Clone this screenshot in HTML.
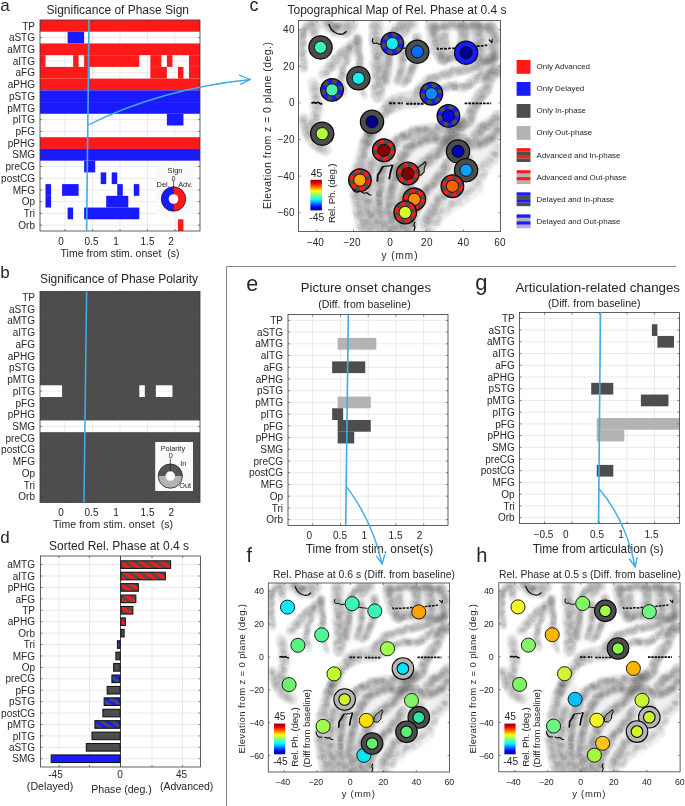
<!DOCTYPE html>
<html><head><meta charset="utf-8"><title>Figure</title>
<style>
html,body{margin:0;padding:0;background:#fff;}
svg{display:block;font-family:"Liberation Sans",sans-serif;}
</style></head><body>
<svg width="685" height="806" viewBox="0 0 685 806">
<rect width="685" height="806" fill="#fff"/>
<g opacity="0.999">
<defs>
<linearGradient id="jet" x1="0" y1="1" x2="0" y2="0">
<stop offset="0" stop-color="#00008F"/><stop offset="0.11" stop-color="#0000FF"/><stop offset="0.36" stop-color="#00FFFF"/>
<stop offset="0.5" stop-color="#80FF80"/><stop offset="0.63" stop-color="#FFFF00"/><stop offset="0.88" stop-color="#FF0000"/><stop offset="1" stop-color="#800000"/>
</linearGradient>
<pattern id="hr" width="6" height="6" patternUnits="userSpaceOnUse" patternTransform="rotate(35)">
<rect width="6" height="6" fill="#4D4D4D"/><rect width="6" height="3.1" fill="#FF1A1A"/></pattern>
<pattern id="hb" width="6" height="6" patternUnits="userSpaceOnUse" patternTransform="rotate(35)">
<rect width="6" height="6" fill="#4D4D4D"/><rect width="6" height="3.1" fill="#1A1AFF"/></pattern>
<filter id="bl" x="-5%" y="-5%" width="110%" height="110%"><feGaussianBlur stdDeviation="0.5"/></filter>
<filter id="bl3" x="-10%" y="-10%" width="120%" height="120%"><feGaussianBlur stdDeviation="2.5"/></filter>
<filter id="bl2" x="-5%" y="-5%" width="110%" height="110%"><feGaussianBlur stdDeviation="0.9"/></filter>

<g id="brain">
<g filter="url(#bl3)" fill="#555">
<path d="M337 671 L327 696 L320 724 L319 736 L321 752 L325 773 L384 773 L399 754 L420 739 L432 721 L444 707 L450 698 L450 666 L430 673 L400 679 L370 685 L350 691 Z" fill-opacity="0.09"/>
<path fill-rule="evenodd" d="M386 586 L447 586 L449 600 L447 618 L436 623 L400 621 L393 614 L387 600 Z M404.6 597 a3.2 6.5 0 1 0 6.4 0 a3.2 6.5 0 1 0 -6.4 0 Z" fill-opacity="0.13"/>
<path d="M333 586 L372 586 L378 598 L376 615 L368 634 L352 642 L335 650 L333 620 Z" fill-opacity="0.05"/>
</g>
<g filter="url(#bl2)" fill="none" stroke="#555" stroke-linecap="round" stroke-linejoin="round">
<path d="M272.5 626.0 L271.3 612.0 L271.5 600.0 L272.0 594.0" stroke-width="7.8" stroke-opacity="0.14"/>
<path d="M272.0 594.0 L275.0 588.0 L279.0 585.0 L281.5 590.0 L282.0 597.0" stroke-width="9.0" stroke-opacity="0.17"/>
<path d="M290.0 584.5 L294.0 587.0 L300.0 592.0 L307.0 593.0 L313.0 591.0 L316.5 586.0" stroke-width="11.2" stroke-opacity="0.17"/>
<path d="M297.0 586.0 L310.0 587.0" stroke-width="9.0" stroke-opacity="0.14"/>
<path d="M321.0 600.0 L312.7 608.0 L303.4 616.2 L295.2 625.5 L290.5 631.0" stroke-width="10.1" stroke-opacity="0.17"/>
<path d="M313.0 614.0 L307.0 626.7 L305.7 636.0 L308.6 646.5" stroke-width="7.8" stroke-opacity="0.14"/>
<path d="M321.0 600.0 L322.1 610.4 L323.2 621.0 L322.5 630.0" stroke-width="7.8" stroke-opacity="0.17"/>
<path d="M324.0 640.0 L326.5 650.0" stroke-width="5.6" stroke-opacity="0.10"/>
<path d="M338.0 586.0 L337.0 598.0 L339.5 610.0 L339.5 625.0 L340.0 640.0 L339.0 651.0" stroke-width="12.3" stroke-opacity="0.19"/>
<path d="M364.0 584.7 L356.0 590.0 L351.0 596.0 L349.5 612.0 L348.5 626.7 L346.5 638.0" stroke-width="7.8" stroke-opacity="0.17"/>
<path d="M361.5 603.0 L361.5 618.0 L360.5 628.0 L357.0 637.0" stroke-width="6.7" stroke-opacity="0.15"/>
<path d="M374.5 597.5 L374.5 611.0 L372.0 623.2 L368.0 632.6 L362.0 639.0" stroke-width="7.8" stroke-opacity="0.17"/>
<path d="M371.0 585.0 L366.0 590.0 L360.0 596.0" stroke-width="9.0" stroke-opacity="0.15"/>
<path d="M387.7 589.3 L390.0 599.9 L393.5 610.4 L398.2 617.4" stroke-width="12.3" stroke-opacity="0.17"/>
<path d="M387.7 589.3 L399.4 587.0 L414.5 587.0 L428.6 587.0 L441.4 589.3" stroke-width="9.0" stroke-opacity="0.17"/>
<path d="M415.7 589.3 L416.9 601.0 L414.5 610.4" stroke-width="10.1" stroke-opacity="0.17"/>
<path d="M428.6 589.3 L430.9 599.9 L432.0 610.4" stroke-width="11.2" stroke-opacity="0.17"/>
<path d="M441.4 589.3 L444.9 599.9 L444.9 610.4 L441.4 619.7" stroke-width="11.2" stroke-opacity="0.17"/>
<path d="M398.2 617.4 L406.4 615.0 L415.7 615.0 L425.0 616.2 L434.4 618.5" stroke-width="10.1" stroke-opacity="0.17"/>
<path d="M399.0 596.0 L400.0 606.0" stroke-width="7.8" stroke-opacity="0.14"/>
<path d="M446.0 615.0 L428.6 624.4 L413.4 627.9 L399.4 631.4 L385.3 636.1 L376.0 645.4" stroke-width="9.0" stroke-opacity="0.17"/>
<path d="M443.7 626.7 L428.6 634.9 L416.9 643.1 L405.2 641.9 L393.5 645.4 L383.0 652.4" stroke-width="9.0" stroke-opacity="0.17"/>
<path d="M383.0 648.0 L372.0 654.0 L361.0 655.0 L351.0 659.0" stroke-width="15.7" stroke-opacity="0.17"/>
<path d="M351.0 659.0 L342.2 667.9 L335.2 680.7 L329.0 692.0" stroke-width="11.2" stroke-opacity="0.17"/>
<path d="M450.7 626.7 L446.0 629.0 L439.0 636.0 L436.7 645.4 L429.7 652.4 L425.0 661.8 L421.5 672.3 L414.5 675.2 L405.2 686.9 L397.0 698.5 L387.7 706.7 L380.7 711.4 L376.0 716.0 L368.0 727.0 L362.5 740.0 L360.0 752.0 L360.0 764.0 L362.0 772.0" stroke-width="11.2" stroke-opacity="0.21"/>
<path d="M448.4 668.2 L441.4 675.2 L434.4 678.7 L427.4 686.9" stroke-width="10.1" stroke-opacity="0.20"/>
<path d="M448.4 681.0 L441.4 689.2 L432.0 693.9 L422.7 695.0 L414.5 689.2 L405.2 688.0 L397.0 690.4 L387.7 688.5 L376.0 691.5 L366.0 698.0 L359.0 710.0 L354.0 725.0 L351.0 740.0 L350.0 755.0 L352.0 772.0" stroke-width="10.1" stroke-opacity="0.21"/>
<path d="M448.4 698.5 L443.7 706.7 L436.7 712.6 L432.0 720.7 L426.2 734.7 L420.4 739.4 L414.5 744.1 L405.2 748.8 L399.4 754.0 L391.0 762.0 L384.0 772.0" stroke-width="12.3" stroke-opacity="0.10"/>
<path d="M416.0 677.0 L398.0 679.3 L381.4 680.7 L367.6 684.9 L356.6 690.4 L348.3 701.4 L344.1 715.2 L341.4 729.0 L340.0 748.0 L341.0 762.0 L344.0 772.0" stroke-width="10.1" stroke-opacity="0.20"/>
<path d="M402.9 711.0 L392.6 725.6 L382.4 735.9 L376.5 746.1 L370.6 759.3 L367.7 772.5" stroke-width="10.1" stroke-opacity="0.19"/>
<path d="M420.0 705.0 L412.0 722.0 L400.0 738.0 L390.0 750.0 L381.0 765.0" stroke-width="9.0" stroke-opacity="0.17"/>
<path d="M333.0 682.0 L326.5 698.0 L322.0 718.0 L320.0 738.0 L322.0 756.0 L326.5 771.0" stroke-width="11.2" stroke-opacity="0.17"/>
<path d="M335.0 709.0 L331.5 722.0 L330.0 740.0 L331.5 757.0 L335.0 772.0" stroke-width="10.1" stroke-opacity="0.17"/>
<path d="M281.2 639.6 L283.5 650.1 L284.7 661.8 L282.4 673.4" stroke-width="11.2" stroke-opacity="0.15"/>
<path d="M272.0 672.0 L276.0 684.0 L283.0 694.0 L292.0 699.0" stroke-width="11.2" stroke-opacity="0.17"/>
<path d="M282.0 675.0 L285.0 686.0" stroke-width="9.0" stroke-opacity="0.15"/>
</g>
<g filter="url(#bl)" fill="#555" fill-opacity="0.05">
<circle cx="272.1" cy="626.8" r="3.0"/>
<circle cx="274.1" cy="625.9" r="2.7"/>
<circle cx="274.0" cy="624.9" r="2.4"/>
<circle cx="271.8" cy="623.6" r="2.5"/>
<circle cx="269.8" cy="623.8" r="2.5"/>
<circle cx="272.5" cy="623.7" r="3.3"/>
<circle cx="270.7" cy="620.1" r="3.3"/>
<circle cx="274.8" cy="620.7" r="2.7"/>
<circle cx="272.4" cy="619.6" r="2.7"/>
<circle cx="272.2" cy="617.3" r="2.9"/>
<circle cx="270.8" cy="616.2" r="2.9"/>
<circle cx="272.2" cy="616.6" r="2.6"/>
<circle cx="270.9" cy="614.1" r="2.7"/>
<circle cx="270.1" cy="613.8" r="2.7"/>
<circle cx="272.1" cy="611.6" r="2.6"/>
<circle cx="269.8" cy="612.1" r="3.2"/>
<circle cx="271.1" cy="610.8" r="3.3"/>
<circle cx="272.4" cy="612.1" r="3.1"/>
<circle cx="272.3" cy="611.5" r="2.4"/>
<circle cx="270.1" cy="607.1" r="2.9"/>
<circle cx="272.3" cy="607.4" r="3.0"/>
<circle cx="269.8" cy="606.3" r="2.8"/>
<circle cx="273.3" cy="603.5" r="2.8"/>
<circle cx="271.1" cy="605.1" r="3.0"/>
<circle cx="268.6" cy="600.9" r="3.1"/>
<circle cx="271.1" cy="605.1" r="3.0"/>
<circle cx="273.1" cy="603.0" r="2.6"/>
<circle cx="271.8" cy="602.2" r="3.1"/>
<circle cx="272.2" cy="601.7" r="2.8"/>
<circle cx="271.9" cy="599.6" r="2.8"/>
<circle cx="268.7" cy="598.1" r="3.1"/>
<circle cx="272.4" cy="597.1" r="2.8"/>
<circle cx="269.8" cy="599.4" r="3.3"/>
<circle cx="272.4" cy="596.7" r="2.6"/>
<circle cx="272.1" cy="596.7" r="2.9"/>
<circle cx="272.0" cy="594.1" r="2.8"/>
<circle cx="270.5" cy="595.6" r="3.3"/>
<circle cx="271.6" cy="591.5" r="3.0"/>
<circle cx="272.4" cy="592.2" r="3.2"/>
<circle cx="273.6" cy="588.6" r="3.1"/>
<circle cx="272.0" cy="592.4" r="2.5"/>
<circle cx="273.3" cy="590.2" r="2.5"/>
<circle cx="274.3" cy="591.0" r="2.7"/>
<circle cx="274.4" cy="589.3" r="2.5"/>
<circle cx="276.0" cy="589.6" r="2.4"/>
<circle cx="276.6" cy="586.4" r="2.5"/>
<circle cx="275.5" cy="589.1" r="2.7"/>
<circle cx="278.5" cy="589.4" r="3.3"/>
<circle cx="274.8" cy="587.1" r="2.5"/>
<circle cx="278.5" cy="587.2" r="2.6"/>
<circle cx="278.3" cy="585.0" r="2.4"/>
<circle cx="280.4" cy="584.8" r="2.5"/>
<circle cx="278.6" cy="584.9" r="2.9"/>
<circle cx="282.7" cy="585.3" r="3.0"/>
<circle cx="279.6" cy="588.0" r="2.6"/>
<circle cx="280.4" cy="585.1" r="3.1"/>
<circle cx="279.9" cy="588.9" r="3.1"/>
<circle cx="284.1" cy="588.3" r="3.1"/>
<circle cx="282.3" cy="586.8" r="2.6"/>
<circle cx="279.9" cy="589.8" r="2.4"/>
<circle cx="282.9" cy="590.9" r="2.6"/>
<circle cx="280.1" cy="587.5" r="2.8"/>
<circle cx="286.3" cy="590.2" r="3.3"/>
<circle cx="280.9" cy="593.7" r="2.6"/>
<circle cx="282.1" cy="594.6" r="3.0"/>
<circle cx="284.4" cy="592.3" r="2.8"/>
<circle cx="280.1" cy="592.4" r="2.5"/>
<circle cx="279.9" cy="592.5" r="3.1"/>
<circle cx="282.0" cy="594.4" r="2.6"/>
<circle cx="282.4" cy="595.5" r="3.1"/>
<circle cx="292.1" cy="584.1" r="2.8"/>
<circle cx="293.9" cy="583.8" r="2.6"/>
<circle cx="292.2" cy="586.2" r="3.2"/>
<circle cx="292.4" cy="584.6" r="3.1"/>
<circle cx="295.7" cy="585.8" r="2.7"/>
<circle cx="292.3" cy="586.2" r="2.4"/>
<circle cx="297.0" cy="586.4" r="2.9"/>
<circle cx="296.6" cy="586.5" r="3.2"/>
<circle cx="295.8" cy="586.6" r="2.6"/>
<circle cx="295.2" cy="589.9" r="2.9"/>
<circle cx="296.1" cy="591.0" r="2.5"/>
<circle cx="298.4" cy="588.2" r="2.8"/>
<circle cx="293.3" cy="587.5" r="2.8"/>
<circle cx="300.0" cy="589.0" r="2.9"/>
<circle cx="298.0" cy="590.6" r="2.8"/>
<circle cx="299.0" cy="591.3" r="3.1"/>
<circle cx="300.6" cy="593.6" r="3.1"/>
<circle cx="298.3" cy="591.4" r="2.9"/>
<circle cx="297.2" cy="590.8" r="2.5"/>
<circle cx="299.9" cy="591.6" r="2.6"/>
<circle cx="302.4" cy="589.8" r="2.9"/>
<circle cx="303.1" cy="587.8" r="2.8"/>
<circle cx="301.6" cy="590.9" r="2.9"/>
<circle cx="303.4" cy="590.4" r="2.9"/>
<circle cx="299.9" cy="593.4" r="3.0"/>
<circle cx="309.2" cy="589.3" r="2.6"/>
<circle cx="301.6" cy="591.1" r="3.2"/>
<circle cx="307.7" cy="593.8" r="2.8"/>
<circle cx="309.1" cy="593.5" r="2.5"/>
<circle cx="306.6" cy="589.3" r="3.2"/>
<circle cx="310.9" cy="595.1" r="3.0"/>
<circle cx="312.4" cy="595.5" r="3.3"/>
<circle cx="311.3" cy="597.0" r="2.8"/>
<circle cx="304.7" cy="592.2" r="3.1"/>
<circle cx="312.8" cy="593.3" r="2.9"/>
<circle cx="311.6" cy="592.4" r="2.7"/>
<circle cx="312.9" cy="590.6" r="2.9"/>
<circle cx="313.1" cy="590.5" r="2.7"/>
<circle cx="312.1" cy="588.0" r="2.5"/>
<circle cx="318.0" cy="588.8" r="3.3"/>
<circle cx="316.1" cy="589.5" r="2.4"/>
<circle cx="315.5" cy="586.2" r="2.5"/>
<circle cx="311.5" cy="589.4" r="3.1"/>
<circle cx="316.0" cy="587.8" r="3.2"/>
<circle cx="313.6" cy="584.6" r="2.5"/>
<circle cx="299.4" cy="586.9" r="2.8"/>
<circle cx="301.5" cy="587.8" r="3.0"/>
<circle cx="299.1" cy="585.5" r="3.2"/>
<circle cx="302.8" cy="587.6" r="2.8"/>
<circle cx="299.6" cy="588.1" r="3.2"/>
<circle cx="301.5" cy="587.2" r="2.9"/>
<circle cx="302.6" cy="587.2" r="2.5"/>
<circle cx="304.6" cy="586.9" r="2.7"/>
<circle cx="303.5" cy="589.2" r="2.7"/>
<circle cx="304.3" cy="586.6" r="2.7"/>
<circle cx="307.6" cy="586.9" r="2.4"/>
<circle cx="307.0" cy="584.7" r="2.6"/>
<circle cx="304.3" cy="587.5" r="2.5"/>
<circle cx="309.8" cy="585.3" r="2.8"/>
<circle cx="310.9" cy="585.6" r="2.9"/>
<circle cx="319.0" cy="595.0" r="2.7"/>
<circle cx="321.9" cy="597.9" r="3.0"/>
<circle cx="318.5" cy="602.0" r="2.4"/>
<circle cx="319.9" cy="602.0" r="3.1"/>
<circle cx="318.9" cy="603.1" r="2.5"/>
<circle cx="320.5" cy="599.3" r="3.0"/>
<circle cx="317.6" cy="604.4" r="2.7"/>
<circle cx="316.3" cy="603.8" r="2.8"/>
<circle cx="316.4" cy="608.8" r="3.3"/>
<circle cx="315.0" cy="604.1" r="3.3"/>
<circle cx="315.2" cy="606.7" r="2.4"/>
<circle cx="313.7" cy="607.0" r="2.9"/>
<circle cx="315.5" cy="608.1" r="2.4"/>
<circle cx="314.2" cy="607.3" r="2.8"/>
<circle cx="314.1" cy="607.1" r="2.7"/>
<circle cx="313.5" cy="610.0" r="2.9"/>
<circle cx="312.7" cy="605.2" r="3.0"/>
<circle cx="313.5" cy="607.2" r="2.7"/>
<circle cx="312.7" cy="608.9" r="3.1"/>
<circle cx="310.7" cy="609.0" r="3.2"/>
<circle cx="312.6" cy="608.3" r="3.1"/>
<circle cx="310.4" cy="609.5" r="2.9"/>
<circle cx="305.8" cy="610.8" r="3.1"/>
<circle cx="310.0" cy="609.2" r="3.2"/>
<circle cx="307.1" cy="609.2" r="2.6"/>
<circle cx="308.8" cy="612.5" r="2.7"/>
<circle cx="310.1" cy="615.0" r="2.9"/>
<circle cx="304.8" cy="611.4" r="3.0"/>
<circle cx="306.0" cy="613.8" r="3.1"/>
<circle cx="305.6" cy="612.0" r="2.9"/>
<circle cx="304.7" cy="614.2" r="3.1"/>
<circle cx="304.5" cy="616.0" r="2.6"/>
<circle cx="303.8" cy="614.4" r="3.1"/>
<circle cx="305.6" cy="615.9" r="2.7"/>
<circle cx="300.1" cy="617.1" r="3.1"/>
<circle cx="300.4" cy="615.5" r="2.5"/>
<circle cx="302.8" cy="619.0" r="3.1"/>
<circle cx="300.6" cy="620.7" r="2.4"/>
<circle cx="302.4" cy="619.5" r="3.0"/>
<circle cx="299.5" cy="616.8" r="2.7"/>
<circle cx="297.9" cy="619.8" r="2.8"/>
<circle cx="302.5" cy="623.3" r="2.6"/>
<circle cx="303.5" cy="620.5" r="2.4"/>
<circle cx="295.2" cy="622.6" r="3.3"/>
<circle cx="296.7" cy="622.7" r="2.6"/>
<circle cx="298.8" cy="622.3" r="2.9"/>
<circle cx="298.6" cy="625.1" r="3.3"/>
<circle cx="299.0" cy="626.5" r="2.9"/>
<circle cx="298.4" cy="622.5" r="2.6"/>
<circle cx="297.4" cy="623.6" r="2.4"/>
<circle cx="297.4" cy="625.5" r="2.8"/>
<circle cx="294.4" cy="627.0" r="2.7"/>
<circle cx="292.8" cy="629.9" r="2.4"/>
<circle cx="293.8" cy="623.5" r="2.5"/>
<circle cx="296.0" cy="626.4" r="3.2"/>
<circle cx="292.4" cy="630.0" r="2.8"/>
<circle cx="294.9" cy="628.8" r="2.7"/>
<circle cx="290.5" cy="630.0" r="2.4"/>
<circle cx="294.3" cy="632.0" r="2.7"/>
<circle cx="292.3" cy="629.9" r="2.6"/>
<circle cx="289.3" cy="630.9" r="2.7"/>
<circle cx="315.9" cy="613.2" r="3.1"/>
<circle cx="310.4" cy="612.4" r="3.2"/>
<circle cx="310.0" cy="614.9" r="2.4"/>
<circle cx="311.7" cy="614.8" r="3.1"/>
<circle cx="310.8" cy="616.2" r="2.4"/>
<circle cx="311.8" cy="617.6" r="2.8"/>
<circle cx="310.1" cy="619.8" r="3.1"/>
<circle cx="311.5" cy="619.4" r="3.0"/>
<circle cx="309.4" cy="622.1" r="2.8"/>
<circle cx="310.1" cy="621.9" r="2.6"/>
<circle cx="310.7" cy="621.0" r="2.6"/>
<circle cx="313.0" cy="620.0" r="2.8"/>
<circle cx="309.1" cy="624.3" r="2.5"/>
<circle cx="307.8" cy="624.9" r="2.6"/>
<circle cx="307.6" cy="627.0" r="3.2"/>
<circle cx="307.4" cy="624.4" r="2.8"/>
<circle cx="305.6" cy="626.5" r="2.7"/>
<circle cx="308.0" cy="628.1" r="3.3"/>
<circle cx="308.0" cy="629.8" r="3.0"/>
<circle cx="307.3" cy="628.7" r="2.6"/>
<circle cx="306.5" cy="631.9" r="2.8"/>
<circle cx="309.1" cy="630.5" r="3.2"/>
<circle cx="306.6" cy="632.3" r="3.0"/>
<circle cx="307.4" cy="632.2" r="2.9"/>
<circle cx="307.4" cy="634.1" r="3.2"/>
<circle cx="307.2" cy="632.5" r="3.3"/>
<circle cx="305.7" cy="636.7" r="2.5"/>
<circle cx="303.7" cy="636.6" r="3.2"/>
<circle cx="305.8" cy="635.7" r="3.1"/>
<circle cx="304.6" cy="639.1" r="2.4"/>
<circle cx="306.9" cy="638.5" r="3.2"/>
<circle cx="306.1" cy="639.4" r="2.5"/>
<circle cx="307.1" cy="643.3" r="3.0"/>
<circle cx="307.8" cy="642.5" r="2.9"/>
<circle cx="306.4" cy="642.3" r="2.6"/>
<circle cx="307.7" cy="643.7" r="2.7"/>
<circle cx="304.5" cy="645.7" r="3.0"/>
<circle cx="309.6" cy="644.5" r="2.6"/>
<circle cx="308.7" cy="650.2" r="3.0"/>
<circle cx="320.9" cy="600.3" r="2.8"/>
<circle cx="320.4" cy="599.4" r="2.6"/>
<circle cx="319.5" cy="598.6" r="2.6"/>
<circle cx="322.5" cy="602.5" r="2.8"/>
<circle cx="320.9" cy="602.1" r="3.1"/>
<circle cx="321.3" cy="602.0" r="2.6"/>
<circle cx="322.7" cy="604.2" r="3.1"/>
<circle cx="321.7" cy="606.2" r="3.1"/>
<circle cx="320.6" cy="609.4" r="2.8"/>
<circle cx="322.1" cy="607.7" r="2.8"/>
<circle cx="320.0" cy="604.3" r="2.5"/>
<circle cx="321.1" cy="608.8" r="3.3"/>
<circle cx="322.2" cy="609.3" r="2.5"/>
<circle cx="319.6" cy="611.6" r="3.2"/>
<circle cx="321.5" cy="605.3" r="3.2"/>
<circle cx="321.7" cy="611.9" r="3.2"/>
<circle cx="322.2" cy="611.4" r="3.0"/>
<circle cx="321.3" cy="613.5" r="2.7"/>
<circle cx="322.4" cy="613.3" r="2.7"/>
<circle cx="320.3" cy="616.9" r="2.5"/>
<circle cx="323.5" cy="614.4" r="2.7"/>
<circle cx="323.8" cy="612.9" r="2.8"/>
<circle cx="324.3" cy="616.6" r="2.7"/>
<circle cx="323.6" cy="616.3" r="2.7"/>
<circle cx="323.1" cy="617.2" r="2.8"/>
<circle cx="323.9" cy="615.9" r="2.4"/>
<circle cx="323.5" cy="619.0" r="3.2"/>
<circle cx="322.9" cy="622.0" r="3.2"/>
<circle cx="322.5" cy="621.3" r="3.3"/>
<circle cx="322.3" cy="620.2" r="3.0"/>
<circle cx="322.7" cy="622.8" r="2.4"/>
<circle cx="323.2" cy="619.2" r="3.0"/>
<circle cx="323.3" cy="623.1" r="2.6"/>
<circle cx="319.3" cy="624.6" r="3.3"/>
<circle cx="322.1" cy="625.5" r="2.8"/>
<circle cx="319.5" cy="625.6" r="2.6"/>
<circle cx="323.6" cy="624.0" r="3.1"/>
<circle cx="323.0" cy="625.0" r="2.7"/>
<circle cx="322.1" cy="629.0" r="3.1"/>
<circle cx="323.5" cy="629.0" r="3.1"/>
<circle cx="322.6" cy="629.8" r="2.4"/>
<circle cx="321.3" cy="629.6" r="3.3"/>
<circle cx="326.3" cy="637.9" r="2.6"/>
<circle cx="324.7" cy="641.5" r="2.8"/>
<circle cx="324.3" cy="641.4" r="2.6"/>
<circle cx="323.7" cy="644.5" r="3.0"/>
<circle cx="325.2" cy="643.0" r="3.0"/>
<circle cx="327.0" cy="647.6" r="2.7"/>
<circle cx="324.9" cy="647.1" r="3.1"/>
<circle cx="326.4" cy="649.5" r="2.6"/>
<circle cx="327.7" cy="651.8" r="2.9"/>
<circle cx="336.9" cy="588.1" r="3.3"/>
<circle cx="336.3" cy="586.6" r="3.1"/>
<circle cx="333.8" cy="581.5" r="2.5"/>
<circle cx="333.6" cy="588.7" r="3.2"/>
<circle cx="338.3" cy="588.3" r="2.7"/>
<circle cx="338.8" cy="590.4" r="3.3"/>
<circle cx="333.0" cy="587.3" r="2.7"/>
<circle cx="339.3" cy="588.8" r="2.6"/>
<circle cx="338.5" cy="585.8" r="2.5"/>
<circle cx="334.9" cy="590.2" r="2.6"/>
<circle cx="336.6" cy="593.6" r="2.6"/>
<circle cx="337.3" cy="596.5" r="3.0"/>
<circle cx="337.4" cy="594.3" r="2.7"/>
<circle cx="336.6" cy="593.3" r="2.7"/>
<circle cx="338.4" cy="599.3" r="2.9"/>
<circle cx="338.2" cy="596.4" r="2.8"/>
<circle cx="334.0" cy="595.6" r="2.5"/>
<circle cx="338.9" cy="600.4" r="2.8"/>
<circle cx="336.6" cy="599.9" r="3.3"/>
<circle cx="336.0" cy="601.4" r="2.7"/>
<circle cx="333.3" cy="601.6" r="3.3"/>
<circle cx="336.4" cy="601.1" r="3.1"/>
<circle cx="337.6" cy="600.8" r="3.2"/>
<circle cx="333.9" cy="603.1" r="2.8"/>
<circle cx="339.7" cy="600.1" r="2.5"/>
<circle cx="340.8" cy="602.7" r="3.0"/>
<circle cx="338.9" cy="602.5" r="3.0"/>
<circle cx="336.3" cy="605.7" r="2.5"/>
<circle cx="337.7" cy="607.1" r="3.2"/>
<circle cx="340.5" cy="606.6" r="3.1"/>
<circle cx="340.1" cy="605.3" r="2.5"/>
<circle cx="344.6" cy="604.0" r="2.8"/>
<circle cx="343.8" cy="608.6" r="2.7"/>
<circle cx="341.6" cy="605.7" r="3.1"/>
<circle cx="341.3" cy="611.5" r="2.6"/>
<circle cx="335.5" cy="611.3" r="3.1"/>
<circle cx="340.0" cy="610.8" r="2.8"/>
<circle cx="337.2" cy="609.7" r="2.5"/>
<circle cx="339.6" cy="614.4" r="3.2"/>
<circle cx="342.4" cy="612.1" r="3.1"/>
<circle cx="343.8" cy="613.0" r="2.5"/>
<circle cx="337.1" cy="610.9" r="3.0"/>
<circle cx="338.7" cy="615.5" r="2.9"/>
<circle cx="336.5" cy="615.4" r="2.8"/>
<circle cx="339.0" cy="614.8" r="3.0"/>
<circle cx="337.8" cy="615.3" r="3.1"/>
<circle cx="340.0" cy="613.4" r="2.6"/>
<circle cx="338.4" cy="616.7" r="2.5"/>
<circle cx="338.6" cy="617.6" r="2.8"/>
<circle cx="338.8" cy="617.8" r="3.0"/>
<circle cx="342.8" cy="620.3" r="3.1"/>
<circle cx="338.7" cy="619.1" r="2.9"/>
<circle cx="335.4" cy="623.7" r="2.5"/>
<circle cx="344.3" cy="614.4" r="3.1"/>
<circle cx="340.1" cy="619.7" r="3.3"/>
<circle cx="333.7" cy="622.0" r="3.2"/>
<circle cx="341.6" cy="625.9" r="3.2"/>
<circle cx="341.5" cy="623.9" r="3.1"/>
<circle cx="342.2" cy="627.8" r="2.6"/>
<circle cx="340.0" cy="623.2" r="2.9"/>
<circle cx="340.9" cy="624.2" r="2.6"/>
<circle cx="337.5" cy="625.6" r="2.4"/>
<circle cx="340.1" cy="627.6" r="3.2"/>
<circle cx="337.5" cy="622.5" r="2.6"/>
<circle cx="339.8" cy="626.5" r="2.9"/>
<circle cx="338.2" cy="626.6" r="3.2"/>
<circle cx="336.8" cy="627.9" r="3.2"/>
<circle cx="345.4" cy="634.0" r="3.0"/>
<circle cx="336.4" cy="632.8" r="2.6"/>
<circle cx="342.7" cy="630.7" r="2.7"/>
<circle cx="339.9" cy="629.0" r="2.6"/>
<circle cx="339.7" cy="631.4" r="3.1"/>
<circle cx="339.7" cy="636.1" r="3.3"/>
<circle cx="336.9" cy="631.7" r="2.7"/>
<circle cx="340.4" cy="634.1" r="2.5"/>
<circle cx="338.0" cy="633.1" r="2.9"/>
<circle cx="340.8" cy="634.7" r="2.6"/>
<circle cx="339.6" cy="635.7" r="2.4"/>
<circle cx="339.2" cy="637.6" r="2.7"/>
<circle cx="340.4" cy="640.4" r="2.9"/>
<circle cx="340.9" cy="641.1" r="2.8"/>
<circle cx="343.6" cy="642.8" r="2.6"/>
<circle cx="340.6" cy="640.2" r="3.0"/>
<circle cx="342.8" cy="637.1" r="2.8"/>
<circle cx="339.9" cy="641.0" r="3.0"/>
<circle cx="337.9" cy="640.5" r="3.0"/>
<circle cx="334.7" cy="643.8" r="3.1"/>
<circle cx="339.8" cy="647.6" r="2.4"/>
<circle cx="337.4" cy="642.8" r="2.6"/>
<circle cx="343.4" cy="645.3" r="2.4"/>
<circle cx="334.4" cy="642.8" r="2.5"/>
<circle cx="340.5" cy="648.2" r="2.9"/>
<circle cx="336.8" cy="642.5" r="2.6"/>
<circle cx="338.7" cy="648.3" r="2.4"/>
<circle cx="342.5" cy="644.5" r="3.0"/>
<circle cx="343.7" cy="647.9" r="3.1"/>
<circle cx="335.5" cy="649.2" r="2.8"/>
<circle cx="339.3" cy="650.1" r="2.6"/>
<circle cx="341.1" cy="650.2" r="3.1"/>
<circle cx="337.5" cy="646.2" r="3.0"/>
<circle cx="338.7" cy="653.9" r="2.8"/>
<circle cx="364.4" cy="583.0" r="2.6"/>
<circle cx="361.0" cy="582.1" r="2.6"/>
<circle cx="363.0" cy="585.3" r="2.6"/>
<circle cx="362.4" cy="588.3" r="3.3"/>
<circle cx="361.5" cy="585.0" r="3.2"/>
<circle cx="360.4" cy="587.7" r="3.2"/>
<circle cx="358.8" cy="585.5" r="3.0"/>
<circle cx="361.3" cy="587.3" r="3.2"/>
<circle cx="358.1" cy="585.2" r="2.8"/>
<circle cx="358.2" cy="586.5" r="2.7"/>
<circle cx="358.3" cy="590.8" r="2.5"/>
<circle cx="357.9" cy="588.7" r="2.4"/>
<circle cx="359.3" cy="591.7" r="2.7"/>
<circle cx="356.2" cy="590.3" r="2.4"/>
<circle cx="354.8" cy="588.6" r="3.0"/>
<circle cx="355.0" cy="590.6" r="2.9"/>
<circle cx="352.9" cy="593.7" r="3.1"/>
<circle cx="354.6" cy="591.8" r="3.2"/>
<circle cx="356.8" cy="590.9" r="2.5"/>
<circle cx="353.5" cy="594.0" r="2.4"/>
<circle cx="354.4" cy="591.6" r="3.0"/>
<circle cx="353.3" cy="592.5" r="2.7"/>
<circle cx="352.4" cy="595.3" r="3.1"/>
<circle cx="351.8" cy="596.7" r="2.8"/>
<circle cx="352.1" cy="596.1" r="2.7"/>
<circle cx="350.6" cy="595.4" r="2.7"/>
<circle cx="352.6" cy="597.1" r="3.2"/>
<circle cx="350.5" cy="597.9" r="2.8"/>
<circle cx="348.4" cy="599.9" r="2.7"/>
<circle cx="350.1" cy="597.9" r="2.6"/>
<circle cx="351.0" cy="599.9" r="3.1"/>
<circle cx="350.6" cy="601.2" r="2.6"/>
<circle cx="350.8" cy="597.8" r="2.4"/>
<circle cx="348.7" cy="602.6" r="3.1"/>
<circle cx="351.0" cy="604.8" r="2.7"/>
<circle cx="350.8" cy="603.0" r="3.2"/>
<circle cx="350.0" cy="605.7" r="3.0"/>
<circle cx="349.4" cy="605.5" r="3.0"/>
<circle cx="352.3" cy="607.4" r="3.0"/>
<circle cx="350.5" cy="604.9" r="2.7"/>
<circle cx="348.7" cy="608.5" r="3.2"/>
<circle cx="352.5" cy="610.0" r="2.4"/>
<circle cx="350.1" cy="610.2" r="3.2"/>
<circle cx="348.3" cy="609.8" r="3.2"/>
<circle cx="349.8" cy="612.2" r="2.9"/>
<circle cx="349.6" cy="608.8" r="3.0"/>
<circle cx="348.7" cy="613.1" r="2.5"/>
<circle cx="350.6" cy="610.9" r="3.1"/>
<circle cx="350.2" cy="614.8" r="3.1"/>
<circle cx="348.7" cy="613.7" r="2.8"/>
<circle cx="350.1" cy="614.1" r="2.6"/>
<circle cx="348.5" cy="617.7" r="3.2"/>
<circle cx="349.7" cy="616.9" r="2.6"/>
<circle cx="348.3" cy="618.5" r="2.5"/>
<circle cx="348.7" cy="618.4" r="3.3"/>
<circle cx="349.0" cy="617.6" r="3.3"/>
<circle cx="350.2" cy="619.9" r="3.3"/>
<circle cx="349.6" cy="617.4" r="2.8"/>
<circle cx="349.6" cy="622.4" r="2.5"/>
<circle cx="349.3" cy="622.5" r="2.4"/>
<circle cx="346.7" cy="623.3" r="3.0"/>
<circle cx="346.7" cy="622.5" r="2.8"/>
<circle cx="350.0" cy="624.8" r="2.8"/>
<circle cx="348.5" cy="620.7" r="2.8"/>
<circle cx="346.5" cy="623.5" r="2.8"/>
<circle cx="348.9" cy="627.6" r="3.2"/>
<circle cx="348.9" cy="623.7" r="3.2"/>
<circle cx="347.6" cy="624.8" r="2.8"/>
<circle cx="347.6" cy="629.3" r="2.5"/>
<circle cx="346.0" cy="629.4" r="3.0"/>
<circle cx="347.4" cy="628.0" r="2.8"/>
<circle cx="346.0" cy="630.1" r="2.8"/>
<circle cx="346.3" cy="627.2" r="2.6"/>
<circle cx="346.3" cy="628.8" r="2.7"/>
<circle cx="343.6" cy="631.9" r="2.4"/>
<circle cx="346.7" cy="632.1" r="3.1"/>
<circle cx="349.0" cy="632.4" r="2.5"/>
<circle cx="345.6" cy="632.9" r="3.0"/>
<circle cx="345.0" cy="634.3" r="3.1"/>
<circle cx="345.5" cy="635.0" r="3.3"/>
<circle cx="347.4" cy="638.0" r="2.8"/>
<circle cx="346.8" cy="635.8" r="3.3"/>
<circle cx="346.3" cy="637.7" r="2.6"/>
<circle cx="346.3" cy="638.1" r="2.8"/>
<circle cx="359.8" cy="603.9" r="2.7"/>
<circle cx="361.4" cy="604.7" r="3.1"/>
<circle cx="362.9" cy="604.0" r="2.6"/>
<circle cx="361.9" cy="604.2" r="2.6"/>
<circle cx="363.0" cy="607.7" r="3.1"/>
<circle cx="360.6" cy="605.9" r="2.9"/>
<circle cx="362.0" cy="610.9" r="2.7"/>
<circle cx="360.0" cy="606.7" r="3.1"/>
<circle cx="360.5" cy="609.5" r="2.9"/>
<circle cx="363.2" cy="611.8" r="2.7"/>
<circle cx="362.1" cy="610.1" r="2.7"/>
<circle cx="361.5" cy="613.0" r="2.6"/>
<circle cx="363.5" cy="612.5" r="2.7"/>
<circle cx="361.5" cy="614.3" r="2.8"/>
<circle cx="359.9" cy="614.8" r="3.0"/>
<circle cx="359.6" cy="617.0" r="3.2"/>
<circle cx="363.7" cy="616.5" r="3.2"/>
<circle cx="361.6" cy="615.7" r="3.1"/>
<circle cx="361.4" cy="617.0" r="2.4"/>
<circle cx="363.3" cy="617.5" r="2.6"/>
<circle cx="362.0" cy="619.2" r="2.6"/>
<circle cx="361.5" cy="618.5" r="2.5"/>
<circle cx="363.1" cy="619.2" r="2.6"/>
<circle cx="362.5" cy="620.2" r="3.1"/>
<circle cx="359.8" cy="619.8" r="3.1"/>
<circle cx="361.4" cy="622.3" r="3.0"/>
<circle cx="358.9" cy="623.4" r="2.8"/>
<circle cx="362.0" cy="623.6" r="2.6"/>
<circle cx="360.8" cy="626.2" r="2.8"/>
<circle cx="362.0" cy="626.8" r="2.5"/>
<circle cx="359.1" cy="627.2" r="2.9"/>
<circle cx="360.6" cy="627.9" r="3.2"/>
<circle cx="358.6" cy="629.1" r="3.0"/>
<circle cx="360.6" cy="628.5" r="2.8"/>
<circle cx="360.1" cy="630.1" r="3.0"/>
<circle cx="359.1" cy="630.8" r="2.9"/>
<circle cx="357.8" cy="629.1" r="2.7"/>
<circle cx="360.2" cy="632.3" r="2.8"/>
<circle cx="358.7" cy="633.1" r="3.0"/>
<circle cx="357.4" cy="633.2" r="3.2"/>
<circle cx="356.9" cy="635.8" r="2.9"/>
<circle cx="357.7" cy="634.6" r="2.8"/>
<circle cx="355.9" cy="637.0" r="3.1"/>
<circle cx="356.4" cy="639.3" r="2.8"/>
<circle cx="373.3" cy="597.5" r="2.9"/>
<circle cx="376.6" cy="597.9" r="3.1"/>
<circle cx="373.9" cy="600.0" r="2.7"/>
<circle cx="372.7" cy="598.6" r="3.1"/>
<circle cx="376.8" cy="600.9" r="3.2"/>
<circle cx="374.0" cy="600.9" r="2.7"/>
<circle cx="375.5" cy="601.8" r="3.2"/>
<circle cx="372.8" cy="601.1" r="3.1"/>
<circle cx="376.2" cy="602.1" r="3.0"/>
<circle cx="372.9" cy="602.3" r="2.9"/>
<circle cx="374.1" cy="603.7" r="3.0"/>
<circle cx="372.1" cy="606.0" r="2.5"/>
<circle cx="374.7" cy="606.4" r="3.1"/>
<circle cx="376.3" cy="605.6" r="2.7"/>
<circle cx="375.6" cy="605.1" r="2.9"/>
<circle cx="374.4" cy="609.4" r="2.8"/>
<circle cx="373.8" cy="610.3" r="3.0"/>
<circle cx="375.0" cy="609.4" r="2.9"/>
<circle cx="375.2" cy="610.5" r="3.1"/>
<circle cx="371.6" cy="609.5" r="2.8"/>
<circle cx="375.8" cy="611.8" r="2.9"/>
<circle cx="378.0" cy="610.9" r="2.8"/>
<circle cx="373.5" cy="613.5" r="3.0"/>
<circle cx="374.1" cy="614.7" r="2.4"/>
<circle cx="376.0" cy="614.7" r="2.5"/>
<circle cx="374.2" cy="615.2" r="3.2"/>
<circle cx="373.7" cy="616.2" r="3.0"/>
<circle cx="373.4" cy="619.1" r="2.6"/>
<circle cx="375.6" cy="618.2" r="3.0"/>
<circle cx="374.5" cy="616.3" r="2.5"/>
<circle cx="371.3" cy="617.2" r="2.8"/>
<circle cx="373.8" cy="619.1" r="3.3"/>
<circle cx="372.5" cy="620.1" r="2.4"/>
<circle cx="370.9" cy="618.8" r="2.5"/>
<circle cx="371.4" cy="624.0" r="2.5"/>
<circle cx="373.2" cy="621.2" r="2.5"/>
<circle cx="370.7" cy="624.6" r="2.8"/>
<circle cx="371.3" cy="623.1" r="3.1"/>
<circle cx="370.0" cy="626.1" r="3.0"/>
<circle cx="369.9" cy="625.9" r="3.1"/>
<circle cx="373.3" cy="625.0" r="2.9"/>
<circle cx="370.4" cy="627.1" r="3.3"/>
<circle cx="369.5" cy="624.6" r="2.7"/>
<circle cx="366.8" cy="625.4" r="3.1"/>
<circle cx="368.7" cy="627.8" r="2.8"/>
<circle cx="370.5" cy="628.3" r="3.0"/>
<circle cx="366.6" cy="628.0" r="3.1"/>
<circle cx="368.8" cy="630.7" r="2.6"/>
<circle cx="366.8" cy="632.2" r="3.1"/>
<circle cx="368.6" cy="631.6" r="3.1"/>
<circle cx="369.1" cy="629.9" r="2.9"/>
<circle cx="367.1" cy="636.0" r="3.1"/>
<circle cx="365.7" cy="630.7" r="2.7"/>
<circle cx="368.1" cy="635.2" r="3.1"/>
<circle cx="366.8" cy="637.1" r="3.2"/>
<circle cx="365.7" cy="637.3" r="3.0"/>
<circle cx="364.0" cy="636.0" r="2.6"/>
<circle cx="364.5" cy="633.7" r="2.8"/>
<circle cx="366.3" cy="638.3" r="3.1"/>
<circle cx="363.7" cy="639.3" r="3.2"/>
<circle cx="364.3" cy="636.8" r="2.8"/>
<circle cx="361.7" cy="638.0" r="2.6"/>
<circle cx="363.0" cy="641.1" r="2.7"/>
<circle cx="369.4" cy="584.3" r="2.9"/>
<circle cx="370.7" cy="586.0" r="3.3"/>
<circle cx="369.3" cy="586.7" r="3.0"/>
<circle cx="369.6" cy="585.7" r="2.9"/>
<circle cx="367.6" cy="588.9" r="2.4"/>
<circle cx="373.2" cy="588.9" r="3.2"/>
<circle cx="365.5" cy="588.5" r="2.6"/>
<circle cx="367.4" cy="587.1" r="3.3"/>
<circle cx="366.9" cy="586.4" r="3.3"/>
<circle cx="366.0" cy="590.5" r="2.6"/>
<circle cx="365.7" cy="591.2" r="2.4"/>
<circle cx="361.6" cy="590.0" r="2.8"/>
<circle cx="367.7" cy="590.6" r="2.5"/>
<circle cx="362.2" cy="591.4" r="2.5"/>
<circle cx="364.3" cy="592.7" r="2.9"/>
<circle cx="359.7" cy="590.3" r="3.0"/>
<circle cx="360.4" cy="595.3" r="2.5"/>
<circle cx="366.3" cy="593.7" r="2.6"/>
<circle cx="361.9" cy="595.7" r="2.7"/>
<circle cx="363.0" cy="593.9" r="3.2"/>
<circle cx="391.6" cy="590.5" r="3.0"/>
<circle cx="383.8" cy="584.7" r="2.5"/>
<circle cx="390.4" cy="593.8" r="3.2"/>
<circle cx="387.3" cy="589.7" r="2.9"/>
<circle cx="388.4" cy="591.0" r="2.7"/>
<circle cx="388.4" cy="594.0" r="2.8"/>
<circle cx="389.5" cy="595.0" r="2.5"/>
<circle cx="388.6" cy="593.9" r="3.0"/>
<circle cx="389.1" cy="595.5" r="3.2"/>
<circle cx="390.1" cy="601.0" r="3.2"/>
<circle cx="390.2" cy="595.6" r="2.8"/>
<circle cx="393.7" cy="600.1" r="3.2"/>
<circle cx="387.8" cy="596.0" r="2.7"/>
<circle cx="390.9" cy="596.1" r="3.0"/>
<circle cx="390.9" cy="600.5" r="2.5"/>
<circle cx="389.3" cy="597.0" r="2.5"/>
<circle cx="391.5" cy="599.3" r="2.8"/>
<circle cx="391.5" cy="602.8" r="3.2"/>
<circle cx="390.0" cy="603.2" r="2.8"/>
<circle cx="388.9" cy="607.2" r="2.5"/>
<circle cx="391.9" cy="603.3" r="3.2"/>
<circle cx="390.6" cy="602.7" r="2.8"/>
<circle cx="391.2" cy="606.5" r="2.6"/>
<circle cx="387.2" cy="610.8" r="3.3"/>
<circle cx="393.0" cy="605.7" r="2.7"/>
<circle cx="393.0" cy="606.4" r="3.1"/>
<circle cx="390.8" cy="613.8" r="2.4"/>
<circle cx="393.5" cy="606.3" r="2.5"/>
<circle cx="397.4" cy="609.1" r="2.9"/>
<circle cx="394.2" cy="612.0" r="3.2"/>
<circle cx="394.1" cy="613.3" r="2.5"/>
<circle cx="395.6" cy="614.6" r="3.0"/>
<circle cx="394.6" cy="612.5" r="2.5"/>
<circle cx="392.6" cy="610.4" r="2.6"/>
<circle cx="395.9" cy="615.8" r="3.0"/>
<circle cx="396.6" cy="610.5" r="2.6"/>
<circle cx="399.3" cy="615.4" r="2.8"/>
<circle cx="396.1" cy="613.7" r="3.1"/>
<circle cx="394.4" cy="618.9" r="3.2"/>
<circle cx="396.6" cy="615.7" r="3.2"/>
<circle cx="392.8" cy="616.9" r="2.6"/>
<circle cx="399.5" cy="620.8" r="2.7"/>
<circle cx="399.4" cy="619.3" r="2.9"/>
<circle cx="389.7" cy="589.4" r="2.8"/>
<circle cx="387.5" cy="589.1" r="3.0"/>
<circle cx="390.4" cy="586.0" r="2.7"/>
<circle cx="389.4" cy="587.3" r="3.1"/>
<circle cx="393.6" cy="590.0" r="3.3"/>
<circle cx="389.1" cy="588.7" r="2.9"/>
<circle cx="391.5" cy="588.4" r="3.3"/>
<circle cx="392.7" cy="589.4" r="2.5"/>
<circle cx="393.2" cy="591.3" r="2.4"/>
<circle cx="396.0" cy="589.6" r="2.6"/>
<circle cx="396.8" cy="588.2" r="2.9"/>
<circle cx="392.7" cy="587.4" r="2.5"/>
<circle cx="397.8" cy="585.7" r="2.4"/>
<circle cx="398.0" cy="588.9" r="2.9"/>
<circle cx="397.2" cy="588.2" r="2.8"/>
<circle cx="399.5" cy="589.0" r="3.2"/>
<circle cx="400.0" cy="588.9" r="3.1"/>
<circle cx="401.0" cy="589.7" r="3.2"/>
<circle cx="398.8" cy="588.1" r="3.2"/>
<circle cx="399.2" cy="586.7" r="3.2"/>
<circle cx="401.8" cy="585.5" r="2.6"/>
<circle cx="401.4" cy="588.5" r="3.3"/>
<circle cx="404.2" cy="583.5" r="3.1"/>
<circle cx="404.0" cy="586.5" r="2.9"/>
<circle cx="408.2" cy="586.0" r="2.6"/>
<circle cx="403.1" cy="588.1" r="2.7"/>
<circle cx="405.2" cy="586.9" r="2.8"/>
<circle cx="406.2" cy="587.0" r="2.5"/>
<circle cx="410.2" cy="586.4" r="3.2"/>
<circle cx="406.0" cy="584.7" r="3.2"/>
<circle cx="409.1" cy="586.7" r="3.0"/>
<circle cx="409.2" cy="589.5" r="2.6"/>
<circle cx="406.5" cy="586.0" r="3.0"/>
<circle cx="410.9" cy="589.0" r="2.8"/>
<circle cx="412.9" cy="586.6" r="2.7"/>
<circle cx="411.8" cy="586.3" r="2.9"/>
<circle cx="415.0" cy="586.5" r="2.6"/>
<circle cx="411.8" cy="587.4" r="2.5"/>
<circle cx="415.1" cy="587.6" r="2.7"/>
<circle cx="414.1" cy="587.8" r="2.6"/>
<circle cx="417.7" cy="588.1" r="3.2"/>
<circle cx="414.9" cy="585.6" r="3.0"/>
<circle cx="418.1" cy="589.5" r="2.8"/>
<circle cx="415.8" cy="586.3" r="2.8"/>
<circle cx="418.3" cy="588.2" r="2.6"/>
<circle cx="417.8" cy="586.9" r="2.9"/>
<circle cx="421.7" cy="587.1" r="3.2"/>
<circle cx="421.0" cy="589.1" r="2.8"/>
<circle cx="420.5" cy="591.9" r="2.7"/>
<circle cx="422.4" cy="586.0" r="2.5"/>
<circle cx="424.2" cy="585.7" r="2.5"/>
<circle cx="422.3" cy="588.2" r="3.1"/>
<circle cx="425.3" cy="587.8" r="3.3"/>
<circle cx="425.0" cy="586.0" r="2.7"/>
<circle cx="424.3" cy="589.0" r="3.0"/>
<circle cx="428.3" cy="584.5" r="2.9"/>
<circle cx="427.0" cy="584.2" r="3.1"/>
<circle cx="425.0" cy="587.5" r="3.0"/>
<circle cx="429.4" cy="586.6" r="3.2"/>
<circle cx="432.2" cy="587.2" r="2.9"/>
<circle cx="425.7" cy="587.3" r="2.9"/>
<circle cx="428.2" cy="588.8" r="3.2"/>
<circle cx="430.2" cy="586.5" r="2.8"/>
<circle cx="429.6" cy="588.3" r="2.7"/>
<circle cx="431.2" cy="589.1" r="2.7"/>
<circle cx="432.3" cy="590.6" r="3.2"/>
<circle cx="432.5" cy="588.0" r="2.6"/>
<circle cx="434.7" cy="589.0" r="2.9"/>
<circle cx="435.1" cy="587.9" r="3.2"/>
<circle cx="435.0" cy="591.3" r="3.2"/>
<circle cx="438.2" cy="588.2" r="2.8"/>
<circle cx="438.1" cy="588.5" r="2.4"/>
<circle cx="436.7" cy="588.0" r="3.2"/>
<circle cx="439.6" cy="586.9" r="3.3"/>
<circle cx="438.0" cy="588.8" r="3.0"/>
<circle cx="439.5" cy="590.2" r="2.9"/>
<circle cx="439.0" cy="592.6" r="3.0"/>
<circle cx="414.8" cy="589.2" r="2.7"/>
<circle cx="413.8" cy="591.4" r="2.9"/>
<circle cx="419.4" cy="587.4" r="2.8"/>
<circle cx="413.5" cy="592.5" r="3.3"/>
<circle cx="414.7" cy="594.2" r="3.1"/>
<circle cx="416.9" cy="594.4" r="3.3"/>
<circle cx="417.2" cy="591.7" r="2.5"/>
<circle cx="418.5" cy="592.6" r="3.1"/>
<circle cx="420.2" cy="594.9" r="2.8"/>
<circle cx="417.2" cy="597.2" r="2.9"/>
<circle cx="415.2" cy="596.6" r="2.6"/>
<circle cx="414.8" cy="595.5" r="2.7"/>
<circle cx="419.3" cy="598.0" r="2.4"/>
<circle cx="413.9" cy="600.6" r="2.7"/>
<circle cx="416.7" cy="599.4" r="2.7"/>
<circle cx="418.2" cy="598.2" r="3.0"/>
<circle cx="417.6" cy="603.1" r="2.9"/>
<circle cx="416.4" cy="604.4" r="2.9"/>
<circle cx="419.0" cy="602.4" r="2.8"/>
<circle cx="417.1" cy="603.9" r="3.1"/>
<circle cx="416.8" cy="604.4" r="2.6"/>
<circle cx="412.5" cy="604.1" r="3.0"/>
<circle cx="416.0" cy="604.7" r="2.4"/>
<circle cx="415.8" cy="604.4" r="3.0"/>
<circle cx="414.7" cy="607.7" r="2.6"/>
<circle cx="418.6" cy="609.9" r="2.9"/>
<circle cx="413.9" cy="609.9" r="2.7"/>
<circle cx="418.6" cy="610.3" r="2.9"/>
<circle cx="416.7" cy="609.2" r="3.0"/>
<circle cx="414.5" cy="611.0" r="3.2"/>
<circle cx="429.7" cy="587.9" r="3.2"/>
<circle cx="429.5" cy="588.4" r="2.9"/>
<circle cx="431.3" cy="590.1" r="3.3"/>
<circle cx="429.2" cy="593.5" r="3.0"/>
<circle cx="429.5" cy="593.9" r="3.2"/>
<circle cx="425.7" cy="593.2" r="2.6"/>
<circle cx="430.4" cy="595.3" r="2.6"/>
<circle cx="431.4" cy="593.9" r="2.9"/>
<circle cx="431.8" cy="596.7" r="2.7"/>
<circle cx="429.3" cy="596.1" r="2.5"/>
<circle cx="431.0" cy="594.6" r="2.6"/>
<circle cx="430.9" cy="598.7" r="2.6"/>
<circle cx="433.5" cy="598.5" r="2.7"/>
<circle cx="432.4" cy="601.2" r="2.5"/>
<circle cx="430.3" cy="603.1" r="2.5"/>
<circle cx="427.2" cy="601.3" r="3.1"/>
<circle cx="432.0" cy="602.2" r="3.1"/>
<circle cx="427.3" cy="605.0" r="2.6"/>
<circle cx="433.5" cy="601.2" r="2.6"/>
<circle cx="430.1" cy="603.0" r="3.0"/>
<circle cx="431.0" cy="607.9" r="2.9"/>
<circle cx="430.3" cy="605.3" r="2.9"/>
<circle cx="432.4" cy="608.9" r="2.5"/>
<circle cx="428.9" cy="605.3" r="2.6"/>
<circle cx="431.8" cy="604.1" r="3.0"/>
<circle cx="430.0" cy="606.2" r="2.8"/>
<circle cx="432.8" cy="608.3" r="3.2"/>
<circle cx="430.4" cy="611.1" r="2.5"/>
<circle cx="430.0" cy="608.2" r="2.9"/>
<circle cx="431.7" cy="610.4" r="2.7"/>
<circle cx="432.2" cy="611.5" r="3.0"/>
<circle cx="441.0" cy="591.4" r="3.2"/>
<circle cx="442.3" cy="585.7" r="3.2"/>
<circle cx="443.0" cy="592.0" r="2.4"/>
<circle cx="440.8" cy="588.6" r="2.7"/>
<circle cx="439.7" cy="593.7" r="3.0"/>
<circle cx="442.6" cy="596.9" r="2.7"/>
<circle cx="441.9" cy="592.6" r="2.5"/>
<circle cx="445.9" cy="592.5" r="3.0"/>
<circle cx="443.8" cy="595.1" r="2.5"/>
<circle cx="444.1" cy="597.4" r="2.7"/>
<circle cx="445.5" cy="596.8" r="3.0"/>
<circle cx="445.7" cy="600.7" r="2.9"/>
<circle cx="443.9" cy="596.2" r="2.8"/>
<circle cx="443.7" cy="596.7" r="2.4"/>
<circle cx="446.5" cy="596.1" r="2.7"/>
<circle cx="448.9" cy="601.0" r="2.9"/>
<circle cx="446.4" cy="601.1" r="2.5"/>
<circle cx="445.3" cy="599.9" r="3.2"/>
<circle cx="444.9" cy="601.1" r="3.0"/>
<circle cx="442.2" cy="604.9" r="3.1"/>
<circle cx="444.7" cy="604.3" r="3.3"/>
<circle cx="440.6" cy="606.3" r="3.0"/>
<circle cx="444.6" cy="600.9" r="3.0"/>
<circle cx="444.2" cy="605.7" r="3.0"/>
<circle cx="442.6" cy="607.3" r="3.2"/>
<circle cx="447.4" cy="609.5" r="2.4"/>
<circle cx="443.8" cy="604.0" r="2.6"/>
<circle cx="439.6" cy="606.7" r="3.0"/>
<circle cx="443.4" cy="608.6" r="2.5"/>
<circle cx="443.5" cy="611.4" r="2.6"/>
<circle cx="444.5" cy="611.5" r="3.0"/>
<circle cx="443.9" cy="609.7" r="2.6"/>
<circle cx="442.1" cy="611.5" r="3.2"/>
<circle cx="443.1" cy="613.8" r="3.2"/>
<circle cx="445.6" cy="615.2" r="2.7"/>
<circle cx="444.7" cy="611.3" r="3.1"/>
<circle cx="444.9" cy="617.1" r="2.9"/>
<circle cx="439.7" cy="615.9" r="3.1"/>
<circle cx="444.2" cy="616.9" r="2.7"/>
<circle cx="442.9" cy="617.1" r="2.7"/>
<circle cx="443.5" cy="620.1" r="2.8"/>
<circle cx="443.6" cy="618.9" r="2.8"/>
<circle cx="441.1" cy="619.3" r="2.5"/>
<circle cx="448.2" cy="619.5" r="3.1"/>
<circle cx="444.3" cy="621.4" r="3.3"/>
<circle cx="397.4" cy="617.0" r="2.8"/>
<circle cx="397.8" cy="617.7" r="2.9"/>
<circle cx="403.8" cy="617.2" r="3.0"/>
<circle cx="397.2" cy="613.6" r="3.0"/>
<circle cx="400.9" cy="618.0" r="2.5"/>
<circle cx="404.8" cy="617.0" r="3.2"/>
<circle cx="402.0" cy="617.4" r="3.0"/>
<circle cx="405.4" cy="612.4" r="2.6"/>
<circle cx="404.4" cy="612.3" r="3.1"/>
<circle cx="403.8" cy="616.7" r="3.1"/>
<circle cx="404.3" cy="617.0" r="2.9"/>
<circle cx="403.3" cy="617.8" r="2.6"/>
<circle cx="408.8" cy="615.6" r="3.0"/>
<circle cx="408.4" cy="612.3" r="3.2"/>
<circle cx="409.9" cy="614.3" r="2.8"/>
<circle cx="409.4" cy="616.3" r="2.9"/>
<circle cx="411.8" cy="616.4" r="2.5"/>
<circle cx="405.3" cy="616.7" r="2.5"/>
<circle cx="412.7" cy="615.5" r="2.6"/>
<circle cx="411.4" cy="614.9" r="3.2"/>
<circle cx="414.2" cy="612.4" r="2.8"/>
<circle cx="412.3" cy="617.7" r="2.9"/>
<circle cx="412.0" cy="615.8" r="2.8"/>
<circle cx="412.5" cy="611.9" r="3.2"/>
<circle cx="415.8" cy="616.4" r="2.8"/>
<circle cx="414.1" cy="614.3" r="2.6"/>
<circle cx="417.9" cy="615.9" r="2.8"/>
<circle cx="421.2" cy="614.4" r="3.2"/>
<circle cx="422.6" cy="614.5" r="3.0"/>
<circle cx="418.8" cy="614.8" r="3.0"/>
<circle cx="418.0" cy="614.5" r="2.9"/>
<circle cx="422.1" cy="614.9" r="3.0"/>
<circle cx="420.2" cy="617.3" r="3.2"/>
<circle cx="422.6" cy="616.0" r="3.0"/>
<circle cx="421.4" cy="616.1" r="3.0"/>
<circle cx="421.1" cy="617.7" r="2.8"/>
<circle cx="421.2" cy="615.6" r="2.8"/>
<circle cx="425.2" cy="616.9" r="3.2"/>
<circle cx="424.1" cy="615.9" r="3.2"/>
<circle cx="425.7" cy="617.2" r="2.9"/>
<circle cx="426.4" cy="618.7" r="2.9"/>
<circle cx="427.5" cy="619.2" r="2.5"/>
<circle cx="425.4" cy="616.7" r="2.5"/>
<circle cx="428.0" cy="617.5" r="2.8"/>
<circle cx="430.9" cy="615.5" r="3.0"/>
<circle cx="430.1" cy="616.5" r="3.3"/>
<circle cx="430.6" cy="616.8" r="3.1"/>
<circle cx="430.6" cy="618.5" r="3.3"/>
<circle cx="429.2" cy="616.7" r="2.5"/>
<circle cx="433.1" cy="617.5" r="2.6"/>
<circle cx="433.4" cy="618.6" r="2.9"/>
<circle cx="434.8" cy="620.1" r="3.0"/>
<circle cx="396.2" cy="597.4" r="3.0"/>
<circle cx="400.4" cy="595.5" r="3.2"/>
<circle cx="399.8" cy="597.2" r="3.1"/>
<circle cx="397.9" cy="600.8" r="3.0"/>
<circle cx="399.7" cy="599.0" r="2.7"/>
<circle cx="399.2" cy="597.0" r="3.0"/>
<circle cx="401.5" cy="602.0" r="2.5"/>
<circle cx="397.1" cy="601.6" r="2.5"/>
<circle cx="401.7" cy="602.3" r="2.6"/>
<circle cx="400.4" cy="605.7" r="3.2"/>
<circle cx="399.3" cy="604.7" r="2.4"/>
<circle cx="402.0" cy="607.7" r="2.6"/>
<circle cx="444.7" cy="614.5" r="3.0"/>
<circle cx="444.7" cy="616.0" r="3.2"/>
<circle cx="442.3" cy="615.1" r="3.1"/>
<circle cx="444.4" cy="615.9" r="2.7"/>
<circle cx="444.7" cy="618.0" r="3.2"/>
<circle cx="443.0" cy="616.2" r="2.6"/>
<circle cx="443.3" cy="614.7" r="2.8"/>
<circle cx="440.7" cy="617.5" r="3.2"/>
<circle cx="438.4" cy="619.8" r="2.9"/>
<circle cx="441.7" cy="618.7" r="2.6"/>
<circle cx="441.5" cy="617.0" r="2.4"/>
<circle cx="439.9" cy="620.1" r="2.8"/>
<circle cx="437.1" cy="618.3" r="2.7"/>
<circle cx="440.1" cy="619.4" r="2.7"/>
<circle cx="439.1" cy="619.9" r="3.3"/>
<circle cx="437.6" cy="620.3" r="3.0"/>
<circle cx="435.9" cy="621.7" r="2.9"/>
<circle cx="435.3" cy="622.9" r="2.9"/>
<circle cx="439.9" cy="619.6" r="2.4"/>
<circle cx="431.5" cy="620.3" r="3.2"/>
<circle cx="433.9" cy="619.4" r="3.0"/>
<circle cx="432.1" cy="623.1" r="3.1"/>
<circle cx="435.1" cy="619.5" r="3.0"/>
<circle cx="430.8" cy="625.4" r="3.1"/>
<circle cx="428.7" cy="622.9" r="2.7"/>
<circle cx="428.8" cy="622.9" r="2.5"/>
<circle cx="429.1" cy="625.0" r="3.3"/>
<circle cx="427.6" cy="624.3" r="2.6"/>
<circle cx="428.7" cy="626.0" r="2.5"/>
<circle cx="431.3" cy="624.7" r="2.8"/>
<circle cx="425.2" cy="625.4" r="2.7"/>
<circle cx="426.8" cy="625.4" r="2.7"/>
<circle cx="424.9" cy="627.6" r="2.9"/>
<circle cx="426.6" cy="624.6" r="3.2"/>
<circle cx="423.9" cy="625.0" r="2.6"/>
<circle cx="419.4" cy="623.1" r="2.7"/>
<circle cx="423.3" cy="623.9" r="3.2"/>
<circle cx="424.1" cy="626.6" r="3.2"/>
<circle cx="421.5" cy="627.3" r="2.4"/>
<circle cx="421.7" cy="627.3" r="3.0"/>
<circle cx="420.6" cy="628.0" r="2.6"/>
<circle cx="416.9" cy="624.4" r="3.0"/>
<circle cx="419.8" cy="629.2" r="3.3"/>
<circle cx="417.7" cy="626.4" r="3.1"/>
<circle cx="418.6" cy="625.9" r="2.5"/>
<circle cx="417.6" cy="629.0" r="3.2"/>
<circle cx="413.7" cy="624.3" r="2.6"/>
<circle cx="414.2" cy="629.9" r="3.0"/>
<circle cx="412.7" cy="629.0" r="2.7"/>
<circle cx="415.7" cy="628.4" r="2.4"/>
<circle cx="412.3" cy="626.8" r="2.8"/>
<circle cx="411.6" cy="627.3" r="2.8"/>
<circle cx="415.8" cy="628.6" r="2.9"/>
<circle cx="411.9" cy="628.4" r="3.0"/>
<circle cx="410.4" cy="627.1" r="2.5"/>
<circle cx="410.4" cy="629.5" r="3.1"/>
<circle cx="411.8" cy="630.6" r="2.8"/>
<circle cx="406.3" cy="628.6" r="2.9"/>
<circle cx="406.5" cy="627.4" r="2.7"/>
<circle cx="407.0" cy="628.2" r="3.0"/>
<circle cx="406.6" cy="626.8" r="2.7"/>
<circle cx="406.4" cy="625.2" r="2.8"/>
<circle cx="404.6" cy="632.0" r="3.2"/>
<circle cx="404.5" cy="630.3" r="2.8"/>
<circle cx="402.0" cy="627.9" r="2.7"/>
<circle cx="404.1" cy="630.4" r="3.1"/>
<circle cx="402.5" cy="630.9" r="2.5"/>
<circle cx="403.3" cy="631.6" r="2.9"/>
<circle cx="402.5" cy="634.7" r="2.7"/>
<circle cx="400.7" cy="632.1" r="3.1"/>
<circle cx="400.3" cy="630.9" r="2.4"/>
<circle cx="398.9" cy="630.4" r="3.3"/>
<circle cx="395.7" cy="631.9" r="2.7"/>
<circle cx="398.0" cy="630.3" r="2.7"/>
<circle cx="397.4" cy="631.8" r="3.1"/>
<circle cx="398.3" cy="633.5" r="2.8"/>
<circle cx="395.8" cy="632.3" r="2.9"/>
<circle cx="391.5" cy="635.0" r="3.3"/>
<circle cx="393.2" cy="632.3" r="2.6"/>
<circle cx="393.2" cy="635.2" r="2.6"/>
<circle cx="393.5" cy="636.4" r="3.0"/>
<circle cx="390.4" cy="639.0" r="2.6"/>
<circle cx="390.5" cy="633.7" r="3.2"/>
<circle cx="391.6" cy="633.3" r="3.1"/>
<circle cx="390.6" cy="633.3" r="2.7"/>
<circle cx="385.8" cy="635.1" r="2.5"/>
<circle cx="387.7" cy="632.9" r="2.8"/>
<circle cx="384.9" cy="633.5" r="2.6"/>
<circle cx="388.5" cy="634.4" r="3.1"/>
<circle cx="387.3" cy="634.8" r="3.2"/>
<circle cx="387.4" cy="635.8" r="2.4"/>
<circle cx="388.8" cy="639.0" r="2.4"/>
<circle cx="385.6" cy="636.1" r="3.1"/>
<circle cx="385.1" cy="637.7" r="3.0"/>
<circle cx="385.0" cy="638.5" r="3.2"/>
<circle cx="382.5" cy="634.8" r="3.3"/>
<circle cx="383.9" cy="638.9" r="3.1"/>
<circle cx="382.0" cy="638.8" r="2.9"/>
<circle cx="381.9" cy="641.5" r="2.5"/>
<circle cx="386.3" cy="640.9" r="2.7"/>
<circle cx="381.3" cy="640.2" r="2.8"/>
<circle cx="381.3" cy="642.6" r="2.6"/>
<circle cx="379.2" cy="640.9" r="3.1"/>
<circle cx="378.3" cy="642.3" r="2.7"/>
<circle cx="374.8" cy="642.9" r="2.7"/>
<circle cx="379.0" cy="647.6" r="3.2"/>
<circle cx="377.4" cy="642.5" r="2.6"/>
<circle cx="377.0" cy="645.0" r="2.4"/>
<circle cx="374.8" cy="644.8" r="2.9"/>
<circle cx="375.8" cy="645.6" r="3.0"/>
<circle cx="442.5" cy="625.0" r="2.9"/>
<circle cx="441.3" cy="622.6" r="3.2"/>
<circle cx="442.1" cy="625.7" r="2.7"/>
<circle cx="437.9" cy="629.9" r="2.7"/>
<circle cx="439.9" cy="629.2" r="2.5"/>
<circle cx="440.7" cy="628.4" r="2.9"/>
<circle cx="441.1" cy="628.2" r="2.9"/>
<circle cx="438.4" cy="630.0" r="2.6"/>
<circle cx="441.1" cy="631.6" r="3.1"/>
<circle cx="438.5" cy="629.5" r="3.0"/>
<circle cx="436.3" cy="632.3" r="2.9"/>
<circle cx="435.0" cy="634.6" r="2.4"/>
<circle cx="436.1" cy="627.5" r="2.9"/>
<circle cx="431.0" cy="628.2" r="2.6"/>
<circle cx="433.0" cy="629.5" r="2.7"/>
<circle cx="433.9" cy="630.2" r="2.9"/>
<circle cx="431.7" cy="630.5" r="2.7"/>
<circle cx="431.6" cy="631.0" r="2.6"/>
<circle cx="431.4" cy="632.0" r="3.2"/>
<circle cx="429.1" cy="633.6" r="2.9"/>
<circle cx="429.9" cy="633.7" r="2.5"/>
<circle cx="432.3" cy="633.0" r="2.9"/>
<circle cx="426.8" cy="633.7" r="2.6"/>
<circle cx="430.7" cy="637.3" r="2.8"/>
<circle cx="426.6" cy="632.5" r="3.2"/>
<circle cx="428.4" cy="634.9" r="2.7"/>
<circle cx="429.0" cy="633.0" r="2.5"/>
<circle cx="427.6" cy="637.2" r="2.5"/>
<circle cx="424.4" cy="638.9" r="2.9"/>
<circle cx="425.0" cy="637.2" r="2.8"/>
<circle cx="427.7" cy="637.3" r="2.8"/>
<circle cx="421.5" cy="638.2" r="3.1"/>
<circle cx="425.4" cy="640.2" r="2.7"/>
<circle cx="422.1" cy="638.4" r="2.7"/>
<circle cx="421.9" cy="640.4" r="2.4"/>
<circle cx="422.8" cy="641.5" r="2.5"/>
<circle cx="422.7" cy="642.2" r="2.6"/>
<circle cx="420.4" cy="641.3" r="3.2"/>
<circle cx="422.4" cy="641.9" r="3.2"/>
<circle cx="420.4" cy="642.7" r="3.1"/>
<circle cx="418.0" cy="640.4" r="2.4"/>
<circle cx="417.2" cy="642.4" r="3.0"/>
<circle cx="417.6" cy="643.9" r="3.0"/>
<circle cx="418.1" cy="641.2" r="2.7"/>
<circle cx="413.5" cy="641.3" r="2.6"/>
<circle cx="418.8" cy="642.6" r="2.7"/>
<circle cx="414.7" cy="641.7" r="2.5"/>
<circle cx="414.8" cy="641.2" r="2.9"/>
<circle cx="410.4" cy="642.9" r="3.1"/>
<circle cx="415.5" cy="643.1" r="2.8"/>
<circle cx="409.4" cy="643.4" r="2.8"/>
<circle cx="408.3" cy="643.2" r="2.8"/>
<circle cx="409.0" cy="642.6" r="3.1"/>
<circle cx="409.0" cy="640.0" r="2.8"/>
<circle cx="412.0" cy="643.0" r="2.9"/>
<circle cx="409.2" cy="639.4" r="2.5"/>
<circle cx="408.2" cy="642.9" r="3.1"/>
<circle cx="408.0" cy="642.6" r="3.1"/>
<circle cx="406.1" cy="641.8" r="3.0"/>
<circle cx="405.5" cy="640.1" r="2.4"/>
<circle cx="404.6" cy="640.3" r="2.9"/>
<circle cx="407.6" cy="642.1" r="3.2"/>
<circle cx="404.7" cy="643.5" r="2.9"/>
<circle cx="408.2" cy="642.7" r="2.6"/>
<circle cx="402.3" cy="644.2" r="2.6"/>
<circle cx="403.1" cy="641.3" r="2.9"/>
<circle cx="400.6" cy="643.4" r="2.7"/>
<circle cx="402.4" cy="641.1" r="3.2"/>
<circle cx="399.6" cy="644.7" r="2.4"/>
<circle cx="397.4" cy="643.4" r="2.8"/>
<circle cx="396.1" cy="644.1" r="2.7"/>
<circle cx="398.0" cy="643.1" r="3.2"/>
<circle cx="396.4" cy="644.2" r="2.7"/>
<circle cx="394.6" cy="644.2" r="2.9"/>
<circle cx="395.0" cy="646.0" r="3.1"/>
<circle cx="394.2" cy="647.5" r="3.1"/>
<circle cx="392.6" cy="644.2" r="3.2"/>
<circle cx="390.3" cy="646.6" r="2.5"/>
<circle cx="390.7" cy="646.8" r="2.4"/>
<circle cx="392.8" cy="645.7" r="2.9"/>
<circle cx="393.4" cy="650.0" r="2.9"/>
<circle cx="391.8" cy="645.1" r="3.0"/>
<circle cx="389.9" cy="646.1" r="2.6"/>
<circle cx="390.5" cy="646.9" r="3.2"/>
<circle cx="389.6" cy="648.9" r="2.5"/>
<circle cx="389.7" cy="644.5" r="2.8"/>
<circle cx="387.5" cy="647.8" r="3.2"/>
<circle cx="387.3" cy="648.4" r="2.5"/>
<circle cx="386.9" cy="649.2" r="3.2"/>
<circle cx="386.2" cy="651.2" r="2.9"/>
<circle cx="385.0" cy="652.4" r="2.5"/>
<circle cx="386.6" cy="650.1" r="3.2"/>
<circle cx="386.5" cy="653.7" r="3.3"/>
<circle cx="383.8" cy="651.9" r="2.7"/>
<circle cx="382.8" cy="651.1" r="2.9"/>
<circle cx="384.6" cy="653.4" r="3.1"/>
<circle cx="379.0" cy="649.9" r="2.5"/>
<circle cx="383.1" cy="647.0" r="3.2"/>
<circle cx="388.7" cy="648.5" r="2.9"/>
<circle cx="380.4" cy="651.7" r="3.1"/>
<circle cx="373.6" cy="649.6" r="2.5"/>
<circle cx="373.9" cy="650.3" r="2.9"/>
<circle cx="377.9" cy="649.8" r="2.5"/>
<circle cx="377.6" cy="656.6" r="3.2"/>
<circle cx="378.8" cy="657.4" r="2.4"/>
<circle cx="370.9" cy="646.7" r="2.7"/>
<circle cx="380.6" cy="650.1" r="2.4"/>
<circle cx="374.3" cy="654.7" r="2.6"/>
<circle cx="375.1" cy="650.4" r="3.1"/>
<circle cx="374.3" cy="653.7" r="2.9"/>
<circle cx="377.0" cy="655.0" r="3.1"/>
<circle cx="370.6" cy="651.4" r="2.4"/>
<circle cx="371.3" cy="653.5" r="3.0"/>
<circle cx="374.6" cy="656.8" r="2.7"/>
<circle cx="368.2" cy="657.1" r="2.5"/>
<circle cx="373.9" cy="660.3" r="2.7"/>
<circle cx="373.1" cy="649.2" r="2.8"/>
<circle cx="369.8" cy="655.3" r="3.2"/>
<circle cx="370.9" cy="656.6" r="2.9"/>
<circle cx="370.0" cy="656.6" r="2.5"/>
<circle cx="363.5" cy="653.7" r="2.7"/>
<circle cx="367.1" cy="657.4" r="2.6"/>
<circle cx="366.9" cy="656.2" r="3.2"/>
<circle cx="358.5" cy="654.6" r="2.4"/>
<circle cx="367.1" cy="653.5" r="3.1"/>
<circle cx="359.1" cy="652.9" r="2.6"/>
<circle cx="362.5" cy="653.2" r="2.6"/>
<circle cx="364.6" cy="655.5" r="2.9"/>
<circle cx="359.4" cy="661.0" r="2.5"/>
<circle cx="358.4" cy="654.3" r="2.9"/>
<circle cx="360.6" cy="651.0" r="2.5"/>
<circle cx="359.1" cy="659.8" r="3.3"/>
<circle cx="362.3" cy="657.1" r="3.0"/>
<circle cx="358.7" cy="653.9" r="3.1"/>
<circle cx="350.6" cy="658.2" r="2.4"/>
<circle cx="359.2" cy="655.8" r="2.8"/>
<circle cx="357.5" cy="658.3" r="3.1"/>
<circle cx="354.3" cy="655.9" r="2.7"/>
<circle cx="355.6" cy="659.2" r="2.6"/>
<circle cx="349.8" cy="664.9" r="3.3"/>
<circle cx="353.9" cy="655.0" r="2.8"/>
<circle cx="353.5" cy="652.2" r="3.1"/>
<circle cx="350.4" cy="657.3" r="3.0"/>
<circle cx="353.9" cy="654.7" r="2.5"/>
<circle cx="350.6" cy="657.1" r="2.5"/>
<circle cx="353.5" cy="658.9" r="3.1"/>
<circle cx="352.6" cy="663.0" r="3.2"/>
<circle cx="352.3" cy="658.6" r="3.1"/>
<circle cx="349.8" cy="658.4" r="2.8"/>
<circle cx="350.1" cy="658.3" r="3.2"/>
<circle cx="346.3" cy="667.2" r="2.9"/>
<circle cx="348.4" cy="662.3" r="3.3"/>
<circle cx="347.2" cy="661.6" r="3.2"/>
<circle cx="346.5" cy="665.1" r="2.8"/>
<circle cx="346.0" cy="666.7" r="3.2"/>
<circle cx="344.0" cy="661.7" r="2.8"/>
<circle cx="345.6" cy="661.6" r="3.0"/>
<circle cx="347.9" cy="664.4" r="2.8"/>
<circle cx="346.4" cy="667.9" r="3.2"/>
<circle cx="341.7" cy="669.2" r="3.2"/>
<circle cx="342.8" cy="667.2" r="2.8"/>
<circle cx="343.2" cy="668.0" r="3.1"/>
<circle cx="339.4" cy="669.9" r="2.8"/>
<circle cx="340.8" cy="670.4" r="2.7"/>
<circle cx="342.8" cy="667.4" r="2.7"/>
<circle cx="342.2" cy="671.3" r="3.0"/>
<circle cx="337.6" cy="672.2" r="3.1"/>
<circle cx="342.4" cy="673.9" r="2.4"/>
<circle cx="340.3" cy="671.2" r="2.6"/>
<circle cx="341.3" cy="672.5" r="2.6"/>
<circle cx="341.3" cy="671.8" r="3.2"/>
<circle cx="336.8" cy="675.8" r="3.3"/>
<circle cx="332.1" cy="674.7" r="2.6"/>
<circle cx="338.6" cy="674.5" r="2.9"/>
<circle cx="339.0" cy="676.2" r="3.3"/>
<circle cx="333.6" cy="677.9" r="2.6"/>
<circle cx="336.4" cy="678.3" r="2.9"/>
<circle cx="338.2" cy="676.2" r="2.7"/>
<circle cx="340.3" cy="676.9" r="3.0"/>
<circle cx="338.5" cy="680.8" r="2.8"/>
<circle cx="337.5" cy="679.5" r="3.0"/>
<circle cx="333.8" cy="679.2" r="2.9"/>
<circle cx="332.8" cy="677.2" r="2.8"/>
<circle cx="330.7" cy="686.3" r="2.5"/>
<circle cx="335.8" cy="679.8" r="2.9"/>
<circle cx="330.5" cy="684.3" r="3.2"/>
<circle cx="333.0" cy="680.4" r="2.4"/>
<circle cx="332.6" cy="685.5" r="3.3"/>
<circle cx="333.7" cy="684.4" r="2.9"/>
<circle cx="331.9" cy="685.4" r="2.8"/>
<circle cx="332.1" cy="683.3" r="2.7"/>
<circle cx="331.9" cy="685.2" r="2.9"/>
<circle cx="326.3" cy="690.4" r="3.0"/>
<circle cx="332.1" cy="685.3" r="2.7"/>
<circle cx="333.9" cy="688.1" r="3.0"/>
<circle cx="330.2" cy="690.7" r="2.9"/>
<circle cx="331.7" cy="686.8" r="2.7"/>
<circle cx="331.3" cy="692.7" r="3.2"/>
<circle cx="331.1" cy="694.3" r="2.6"/>
<circle cx="328.7" cy="692.6" r="2.7"/>
<circle cx="446.6" cy="630.4" r="3.3"/>
<circle cx="450.9" cy="628.6" r="3.2"/>
<circle cx="450.3" cy="629.0" r="2.8"/>
<circle cx="450.4" cy="628.5" r="2.8"/>
<circle cx="444.5" cy="631.3" r="2.6"/>
<circle cx="449.4" cy="632.4" r="2.8"/>
<circle cx="449.1" cy="625.7" r="3.1"/>
<circle cx="446.6" cy="629.6" r="3.1"/>
<circle cx="443.9" cy="629.2" r="3.0"/>
<circle cx="446.0" cy="627.3" r="2.7"/>
<circle cx="447.8" cy="628.1" r="2.7"/>
<circle cx="444.1" cy="628.6" r="3.1"/>
<circle cx="448.6" cy="631.2" r="2.9"/>
<circle cx="441.3" cy="634.6" r="2.6"/>
<circle cx="444.0" cy="631.9" r="2.9"/>
<circle cx="443.6" cy="628.3" r="2.8"/>
<circle cx="443.5" cy="630.9" r="2.7"/>
<circle cx="439.3" cy="628.0" r="3.0"/>
<circle cx="441.0" cy="629.3" r="2.8"/>
<circle cx="445.1" cy="631.9" r="2.7"/>
<circle cx="438.5" cy="635.9" r="2.7"/>
<circle cx="442.7" cy="637.9" r="2.9"/>
<circle cx="437.6" cy="633.9" r="3.2"/>
<circle cx="441.5" cy="636.2" r="2.5"/>
<circle cx="437.7" cy="636.5" r="3.2"/>
<circle cx="438.1" cy="633.2" r="2.8"/>
<circle cx="437.5" cy="635.2" r="3.2"/>
<circle cx="439.8" cy="632.7" r="2.5"/>
<circle cx="437.1" cy="634.0" r="2.9"/>
<circle cx="442.2" cy="635.0" r="3.1"/>
<circle cx="439.8" cy="635.5" r="3.2"/>
<circle cx="440.5" cy="641.2" r="3.0"/>
<circle cx="436.9" cy="638.2" r="2.5"/>
<circle cx="434.9" cy="637.5" r="2.6"/>
<circle cx="438.3" cy="641.9" r="2.5"/>
<circle cx="435.2" cy="635.9" r="3.1"/>
<circle cx="435.6" cy="644.0" r="2.5"/>
<circle cx="438.5" cy="640.5" r="2.4"/>
<circle cx="436.6" cy="641.8" r="2.6"/>
<circle cx="439.4" cy="644.0" r="2.9"/>
<circle cx="437.3" cy="643.2" r="3.1"/>
<circle cx="438.1" cy="645.3" r="3.0"/>
<circle cx="435.8" cy="646.4" r="2.9"/>
<circle cx="437.4" cy="649.1" r="2.6"/>
<circle cx="438.3" cy="642.6" r="2.9"/>
<circle cx="439.5" cy="646.9" r="2.4"/>
<circle cx="433.3" cy="646.6" r="2.5"/>
<circle cx="432.7" cy="644.6" r="2.9"/>
<circle cx="432.6" cy="648.9" r="2.9"/>
<circle cx="434.9" cy="652.0" r="3.3"/>
<circle cx="435.6" cy="643.2" r="2.7"/>
<circle cx="434.2" cy="648.6" r="2.8"/>
<circle cx="434.5" cy="650.8" r="3.0"/>
<circle cx="432.0" cy="647.3" r="2.7"/>
<circle cx="433.0" cy="651.9" r="2.7"/>
<circle cx="432.9" cy="653.6" r="2.9"/>
<circle cx="430.1" cy="651.3" r="3.0"/>
<circle cx="431.5" cy="652.7" r="2.9"/>
<circle cx="428.8" cy="646.2" r="3.1"/>
<circle cx="434.6" cy="650.5" r="3.1"/>
<circle cx="429.6" cy="651.7" r="2.6"/>
<circle cx="433.6" cy="653.3" r="3.0"/>
<circle cx="428.1" cy="652.2" r="2.7"/>
<circle cx="430.5" cy="656.5" r="3.3"/>
<circle cx="428.4" cy="655.1" r="2.6"/>
<circle cx="425.6" cy="658.6" r="3.1"/>
<circle cx="427.2" cy="655.8" r="2.5"/>
<circle cx="429.9" cy="659.1" r="2.8"/>
<circle cx="432.2" cy="656.3" r="3.1"/>
<circle cx="423.5" cy="657.7" r="2.5"/>
<circle cx="429.2" cy="659.3" r="2.9"/>
<circle cx="427.2" cy="659.7" r="2.4"/>
<circle cx="429.3" cy="656.9" r="3.3"/>
<circle cx="428.5" cy="658.9" r="3.1"/>
<circle cx="423.2" cy="662.3" r="3.2"/>
<circle cx="426.0" cy="660.5" r="2.6"/>
<circle cx="423.8" cy="659.7" r="2.4"/>
<circle cx="427.0" cy="658.0" r="2.8"/>
<circle cx="429.2" cy="663.0" r="2.9"/>
<circle cx="426.5" cy="663.2" r="3.0"/>
<circle cx="426.4" cy="661.3" r="3.0"/>
<circle cx="424.9" cy="665.0" r="3.2"/>
<circle cx="423.5" cy="664.7" r="2.9"/>
<circle cx="425.1" cy="665.6" r="2.8"/>
<circle cx="421.3" cy="663.6" r="3.0"/>
<circle cx="423.0" cy="666.0" r="3.1"/>
<circle cx="425.8" cy="667.0" r="2.8"/>
<circle cx="421.8" cy="663.8" r="2.6"/>
<circle cx="421.3" cy="664.7" r="2.8"/>
<circle cx="425.9" cy="671.5" r="2.9"/>
<circle cx="424.2" cy="669.0" r="3.3"/>
<circle cx="422.9" cy="671.1" r="3.1"/>
<circle cx="423.8" cy="666.9" r="3.1"/>
<circle cx="423.1" cy="670.3" r="3.3"/>
<circle cx="422.2" cy="670.1" r="2.4"/>
<circle cx="422.2" cy="676.0" r="2.6"/>
<circle cx="419.4" cy="667.5" r="3.0"/>
<circle cx="422.9" cy="671.5" r="2.5"/>
<circle cx="424.5" cy="672.9" r="2.5"/>
<circle cx="423.7" cy="672.2" r="2.6"/>
<circle cx="420.3" cy="671.8" r="2.9"/>
<circle cx="422.3" cy="675.5" r="3.2"/>
<circle cx="418.9" cy="673.3" r="3.2"/>
<circle cx="414.6" cy="672.3" r="2.9"/>
<circle cx="415.7" cy="671.9" r="3.1"/>
<circle cx="417.8" cy="674.4" r="2.9"/>
<circle cx="416.1" cy="676.4" r="2.4"/>
<circle cx="416.1" cy="674.1" r="3.1"/>
<circle cx="416.5" cy="672.6" r="2.5"/>
<circle cx="414.2" cy="673.8" r="2.8"/>
<circle cx="418.9" cy="678.9" r="2.9"/>
<circle cx="413.6" cy="676.4" r="3.1"/>
<circle cx="416.2" cy="672.8" r="2.5"/>
<circle cx="412.2" cy="677.9" r="3.1"/>
<circle cx="414.8" cy="679.3" r="3.3"/>
<circle cx="412.7" cy="677.2" r="2.5"/>
<circle cx="414.8" cy="680.0" r="2.9"/>
<circle cx="409.7" cy="678.1" r="2.8"/>
<circle cx="409.3" cy="676.8" r="3.2"/>
<circle cx="410.9" cy="675.5" r="3.2"/>
<circle cx="412.7" cy="676.9" r="2.4"/>
<circle cx="408.8" cy="676.4" r="2.8"/>
<circle cx="411.2" cy="679.7" r="3.2"/>
<circle cx="406.8" cy="682.2" r="2.6"/>
<circle cx="408.9" cy="683.3" r="2.7"/>
<circle cx="411.0" cy="683.2" r="3.3"/>
<circle cx="406.0" cy="678.4" r="3.1"/>
<circle cx="411.9" cy="677.1" r="3.1"/>
<circle cx="407.8" cy="684.9" r="2.8"/>
<circle cx="409.2" cy="683.9" r="3.2"/>
<circle cx="409.0" cy="683.3" r="3.1"/>
<circle cx="407.7" cy="680.3" r="3.1"/>
<circle cx="405.7" cy="684.9" r="3.1"/>
<circle cx="405.1" cy="688.3" r="2.7"/>
<circle cx="400.6" cy="684.7" r="2.5"/>
<circle cx="402.6" cy="685.9" r="2.9"/>
<circle cx="407.2" cy="686.1" r="3.2"/>
<circle cx="402.8" cy="682.3" r="2.5"/>
<circle cx="404.9" cy="689.5" r="3.2"/>
<circle cx="405.8" cy="688.4" r="3.0"/>
<circle cx="405.2" cy="688.7" r="2.8"/>
<circle cx="402.3" cy="686.3" r="3.1"/>
<circle cx="403.3" cy="688.1" r="2.6"/>
<circle cx="406.1" cy="690.7" r="2.6"/>
<circle cx="402.3" cy="696.0" r="3.0"/>
<circle cx="399.7" cy="689.4" r="2.9"/>
<circle cx="401.3" cy="689.9" r="2.5"/>
<circle cx="401.9" cy="692.2" r="2.7"/>
<circle cx="401.9" cy="693.3" r="2.8"/>
<circle cx="404.1" cy="692.3" r="2.6"/>
<circle cx="400.8" cy="692.1" r="2.5"/>
<circle cx="399.6" cy="695.9" r="3.0"/>
<circle cx="396.8" cy="695.5" r="2.5"/>
<circle cx="401.4" cy="694.0" r="3.1"/>
<circle cx="403.2" cy="696.0" r="2.6"/>
<circle cx="401.3" cy="692.7" r="3.0"/>
<circle cx="398.6" cy="696.5" r="2.6"/>
<circle cx="399.3" cy="696.0" r="3.0"/>
<circle cx="395.3" cy="695.5" r="2.6"/>
<circle cx="398.2" cy="698.3" r="3.3"/>
<circle cx="395.1" cy="700.1" r="2.9"/>
<circle cx="397.1" cy="699.3" r="2.4"/>
<circle cx="397.2" cy="698.0" r="3.3"/>
<circle cx="393.9" cy="701.8" r="2.5"/>
<circle cx="396.0" cy="698.1" r="2.7"/>
<circle cx="394.2" cy="699.9" r="2.6"/>
<circle cx="395.3" cy="698.8" r="2.7"/>
<circle cx="394.5" cy="699.4" r="2.6"/>
<circle cx="394.3" cy="703.3" r="2.7"/>
<circle cx="392.0" cy="699.8" r="3.2"/>
<circle cx="396.0" cy="703.0" r="3.2"/>
<circle cx="392.6" cy="702.9" r="2.8"/>
<circle cx="393.9" cy="704.3" r="3.0"/>
<circle cx="392.6" cy="703.8" r="2.8"/>
<circle cx="391.9" cy="704.9" r="2.8"/>
<circle cx="391.4" cy="704.5" r="2.7"/>
<circle cx="385.5" cy="705.3" r="2.9"/>
<circle cx="391.3" cy="705.4" r="3.1"/>
<circle cx="385.6" cy="703.5" r="3.3"/>
<circle cx="389.7" cy="704.7" r="3.2"/>
<circle cx="387.0" cy="705.7" r="2.6"/>
<circle cx="389.1" cy="705.2" r="2.5"/>
<circle cx="387.2" cy="711.4" r="2.8"/>
<circle cx="387.1" cy="706.2" r="2.8"/>
<circle cx="386.1" cy="708.7" r="3.0"/>
<circle cx="385.5" cy="708.5" r="3.3"/>
<circle cx="384.4" cy="708.2" r="2.4"/>
<circle cx="383.8" cy="706.3" r="2.4"/>
<circle cx="381.3" cy="709.4" r="2.9"/>
<circle cx="384.4" cy="711.5" r="2.9"/>
<circle cx="383.0" cy="708.4" r="3.1"/>
<circle cx="386.4" cy="708.6" r="3.2"/>
<circle cx="379.6" cy="713.4" r="2.6"/>
<circle cx="382.6" cy="713.2" r="3.2"/>
<circle cx="383.0" cy="711.5" r="2.4"/>
<circle cx="380.1" cy="711.5" r="2.6"/>
<circle cx="380.7" cy="708.6" r="3.2"/>
<circle cx="377.7" cy="713.6" r="2.4"/>
<circle cx="381.3" cy="711.7" r="2.8"/>
<circle cx="374.3" cy="712.3" r="2.8"/>
<circle cx="381.9" cy="712.9" r="2.6"/>
<circle cx="379.3" cy="712.3" r="3.3"/>
<circle cx="376.7" cy="714.3" r="3.3"/>
<circle cx="376.8" cy="716.3" r="2.7"/>
<circle cx="377.1" cy="714.4" r="2.7"/>
<circle cx="378.9" cy="718.5" r="2.4"/>
<circle cx="375.2" cy="714.6" r="2.8"/>
<circle cx="372.9" cy="714.7" r="2.5"/>
<circle cx="375.7" cy="717.5" r="3.3"/>
<circle cx="376.0" cy="717.8" r="2.9"/>
<circle cx="371.2" cy="715.2" r="2.5"/>
<circle cx="374.8" cy="719.1" r="2.9"/>
<circle cx="372.3" cy="718.9" r="3.2"/>
<circle cx="371.8" cy="715.2" r="3.3"/>
<circle cx="373.1" cy="724.2" r="2.8"/>
<circle cx="377.8" cy="721.2" r="2.5"/>
<circle cx="374.7" cy="720.3" r="2.7"/>
<circle cx="376.8" cy="719.7" r="2.8"/>
<circle cx="368.3" cy="720.3" r="3.1"/>
<circle cx="370.6" cy="719.4" r="2.5"/>
<circle cx="371.8" cy="725.0" r="2.9"/>
<circle cx="372.8" cy="718.2" r="3.3"/>
<circle cx="371.3" cy="723.7" r="3.2"/>
<circle cx="369.5" cy="722.8" r="3.0"/>
<circle cx="370.3" cy="725.3" r="2.7"/>
<circle cx="366.9" cy="723.8" r="2.5"/>
<circle cx="369.5" cy="721.8" r="2.8"/>
<circle cx="367.6" cy="721.8" r="2.4"/>
<circle cx="365.9" cy="726.1" r="3.0"/>
<circle cx="367.9" cy="725.0" r="3.3"/>
<circle cx="368.7" cy="725.1" r="2.8"/>
<circle cx="369.4" cy="726.6" r="2.8"/>
<circle cx="372.2" cy="726.4" r="2.6"/>
<circle cx="367.4" cy="726.1" r="3.0"/>
<circle cx="367.5" cy="727.5" r="2.6"/>
<circle cx="367.5" cy="730.7" r="2.4"/>
<circle cx="368.3" cy="731.2" r="2.8"/>
<circle cx="369.1" cy="731.4" r="3.2"/>
<circle cx="364.7" cy="729.7" r="3.0"/>
<circle cx="365.0" cy="731.7" r="2.8"/>
<circle cx="369.2" cy="732.0" r="2.5"/>
<circle cx="362.1" cy="736.1" r="3.1"/>
<circle cx="367.1" cy="730.1" r="3.0"/>
<circle cx="363.8" cy="728.0" r="2.6"/>
<circle cx="365.3" cy="732.0" r="2.6"/>
<circle cx="366.2" cy="731.7" r="3.2"/>
<circle cx="366.7" cy="732.8" r="2.6"/>
<circle cx="367.1" cy="735.6" r="3.1"/>
<circle cx="364.1" cy="736.6" r="2.4"/>
<circle cx="365.5" cy="739.2" r="2.4"/>
<circle cx="364.0" cy="738.5" r="3.0"/>
<circle cx="364.0" cy="737.4" r="2.5"/>
<circle cx="368.5" cy="735.7" r="2.5"/>
<circle cx="361.9" cy="740.6" r="2.7"/>
<circle cx="360.9" cy="740.1" r="2.6"/>
<circle cx="363.5" cy="739.8" r="2.5"/>
<circle cx="365.0" cy="741.6" r="3.0"/>
<circle cx="362.1" cy="744.3" r="3.1"/>
<circle cx="360.9" cy="743.2" r="2.6"/>
<circle cx="364.6" cy="740.6" r="2.4"/>
<circle cx="363.9" cy="744.9" r="2.7"/>
<circle cx="361.6" cy="741.4" r="3.1"/>
<circle cx="362.1" cy="742.5" r="2.9"/>
<circle cx="362.9" cy="747.1" r="3.1"/>
<circle cx="361.9" cy="743.1" r="2.5"/>
<circle cx="360.0" cy="742.8" r="2.5"/>
<circle cx="362.3" cy="748.3" r="2.5"/>
<circle cx="360.2" cy="745.1" r="2.6"/>
<circle cx="358.8" cy="748.1" r="3.1"/>
<circle cx="364.3" cy="748.1" r="2.6"/>
<circle cx="360.1" cy="750.9" r="3.0"/>
<circle cx="357.3" cy="745.6" r="2.6"/>
<circle cx="359.4" cy="752.0" r="2.6"/>
<circle cx="361.3" cy="751.0" r="3.1"/>
<circle cx="361.9" cy="747.3" r="3.3"/>
<circle cx="360.7" cy="749.1" r="2.7"/>
<circle cx="360.0" cy="750.7" r="2.9"/>
<circle cx="360.6" cy="752.4" r="2.9"/>
<circle cx="362.8" cy="756.5" r="3.2"/>
<circle cx="358.6" cy="753.5" r="2.5"/>
<circle cx="357.5" cy="753.6" r="2.7"/>
<circle cx="359.5" cy="751.8" r="3.1"/>
<circle cx="360.6" cy="755.4" r="2.7"/>
<circle cx="358.4" cy="755.6" r="3.0"/>
<circle cx="360.3" cy="757.8" r="2.8"/>
<circle cx="359.2" cy="753.1" r="2.7"/>
<circle cx="355.5" cy="758.7" r="3.2"/>
<circle cx="359.3" cy="757.0" r="2.8"/>
<circle cx="358.9" cy="757.0" r="2.4"/>
<circle cx="364.6" cy="758.3" r="2.5"/>
<circle cx="357.1" cy="760.0" r="2.7"/>
<circle cx="363.2" cy="761.5" r="3.1"/>
<circle cx="359.2" cy="760.9" r="2.8"/>
<circle cx="364.5" cy="764.2" r="2.4"/>
<circle cx="359.2" cy="765.2" r="2.5"/>
<circle cx="360.6" cy="762.8" r="2.5"/>
<circle cx="356.1" cy="762.1" r="2.6"/>
<circle cx="361.6" cy="766.6" r="2.8"/>
<circle cx="359.4" cy="764.9" r="2.6"/>
<circle cx="361.2" cy="764.4" r="2.6"/>
<circle cx="360.0" cy="760.7" r="3.2"/>
<circle cx="355.2" cy="766.6" r="2.9"/>
<circle cx="360.0" cy="768.6" r="3.0"/>
<circle cx="360.6" cy="765.8" r="2.6"/>
<circle cx="361.8" cy="767.2" r="3.1"/>
<circle cx="360.2" cy="769.3" r="2.6"/>
<circle cx="354.8" cy="769.8" r="2.5"/>
<circle cx="362.4" cy="767.7" r="2.6"/>
<circle cx="361.4" cy="767.8" r="2.6"/>
<circle cx="358.2" cy="772.2" r="3.2"/>
<circle cx="361.4" cy="770.7" r="3.1"/>
<circle cx="358.3" cy="768.6" r="3.3"/>
<circle cx="360.1" cy="775.6" r="3.1"/>
<circle cx="448.2" cy="670.0" r="2.7"/>
<circle cx="446.9" cy="670.1" r="2.5"/>
<circle cx="448.1" cy="673.2" r="2.8"/>
<circle cx="444.5" cy="666.5" r="3.1"/>
<circle cx="446.8" cy="674.2" r="3.1"/>
<circle cx="449.3" cy="670.2" r="3.1"/>
<circle cx="446.3" cy="669.5" r="3.0"/>
<circle cx="442.7" cy="673.7" r="2.5"/>
<circle cx="443.2" cy="671.3" r="3.1"/>
<circle cx="442.4" cy="675.1" r="3.2"/>
<circle cx="444.8" cy="671.9" r="3.2"/>
<circle cx="443.5" cy="670.2" r="3.0"/>
<circle cx="446.8" cy="674.6" r="2.9"/>
<circle cx="441.1" cy="674.4" r="3.1"/>
<circle cx="443.0" cy="670.6" r="2.6"/>
<circle cx="441.1" cy="676.0" r="2.5"/>
<circle cx="441.2" cy="675.6" r="3.1"/>
<circle cx="441.0" cy="676.2" r="2.5"/>
<circle cx="440.3" cy="674.5" r="2.8"/>
<circle cx="437.0" cy="678.0" r="3.3"/>
<circle cx="438.3" cy="678.8" r="3.2"/>
<circle cx="434.7" cy="677.3" r="3.1"/>
<circle cx="436.7" cy="680.4" r="2.9"/>
<circle cx="439.6" cy="678.6" r="3.1"/>
<circle cx="434.9" cy="677.1" r="2.8"/>
<circle cx="438.6" cy="675.7" r="2.6"/>
<circle cx="434.9" cy="679.3" r="3.3"/>
<circle cx="435.2" cy="677.2" r="3.2"/>
<circle cx="437.4" cy="679.0" r="2.8"/>
<circle cx="434.0" cy="676.7" r="2.5"/>
<circle cx="430.5" cy="678.6" r="3.1"/>
<circle cx="432.8" cy="680.7" r="3.1"/>
<circle cx="433.7" cy="678.8" r="3.2"/>
<circle cx="434.9" cy="680.4" r="2.7"/>
<circle cx="431.4" cy="676.8" r="2.6"/>
<circle cx="431.5" cy="683.0" r="3.1"/>
<circle cx="432.6" cy="684.1" r="2.9"/>
<circle cx="430.8" cy="681.4" r="3.3"/>
<circle cx="433.3" cy="682.8" r="3.1"/>
<circle cx="432.2" cy="687.0" r="2.9"/>
<circle cx="430.3" cy="679.9" r="2.7"/>
<circle cx="430.9" cy="683.6" r="2.4"/>
<circle cx="425.3" cy="684.6" r="3.2"/>
<circle cx="431.1" cy="684.4" r="3.2"/>
<circle cx="427.6" cy="685.1" r="3.0"/>
<circle cx="428.8" cy="684.1" r="2.9"/>
<circle cx="427.7" cy="688.0" r="2.8"/>
<circle cx="425.3" cy="686.7" r="2.5"/>
<circle cx="450.1" cy="681.1" r="3.0"/>
<circle cx="448.0" cy="680.0" r="2.6"/>
<circle cx="446.5" cy="681.7" r="2.9"/>
<circle cx="448.3" cy="681.6" r="2.9"/>
<circle cx="446.4" cy="679.6" r="3.0"/>
<circle cx="446.2" cy="681.7" r="3.2"/>
<circle cx="446.7" cy="683.3" r="3.2"/>
<circle cx="445.1" cy="684.3" r="2.5"/>
<circle cx="446.3" cy="681.7" r="2.5"/>
<circle cx="442.5" cy="685.6" r="3.3"/>
<circle cx="443.1" cy="688.1" r="2.6"/>
<circle cx="444.7" cy="686.8" r="2.8"/>
<circle cx="442.8" cy="685.1" r="2.5"/>
<circle cx="443.8" cy="687.4" r="2.6"/>
<circle cx="442.3" cy="689.1" r="2.6"/>
<circle cx="440.9" cy="687.7" r="3.3"/>
<circle cx="438.0" cy="688.3" r="2.8"/>
<circle cx="442.9" cy="690.7" r="2.5"/>
<circle cx="442.1" cy="689.4" r="3.0"/>
<circle cx="443.3" cy="688.8" r="2.7"/>
<circle cx="439.3" cy="690.3" r="3.0"/>
<circle cx="439.5" cy="690.4" r="3.2"/>
<circle cx="439.6" cy="689.9" r="3.2"/>
<circle cx="439.1" cy="688.5" r="3.0"/>
<circle cx="440.5" cy="689.6" r="2.8"/>
<circle cx="437.5" cy="693.1" r="3.0"/>
<circle cx="437.3" cy="686.4" r="2.5"/>
<circle cx="434.8" cy="694.0" r="3.1"/>
<circle cx="434.3" cy="690.0" r="2.7"/>
<circle cx="438.4" cy="691.0" r="2.8"/>
<circle cx="436.0" cy="692.9" r="3.2"/>
<circle cx="435.3" cy="691.9" r="2.7"/>
<circle cx="432.4" cy="692.9" r="2.7"/>
<circle cx="435.5" cy="691.8" r="2.9"/>
<circle cx="436.0" cy="692.0" r="2.8"/>
<circle cx="432.1" cy="695.0" r="2.9"/>
<circle cx="432.9" cy="692.2" r="2.7"/>
<circle cx="430.6" cy="695.1" r="3.2"/>
<circle cx="429.9" cy="693.6" r="2.7"/>
<circle cx="431.3" cy="693.0" r="3.0"/>
<circle cx="431.5" cy="694.3" r="2.5"/>
<circle cx="430.0" cy="693.2" r="2.6"/>
<circle cx="430.5" cy="694.8" r="3.1"/>
<circle cx="427.7" cy="690.2" r="3.3"/>
<circle cx="423.9" cy="693.0" r="2.5"/>
<circle cx="429.1" cy="693.5" r="2.6"/>
<circle cx="426.7" cy="690.8" r="2.7"/>
<circle cx="429.4" cy="696.7" r="3.1"/>
<circle cx="421.4" cy="691.7" r="2.4"/>
<circle cx="425.9" cy="695.1" r="2.4"/>
<circle cx="423.8" cy="692.2" r="2.5"/>
<circle cx="424.5" cy="695.9" r="2.9"/>
<circle cx="420.9" cy="690.5" r="2.7"/>
<circle cx="424.7" cy="694.7" r="2.8"/>
<circle cx="422.2" cy="696.0" r="3.3"/>
<circle cx="424.7" cy="694.2" r="2.6"/>
<circle cx="421.7" cy="695.0" r="2.7"/>
<circle cx="420.7" cy="693.0" r="2.9"/>
<circle cx="420.1" cy="692.8" r="2.8"/>
<circle cx="420.4" cy="690.6" r="2.8"/>
<circle cx="421.2" cy="690.9" r="2.7"/>
<circle cx="415.2" cy="695.0" r="3.2"/>
<circle cx="420.4" cy="690.7" r="2.5"/>
<circle cx="418.7" cy="693.2" r="3.0"/>
<circle cx="420.8" cy="691.3" r="3.1"/>
<circle cx="416.7" cy="690.9" r="3.1"/>
<circle cx="414.0" cy="692.0" r="2.9"/>
<circle cx="415.7" cy="688.3" r="3.3"/>
<circle cx="419.6" cy="688.7" r="3.0"/>
<circle cx="414.2" cy="691.2" r="2.6"/>
<circle cx="417.3" cy="687.3" r="3.1"/>
<circle cx="416.4" cy="683.9" r="3.0"/>
<circle cx="412.0" cy="691.9" r="2.6"/>
<circle cx="411.9" cy="688.3" r="3.2"/>
<circle cx="410.7" cy="689.0" r="3.2"/>
<circle cx="415.4" cy="691.0" r="3.1"/>
<circle cx="412.9" cy="691.3" r="2.9"/>
<circle cx="412.5" cy="687.3" r="2.8"/>
<circle cx="410.6" cy="688.3" r="3.1"/>
<circle cx="410.5" cy="689.4" r="2.5"/>
<circle cx="410.1" cy="687.0" r="3.1"/>
<circle cx="408.0" cy="691.4" r="3.0"/>
<circle cx="409.3" cy="689.6" r="3.0"/>
<circle cx="407.6" cy="690.9" r="2.7"/>
<circle cx="403.4" cy="691.2" r="3.2"/>
<circle cx="407.8" cy="688.0" r="2.9"/>
<circle cx="406.3" cy="685.0" r="2.8"/>
<circle cx="405.9" cy="686.7" r="3.3"/>
<circle cx="403.2" cy="688.5" r="3.1"/>
<circle cx="405.3" cy="690.7" r="2.4"/>
<circle cx="405.4" cy="688.5" r="3.1"/>
<circle cx="404.3" cy="690.8" r="2.7"/>
<circle cx="401.9" cy="692.4" r="2.4"/>
<circle cx="400.6" cy="689.2" r="3.2"/>
<circle cx="401.2" cy="689.0" r="2.8"/>
<circle cx="397.3" cy="690.0" r="3.1"/>
<circle cx="397.3" cy="693.3" r="2.6"/>
<circle cx="401.5" cy="692.4" r="2.5"/>
<circle cx="399.5" cy="692.0" r="2.7"/>
<circle cx="400.3" cy="693.8" r="2.8"/>
<circle cx="397.9" cy="688.8" r="3.2"/>
<circle cx="397.7" cy="694.4" r="3.0"/>
<circle cx="399.6" cy="689.7" r="3.0"/>
<circle cx="392.2" cy="689.4" r="2.8"/>
<circle cx="398.7" cy="692.5" r="3.1"/>
<circle cx="393.4" cy="687.1" r="2.6"/>
<circle cx="390.7" cy="690.6" r="3.3"/>
<circle cx="394.5" cy="689.2" r="3.0"/>
<circle cx="391.1" cy="688.9" r="2.6"/>
<circle cx="393.7" cy="691.1" r="2.8"/>
<circle cx="391.6" cy="691.1" r="2.9"/>
<circle cx="391.4" cy="686.7" r="2.5"/>
<circle cx="392.0" cy="687.9" r="3.3"/>
<circle cx="391.1" cy="688.9" r="2.9"/>
<circle cx="391.3" cy="688.5" r="2.9"/>
<circle cx="388.7" cy="689.2" r="2.6"/>
<circle cx="389.4" cy="689.7" r="3.0"/>
<circle cx="383.5" cy="686.7" r="3.0"/>
<circle cx="384.1" cy="692.2" r="3.0"/>
<circle cx="383.0" cy="687.8" r="3.0"/>
<circle cx="384.4" cy="690.9" r="2.7"/>
<circle cx="386.9" cy="688.8" r="3.3"/>
<circle cx="385.2" cy="689.3" r="2.9"/>
<circle cx="385.0" cy="691.5" r="2.5"/>
<circle cx="385.3" cy="687.1" r="3.0"/>
<circle cx="388.5" cy="687.0" r="3.0"/>
<circle cx="382.7" cy="689.7" r="2.4"/>
<circle cx="377.7" cy="692.1" r="2.7"/>
<circle cx="381.3" cy="690.0" r="2.8"/>
<circle cx="383.1" cy="688.8" r="3.1"/>
<circle cx="381.7" cy="690.5" r="2.6"/>
<circle cx="380.3" cy="689.7" r="3.2"/>
<circle cx="378.9" cy="694.5" r="2.9"/>
<circle cx="376.6" cy="695.2" r="2.8"/>
<circle cx="378.0" cy="690.3" r="3.1"/>
<circle cx="378.6" cy="691.0" r="3.1"/>
<circle cx="377.0" cy="692.3" r="2.7"/>
<circle cx="374.1" cy="687.4" r="3.3"/>
<circle cx="378.6" cy="691.4" r="3.0"/>
<circle cx="377.1" cy="694.4" r="2.9"/>
<circle cx="372.5" cy="695.3" r="2.6"/>
<circle cx="375.3" cy="693.3" r="2.5"/>
<circle cx="371.2" cy="690.9" r="2.5"/>
<circle cx="371.1" cy="693.0" r="2.9"/>
<circle cx="371.1" cy="694.6" r="2.4"/>
<circle cx="374.5" cy="694.4" r="2.6"/>
<circle cx="372.3" cy="692.6" r="3.1"/>
<circle cx="371.8" cy="695.1" r="2.8"/>
<circle cx="369.9" cy="695.7" r="3.1"/>
<circle cx="371.2" cy="697.7" r="3.2"/>
<circle cx="368.1" cy="695.9" r="3.2"/>
<circle cx="368.9" cy="694.8" r="2.5"/>
<circle cx="370.8" cy="696.7" r="2.5"/>
<circle cx="367.7" cy="694.5" r="2.7"/>
<circle cx="364.0" cy="696.1" r="2.6"/>
<circle cx="368.8" cy="698.1" r="2.7"/>
<circle cx="369.9" cy="695.5" r="2.8"/>
<circle cx="367.2" cy="697.9" r="2.5"/>
<circle cx="368.0" cy="695.5" r="2.5"/>
<circle cx="365.5" cy="697.5" r="2.9"/>
<circle cx="365.3" cy="699.3" r="3.1"/>
<circle cx="364.9" cy="696.8" r="2.6"/>
<circle cx="364.2" cy="697.7" r="3.0"/>
<circle cx="368.3" cy="702.2" r="2.4"/>
<circle cx="364.9" cy="702.4" r="2.6"/>
<circle cx="366.7" cy="702.5" r="3.3"/>
<circle cx="363.2" cy="702.8" r="3.0"/>
<circle cx="364.0" cy="703.9" r="3.0"/>
<circle cx="362.4" cy="703.0" r="2.5"/>
<circle cx="357.5" cy="701.5" r="3.2"/>
<circle cx="364.6" cy="704.8" r="2.8"/>
<circle cx="363.5" cy="706.6" r="2.8"/>
<circle cx="362.8" cy="703.0" r="3.2"/>
<circle cx="362.8" cy="703.0" r="2.5"/>
<circle cx="360.6" cy="705.6" r="3.0"/>
<circle cx="360.5" cy="703.7" r="3.3"/>
<circle cx="363.9" cy="707.3" r="3.1"/>
<circle cx="362.0" cy="708.1" r="2.4"/>
<circle cx="357.8" cy="706.0" r="2.7"/>
<circle cx="359.6" cy="706.3" r="3.0"/>
<circle cx="359.0" cy="713.7" r="2.8"/>
<circle cx="360.4" cy="709.0" r="3.1"/>
<circle cx="361.1" cy="707.5" r="2.5"/>
<circle cx="361.1" cy="707.8" r="2.5"/>
<circle cx="356.8" cy="712.5" r="2.4"/>
<circle cx="360.3" cy="711.5" r="3.2"/>
<circle cx="360.1" cy="711.6" r="3.2"/>
<circle cx="359.1" cy="708.5" r="2.9"/>
<circle cx="360.8" cy="712.2" r="3.3"/>
<circle cx="356.8" cy="712.7" r="2.9"/>
<circle cx="356.0" cy="713.9" r="2.7"/>
<circle cx="355.1" cy="714.1" r="2.6"/>
<circle cx="357.0" cy="717.0" r="2.9"/>
<circle cx="354.8" cy="716.7" r="2.6"/>
<circle cx="355.5" cy="715.6" r="3.1"/>
<circle cx="355.9" cy="713.3" r="2.9"/>
<circle cx="356.7" cy="721.3" r="2.9"/>
<circle cx="355.4" cy="718.6" r="2.8"/>
<circle cx="355.4" cy="714.7" r="2.8"/>
<circle cx="356.0" cy="717.3" r="2.8"/>
<circle cx="354.9" cy="720.4" r="2.7"/>
<circle cx="355.9" cy="716.6" r="2.6"/>
<circle cx="355.9" cy="723.5" r="3.0"/>
<circle cx="354.2" cy="718.3" r="3.0"/>
<circle cx="355.2" cy="721.9" r="2.7"/>
<circle cx="359.8" cy="722.8" r="2.9"/>
<circle cx="352.5" cy="718.0" r="3.1"/>
<circle cx="354.9" cy="724.6" r="2.5"/>
<circle cx="355.4" cy="720.4" r="2.8"/>
<circle cx="353.3" cy="725.0" r="2.8"/>
<circle cx="353.2" cy="720.6" r="3.2"/>
<circle cx="355.4" cy="723.5" r="2.8"/>
<circle cx="351.9" cy="730.3" r="2.6"/>
<circle cx="354.6" cy="727.4" r="3.2"/>
<circle cx="354.7" cy="725.3" r="3.2"/>
<circle cx="355.1" cy="726.0" r="2.6"/>
<circle cx="353.7" cy="726.0" r="2.5"/>
<circle cx="355.0" cy="727.2" r="2.8"/>
<circle cx="352.0" cy="728.1" r="2.4"/>
<circle cx="351.7" cy="730.6" r="2.4"/>
<circle cx="350.8" cy="732.3" r="2.7"/>
<circle cx="351.8" cy="728.2" r="2.6"/>
<circle cx="355.6" cy="731.5" r="2.9"/>
<circle cx="352.3" cy="732.9" r="3.2"/>
<circle cx="353.7" cy="731.5" r="2.9"/>
<circle cx="351.0" cy="732.0" r="2.4"/>
<circle cx="351.1" cy="735.8" r="2.9"/>
<circle cx="351.3" cy="733.8" r="2.6"/>
<circle cx="351.4" cy="736.3" r="2.7"/>
<circle cx="352.8" cy="734.5" r="3.3"/>
<circle cx="352.1" cy="739.3" r="2.6"/>
<circle cx="350.2" cy="735.2" r="2.4"/>
<circle cx="352.7" cy="733.4" r="2.6"/>
<circle cx="351.9" cy="735.1" r="3.3"/>
<circle cx="353.2" cy="738.4" r="2.6"/>
<circle cx="349.0" cy="736.0" r="3.2"/>
<circle cx="349.4" cy="738.3" r="3.1"/>
<circle cx="352.3" cy="740.3" r="3.1"/>
<circle cx="345.5" cy="742.2" r="2.5"/>
<circle cx="349.7" cy="740.9" r="2.4"/>
<circle cx="351.6" cy="741.6" r="2.7"/>
<circle cx="348.8" cy="742.7" r="2.7"/>
<circle cx="350.2" cy="740.1" r="3.3"/>
<circle cx="351.9" cy="744.9" r="2.8"/>
<circle cx="348.2" cy="746.2" r="2.6"/>
<circle cx="352.0" cy="742.8" r="2.7"/>
<circle cx="348.9" cy="743.0" r="2.7"/>
<circle cx="354.7" cy="747.6" r="2.7"/>
<circle cx="352.7" cy="747.6" r="2.9"/>
<circle cx="349.8" cy="747.8" r="3.2"/>
<circle cx="349.5" cy="748.6" r="3.3"/>
<circle cx="349.3" cy="749.0" r="2.5"/>
<circle cx="349.0" cy="745.7" r="2.8"/>
<circle cx="349.3" cy="749.4" r="3.1"/>
<circle cx="346.9" cy="750.2" r="2.7"/>
<circle cx="350.3" cy="749.4" r="2.6"/>
<circle cx="353.1" cy="749.7" r="3.0"/>
<circle cx="348.1" cy="751.0" r="2.6"/>
<circle cx="351.5" cy="753.9" r="3.0"/>
<circle cx="350.0" cy="754.8" r="2.5"/>
<circle cx="349.3" cy="751.9" r="2.9"/>
<circle cx="349.2" cy="755.5" r="2.5"/>
<circle cx="347.5" cy="754.1" r="2.5"/>
<circle cx="349.0" cy="757.1" r="2.9"/>
<circle cx="347.6" cy="752.8" r="2.9"/>
<circle cx="350.4" cy="757.6" r="3.1"/>
<circle cx="347.2" cy="754.8" r="2.7"/>
<circle cx="345.5" cy="758.3" r="3.1"/>
<circle cx="349.8" cy="756.5" r="3.0"/>
<circle cx="354.6" cy="758.7" r="3.3"/>
<circle cx="350.2" cy="756.9" r="3.2"/>
<circle cx="352.0" cy="762.1" r="2.9"/>
<circle cx="354.5" cy="759.9" r="2.8"/>
<circle cx="352.0" cy="757.6" r="2.9"/>
<circle cx="351.5" cy="759.7" r="3.2"/>
<circle cx="350.5" cy="761.6" r="2.7"/>
<circle cx="351.5" cy="762.1" r="3.0"/>
<circle cx="351.7" cy="763.1" r="2.7"/>
<circle cx="350.2" cy="767.1" r="3.2"/>
<circle cx="354.9" cy="759.3" r="2.8"/>
<circle cx="351.5" cy="762.6" r="3.2"/>
<circle cx="352.3" cy="761.8" r="2.6"/>
<circle cx="354.8" cy="767.5" r="2.9"/>
<circle cx="348.4" cy="763.3" r="2.5"/>
<circle cx="350.7" cy="764.3" r="3.1"/>
<circle cx="350.2" cy="767.2" r="3.3"/>
<circle cx="350.9" cy="770.5" r="3.1"/>
<circle cx="351.6" cy="770.9" r="2.8"/>
<circle cx="351.8" cy="769.9" r="3.3"/>
<circle cx="350.1" cy="770.8" r="2.9"/>
<circle cx="354.9" cy="770.3" r="3.1"/>
<circle cx="353.1" cy="769.1" r="2.6"/>
<circle cx="350.1" cy="773.4" r="3.0"/>
<circle cx="350.0" cy="772.7" r="2.5"/>
<circle cx="353.9" cy="771.0" r="2.9"/>
<circle cx="448.8" cy="697.0" r="3.1"/>
<circle cx="445.3" cy="702.9" r="2.5"/>
<circle cx="446.7" cy="703.8" r="2.8"/>
<circle cx="444.5" cy="703.7" r="2.6"/>
<circle cx="445.9" cy="702.7" r="3.1"/>
<circle cx="445.4" cy="708.0" r="2.9"/>
<circle cx="442.3" cy="702.7" r="2.5"/>
<circle cx="444.6" cy="703.8" r="3.2"/>
<circle cx="444.5" cy="703.3" r="3.1"/>
<circle cx="439.5" cy="708.9" r="3.3"/>
<circle cx="442.1" cy="709.4" r="2.8"/>
<circle cx="439.4" cy="709.1" r="2.6"/>
<circle cx="441.2" cy="708.4" r="2.5"/>
<circle cx="439.9" cy="713.7" r="2.6"/>
<circle cx="434.9" cy="712.2" r="2.8"/>
<circle cx="432.3" cy="712.5" r="2.4"/>
<circle cx="437.5" cy="713.0" r="2.4"/>
<circle cx="435.9" cy="711.6" r="2.9"/>
<circle cx="435.8" cy="719.6" r="2.7"/>
<circle cx="434.1" cy="715.0" r="2.9"/>
<circle cx="432.4" cy="715.9" r="2.8"/>
<circle cx="436.2" cy="720.0" r="3.0"/>
<circle cx="434.3" cy="722.1" r="3.1"/>
<circle cx="435.6" cy="723.3" r="3.2"/>
<circle cx="433.2" cy="722.4" r="2.5"/>
<circle cx="431.0" cy="724.0" r="2.8"/>
<circle cx="430.5" cy="726.2" r="2.8"/>
<circle cx="427.3" cy="728.3" r="3.1"/>
<circle cx="430.8" cy="727.6" r="2.4"/>
<circle cx="428.6" cy="728.7" r="3.0"/>
<circle cx="430.1" cy="721.4" r="2.6"/>
<circle cx="431.9" cy="730.9" r="2.8"/>
<circle cx="429.7" cy="730.2" r="2.7"/>
<circle cx="432.2" cy="734.8" r="2.9"/>
<circle cx="424.4" cy="734.4" r="3.1"/>
<circle cx="427.5" cy="732.4" r="2.6"/>
<circle cx="421.2" cy="738.2" r="2.8"/>
<circle cx="422.7" cy="733.8" r="2.8"/>
<circle cx="421.8" cy="736.3" r="2.9"/>
<circle cx="423.0" cy="737.1" r="2.7"/>
<circle cx="426.0" cy="734.3" r="2.4"/>
<circle cx="418.1" cy="737.1" r="3.2"/>
<circle cx="418.2" cy="740.4" r="2.7"/>
<circle cx="417.6" cy="737.3" r="2.6"/>
<circle cx="415.3" cy="739.1" r="3.0"/>
<circle cx="418.9" cy="742.9" r="2.7"/>
<circle cx="413.8" cy="742.1" r="2.5"/>
<circle cx="413.6" cy="742.4" r="3.1"/>
<circle cx="412.3" cy="747.4" r="3.1"/>
<circle cx="415.0" cy="747.8" r="2.5"/>
<circle cx="411.5" cy="745.7" r="3.1"/>
<circle cx="408.9" cy="747.5" r="2.8"/>
<circle cx="406.3" cy="747.0" r="2.5"/>
<circle cx="405.6" cy="747.3" r="3.3"/>
<circle cx="404.5" cy="749.9" r="2.6"/>
<circle cx="407.2" cy="748.4" r="3.0"/>
<circle cx="405.4" cy="747.7" r="3.1"/>
<circle cx="403.1" cy="751.6" r="2.4"/>
<circle cx="397.8" cy="752.9" r="2.6"/>
<circle cx="397.7" cy="753.7" r="2.6"/>
<circle cx="402.0" cy="755.4" r="2.8"/>
<circle cx="404.0" cy="752.1" r="2.6"/>
<circle cx="396.2" cy="754.0" r="2.4"/>
<circle cx="392.7" cy="757.5" r="2.7"/>
<circle cx="393.5" cy="754.8" r="2.5"/>
<circle cx="396.7" cy="757.0" r="2.7"/>
<circle cx="394.6" cy="758.0" r="2.7"/>
<circle cx="395.6" cy="761.2" r="2.4"/>
<circle cx="393.8" cy="761.6" r="2.5"/>
<circle cx="393.2" cy="761.9" r="2.9"/>
<circle cx="393.8" cy="765.2" r="2.8"/>
<circle cx="390.3" cy="764.7" r="3.2"/>
<circle cx="393.2" cy="765.1" r="2.5"/>
<circle cx="391.1" cy="764.2" r="2.9"/>
<circle cx="388.9" cy="765.2" r="2.5"/>
<circle cx="386.4" cy="764.1" r="3.0"/>
<circle cx="386.3" cy="770.7" r="2.6"/>
<circle cx="384.4" cy="769.7" r="2.9"/>
<circle cx="384.8" cy="771.8" r="3.0"/>
<circle cx="388.3" cy="773.1" r="2.8"/>
<circle cx="384.2" cy="773.1" r="2.9"/>
<circle cx="413.0" cy="676.9" r="2.7"/>
<circle cx="412.0" cy="679.2" r="2.6"/>
<circle cx="418.8" cy="676.7" r="3.3"/>
<circle cx="415.6" cy="676.7" r="3.1"/>
<circle cx="412.7" cy="676.5" r="3.3"/>
<circle cx="411.0" cy="674.6" r="2.9"/>
<circle cx="415.8" cy="679.3" r="2.6"/>
<circle cx="411.8" cy="680.1" r="2.6"/>
<circle cx="408.4" cy="678.3" r="2.5"/>
<circle cx="410.3" cy="676.9" r="2.8"/>
<circle cx="408.5" cy="675.4" r="2.4"/>
<circle cx="411.3" cy="682.3" r="2.8"/>
<circle cx="407.4" cy="678.7" r="3.0"/>
<circle cx="408.3" cy="675.2" r="2.8"/>
<circle cx="405.8" cy="677.1" r="2.6"/>
<circle cx="411.9" cy="676.6" r="3.1"/>
<circle cx="408.8" cy="678.1" r="3.2"/>
<circle cx="406.3" cy="681.4" r="3.0"/>
<circle cx="408.9" cy="677.0" r="3.2"/>
<circle cx="404.6" cy="681.7" r="2.8"/>
<circle cx="403.7" cy="680.2" r="3.1"/>
<circle cx="405.8" cy="675.5" r="3.0"/>
<circle cx="403.8" cy="679.6" r="2.9"/>
<circle cx="403.0" cy="680.4" r="2.5"/>
<circle cx="403.8" cy="681.3" r="2.6"/>
<circle cx="402.5" cy="677.5" r="3.2"/>
<circle cx="400.4" cy="680.3" r="2.8"/>
<circle cx="402.3" cy="679.2" r="2.7"/>
<circle cx="403.5" cy="679.4" r="2.7"/>
<circle cx="404.0" cy="679.2" r="2.6"/>
<circle cx="398.6" cy="679.6" r="2.5"/>
<circle cx="397.4" cy="676.9" r="2.9"/>
<circle cx="397.4" cy="680.9" r="3.3"/>
<circle cx="392.9" cy="683.5" r="3.2"/>
<circle cx="398.8" cy="682.0" r="2.4"/>
<circle cx="394.8" cy="676.2" r="3.0"/>
<circle cx="391.7" cy="678.5" r="2.5"/>
<circle cx="393.0" cy="679.2" r="2.8"/>
<circle cx="394.9" cy="682.4" r="2.9"/>
<circle cx="393.7" cy="677.1" r="2.9"/>
<circle cx="395.7" cy="678.1" r="2.9"/>
<circle cx="390.1" cy="683.6" r="2.7"/>
<circle cx="392.8" cy="680.9" r="3.0"/>
<circle cx="393.4" cy="678.8" r="3.0"/>
<circle cx="393.3" cy="678.7" r="2.8"/>
<circle cx="386.6" cy="680.8" r="2.7"/>
<circle cx="391.1" cy="681.7" r="3.1"/>
<circle cx="388.5" cy="683.0" r="3.2"/>
<circle cx="388.6" cy="680.9" r="2.8"/>
<circle cx="385.0" cy="684.2" r="3.3"/>
<circle cx="383.6" cy="681.4" r="3.0"/>
<circle cx="388.5" cy="684.8" r="2.6"/>
<circle cx="387.4" cy="681.3" r="2.4"/>
<circle cx="383.0" cy="680.6" r="3.3"/>
<circle cx="381.2" cy="682.4" r="3.1"/>
<circle cx="382.6" cy="679.8" r="2.7"/>
<circle cx="381.3" cy="680.7" r="3.0"/>
<circle cx="380.9" cy="680.5" r="2.9"/>
<circle cx="383.3" cy="680.6" r="2.7"/>
<circle cx="382.2" cy="680.8" r="2.4"/>
<circle cx="377.6" cy="682.6" r="3.0"/>
<circle cx="383.8" cy="680.3" r="2.9"/>
<circle cx="379.4" cy="681.1" r="2.7"/>
<circle cx="378.9" cy="684.0" r="2.5"/>
<circle cx="376.8" cy="681.1" r="2.8"/>
<circle cx="377.2" cy="682.2" r="3.1"/>
<circle cx="378.2" cy="679.5" r="2.5"/>
<circle cx="373.7" cy="679.9" r="3.3"/>
<circle cx="376.3" cy="681.7" r="3.2"/>
<circle cx="374.9" cy="681.1" r="3.2"/>
<circle cx="376.9" cy="679.1" r="2.6"/>
<circle cx="372.9" cy="681.9" r="2.7"/>
<circle cx="374.1" cy="680.4" r="2.7"/>
<circle cx="369.2" cy="682.0" r="2.9"/>
<circle cx="374.9" cy="682.1" r="3.3"/>
<circle cx="374.3" cy="683.9" r="2.9"/>
<circle cx="370.9" cy="678.8" r="3.0"/>
<circle cx="368.4" cy="684.2" r="2.9"/>
<circle cx="369.2" cy="679.6" r="2.4"/>
<circle cx="368.2" cy="687.7" r="2.5"/>
<circle cx="369.4" cy="683.9" r="3.0"/>
<circle cx="369.2" cy="683.2" r="2.7"/>
<circle cx="368.6" cy="687.6" r="2.9"/>
<circle cx="366.3" cy="683.9" r="2.9"/>
<circle cx="370.2" cy="684.2" r="3.3"/>
<circle cx="366.6" cy="687.7" r="2.7"/>
<circle cx="364.1" cy="688.5" r="2.6"/>
<circle cx="362.5" cy="684.8" r="3.2"/>
<circle cx="366.5" cy="686.4" r="2.8"/>
<circle cx="365.5" cy="686.0" r="3.2"/>
<circle cx="362.0" cy="688.2" r="3.2"/>
<circle cx="365.0" cy="687.7" r="2.5"/>
<circle cx="364.0" cy="688.5" r="3.0"/>
<circle cx="361.5" cy="687.1" r="3.1"/>
<circle cx="360.8" cy="687.7" r="3.1"/>
<circle cx="361.9" cy="686.9" r="3.2"/>
<circle cx="361.3" cy="687.0" r="2.4"/>
<circle cx="362.6" cy="685.9" r="2.5"/>
<circle cx="360.1" cy="685.6" r="3.0"/>
<circle cx="361.9" cy="684.3" r="2.7"/>
<circle cx="360.8" cy="685.7" r="2.7"/>
<circle cx="357.0" cy="687.0" r="3.2"/>
<circle cx="356.3" cy="689.3" r="2.6"/>
<circle cx="356.1" cy="689.9" r="3.2"/>
<circle cx="357.7" cy="689.5" r="3.0"/>
<circle cx="355.8" cy="690.0" r="3.1"/>
<circle cx="356.0" cy="689.7" r="2.5"/>
<circle cx="354.9" cy="695.0" r="2.8"/>
<circle cx="355.6" cy="691.3" r="2.5"/>
<circle cx="352.5" cy="696.0" r="2.5"/>
<circle cx="357.3" cy="694.7" r="2.5"/>
<circle cx="353.7" cy="693.1" r="2.6"/>
<circle cx="351.7" cy="690.9" r="2.8"/>
<circle cx="352.9" cy="694.9" r="2.7"/>
<circle cx="353.2" cy="698.5" r="3.0"/>
<circle cx="353.1" cy="693.4" r="3.0"/>
<circle cx="353.6" cy="697.5" r="2.7"/>
<circle cx="351.3" cy="699.7" r="2.6"/>
<circle cx="350.8" cy="698.5" r="3.2"/>
<circle cx="349.8" cy="695.9" r="2.7"/>
<circle cx="354.8" cy="695.9" r="2.8"/>
<circle cx="347.0" cy="697.0" r="2.6"/>
<circle cx="350.1" cy="699.9" r="2.9"/>
<circle cx="349.9" cy="698.4" r="2.8"/>
<circle cx="351.5" cy="699.8" r="2.7"/>
<circle cx="351.1" cy="697.1" r="2.7"/>
<circle cx="350.6" cy="702.8" r="3.1"/>
<circle cx="350.8" cy="700.1" r="2.7"/>
<circle cx="346.6" cy="701.8" r="2.8"/>
<circle cx="343.9" cy="703.4" r="3.2"/>
<circle cx="349.7" cy="702.2" r="3.3"/>
<circle cx="350.3" cy="707.0" r="3.0"/>
<circle cx="348.8" cy="702.9" r="3.3"/>
<circle cx="350.9" cy="705.4" r="3.1"/>
<circle cx="344.6" cy="707.9" r="2.6"/>
<circle cx="346.9" cy="703.9" r="2.8"/>
<circle cx="347.8" cy="709.8" r="3.1"/>
<circle cx="351.0" cy="709.9" r="2.6"/>
<circle cx="345.0" cy="709.1" r="2.9"/>
<circle cx="349.7" cy="705.4" r="3.0"/>
<circle cx="345.4" cy="709.5" r="2.5"/>
<circle cx="343.4" cy="709.2" r="2.8"/>
<circle cx="347.6" cy="709.8" r="2.7"/>
<circle cx="344.5" cy="711.2" r="3.2"/>
<circle cx="343.3" cy="709.9" r="2.8"/>
<circle cx="345.1" cy="713.4" r="2.8"/>
<circle cx="340.0" cy="714.1" r="2.9"/>
<circle cx="345.0" cy="713.5" r="2.5"/>
<circle cx="342.8" cy="716.2" r="3.2"/>
<circle cx="344.7" cy="717.3" r="2.8"/>
<circle cx="342.0" cy="714.1" r="2.4"/>
<circle cx="346.7" cy="716.3" r="3.0"/>
<circle cx="340.9" cy="718.7" r="3.1"/>
<circle cx="343.6" cy="717.0" r="2.9"/>
<circle cx="343.0" cy="715.8" r="2.4"/>
<circle cx="343.2" cy="717.5" r="3.1"/>
<circle cx="342.5" cy="717.0" r="2.8"/>
<circle cx="343.6" cy="719.9" r="2.6"/>
<circle cx="344.1" cy="717.3" r="3.0"/>
<circle cx="341.2" cy="722.6" r="2.9"/>
<circle cx="342.0" cy="718.8" r="2.9"/>
<circle cx="344.8" cy="725.7" r="3.0"/>
<circle cx="340.2" cy="721.0" r="2.5"/>
<circle cx="342.1" cy="723.3" r="3.2"/>
<circle cx="344.7" cy="722.8" r="3.2"/>
<circle cx="343.1" cy="720.3" r="2.7"/>
<circle cx="342.7" cy="726.8" r="2.7"/>
<circle cx="342.0" cy="722.7" r="3.1"/>
<circle cx="339.1" cy="723.4" r="3.3"/>
<circle cx="338.1" cy="729.4" r="2.4"/>
<circle cx="342.3" cy="725.8" r="2.9"/>
<circle cx="339.4" cy="728.8" r="2.7"/>
<circle cx="342.6" cy="730.5" r="2.9"/>
<circle cx="341.7" cy="725.7" r="2.4"/>
<circle cx="341.7" cy="727.1" r="2.8"/>
<circle cx="342.9" cy="729.0" r="3.0"/>
<circle cx="341.6" cy="726.9" r="2.8"/>
<circle cx="341.0" cy="727.4" r="2.6"/>
<circle cx="338.8" cy="730.2" r="3.1"/>
<circle cx="341.8" cy="732.9" r="2.7"/>
<circle cx="342.6" cy="733.0" r="3.1"/>
<circle cx="340.1" cy="732.0" r="3.1"/>
<circle cx="343.4" cy="735.3" r="2.5"/>
<circle cx="342.2" cy="734.6" r="2.9"/>
<circle cx="340.5" cy="738.2" r="3.2"/>
<circle cx="340.3" cy="738.0" r="3.0"/>
<circle cx="339.6" cy="735.0" r="3.3"/>
<circle cx="341.2" cy="736.0" r="2.7"/>
<circle cx="340.3" cy="737.9" r="2.8"/>
<circle cx="341.1" cy="737.1" r="3.2"/>
<circle cx="340.6" cy="738.2" r="3.2"/>
<circle cx="340.5" cy="739.8" r="2.5"/>
<circle cx="340.0" cy="739.8" r="2.6"/>
<circle cx="340.6" cy="742.2" r="2.8"/>
<circle cx="339.8" cy="742.5" r="3.1"/>
<circle cx="340.2" cy="739.2" r="3.2"/>
<circle cx="341.1" cy="739.1" r="2.8"/>
<circle cx="340.0" cy="743.0" r="3.2"/>
<circle cx="339.7" cy="742.1" r="3.2"/>
<circle cx="340.7" cy="742.9" r="3.0"/>
<circle cx="340.5" cy="746.2" r="3.2"/>
<circle cx="339.0" cy="746.2" r="3.0"/>
<circle cx="341.2" cy="747.5" r="2.8"/>
<circle cx="341.4" cy="745.5" r="3.0"/>
<circle cx="341.6" cy="746.6" r="2.5"/>
<circle cx="341.5" cy="748.7" r="2.6"/>
<circle cx="340.3" cy="746.6" r="3.0"/>
<circle cx="340.6" cy="747.2" r="2.6"/>
<circle cx="340.2" cy="746.5" r="3.2"/>
<circle cx="339.1" cy="750.8" r="3.3"/>
<circle cx="337.4" cy="753.8" r="3.2"/>
<circle cx="340.9" cy="752.6" r="3.2"/>
<circle cx="342.9" cy="753.4" r="3.1"/>
<circle cx="340.2" cy="748.9" r="2.5"/>
<circle cx="341.1" cy="751.9" r="3.1"/>
<circle cx="340.1" cy="751.0" r="3.0"/>
<circle cx="337.7" cy="754.9" r="2.4"/>
<circle cx="342.1" cy="753.1" r="3.1"/>
<circle cx="337.1" cy="755.0" r="2.7"/>
<circle cx="340.1" cy="754.9" r="2.8"/>
<circle cx="343.8" cy="757.4" r="3.0"/>
<circle cx="336.0" cy="758.5" r="3.3"/>
<circle cx="341.4" cy="756.5" r="3.0"/>
<circle cx="340.3" cy="754.8" r="2.4"/>
<circle cx="342.5" cy="757.0" r="2.9"/>
<circle cx="341.3" cy="757.1" r="2.4"/>
<circle cx="342.1" cy="758.4" r="2.4"/>
<circle cx="344.8" cy="764.3" r="3.1"/>
<circle cx="341.1" cy="761.3" r="3.2"/>
<circle cx="339.6" cy="758.7" r="2.5"/>
<circle cx="337.0" cy="763.8" r="2.4"/>
<circle cx="340.4" cy="762.3" r="3.3"/>
<circle cx="344.9" cy="765.4" r="3.2"/>
<circle cx="341.3" cy="762.6" r="3.0"/>
<circle cx="339.3" cy="763.9" r="2.5"/>
<circle cx="338.3" cy="764.1" r="2.5"/>
<circle cx="343.3" cy="763.6" r="2.6"/>
<circle cx="342.2" cy="767.6" r="3.0"/>
<circle cx="338.6" cy="764.4" r="2.9"/>
<circle cx="336.8" cy="766.3" r="2.6"/>
<circle cx="344.3" cy="767.5" r="2.7"/>
<circle cx="344.2" cy="769.3" r="2.4"/>
<circle cx="344.9" cy="767.4" r="3.2"/>
<circle cx="342.1" cy="766.2" r="3.1"/>
<circle cx="342.3" cy="772.5" r="2.6"/>
<circle cx="341.1" cy="769.4" r="3.1"/>
<circle cx="344.5" cy="772.3" r="3.1"/>
<circle cx="345.6" cy="766.5" r="2.5"/>
<circle cx="344.2" cy="772.9" r="3.1"/>
<circle cx="402.8" cy="708.3" r="3.1"/>
<circle cx="400.1" cy="711.3" r="3.2"/>
<circle cx="400.5" cy="709.8" r="2.9"/>
<circle cx="398.6" cy="712.7" r="2.9"/>
<circle cx="402.8" cy="714.5" r="2.8"/>
<circle cx="398.9" cy="714.6" r="2.7"/>
<circle cx="399.1" cy="715.4" r="2.7"/>
<circle cx="401.1" cy="714.5" r="2.4"/>
<circle cx="399.6" cy="713.3" r="2.8"/>
<circle cx="398.1" cy="714.7" r="2.6"/>
<circle cx="403.0" cy="716.6" r="3.2"/>
<circle cx="398.4" cy="718.8" r="2.7"/>
<circle cx="402.2" cy="718.7" r="3.2"/>
<circle cx="398.2" cy="719.2" r="3.0"/>
<circle cx="398.4" cy="716.3" r="2.7"/>
<circle cx="397.7" cy="722.2" r="3.2"/>
<circle cx="397.6" cy="718.6" r="2.9"/>
<circle cx="399.6" cy="719.6" r="2.8"/>
<circle cx="396.7" cy="720.9" r="3.1"/>
<circle cx="399.0" cy="722.3" r="3.0"/>
<circle cx="391.6" cy="722.1" r="3.2"/>
<circle cx="394.5" cy="721.4" r="2.9"/>
<circle cx="393.5" cy="723.2" r="3.2"/>
<circle cx="394.3" cy="722.0" r="2.6"/>
<circle cx="392.7" cy="725.6" r="2.7"/>
<circle cx="390.5" cy="725.3" r="2.6"/>
<circle cx="393.0" cy="722.9" r="3.3"/>
<circle cx="394.6" cy="724.6" r="2.9"/>
<circle cx="394.1" cy="726.8" r="3.0"/>
<circle cx="391.0" cy="724.7" r="2.4"/>
<circle cx="393.4" cy="728.2" r="2.6"/>
<circle cx="390.3" cy="729.5" r="3.2"/>
<circle cx="389.3" cy="727.3" r="2.9"/>
<circle cx="389.8" cy="731.2" r="2.5"/>
<circle cx="389.7" cy="730.4" r="3.2"/>
<circle cx="390.0" cy="729.9" r="2.5"/>
<circle cx="389.3" cy="731.0" r="2.8"/>
<circle cx="388.5" cy="727.9" r="2.8"/>
<circle cx="385.4" cy="732.3" r="3.2"/>
<circle cx="383.7" cy="732.7" r="2.6"/>
<circle cx="389.3" cy="730.9" r="3.0"/>
<circle cx="385.5" cy="732.7" r="2.5"/>
<circle cx="387.4" cy="731.0" r="3.0"/>
<circle cx="383.4" cy="733.2" r="2.6"/>
<circle cx="385.9" cy="734.6" r="3.0"/>
<circle cx="384.6" cy="733.5" r="3.0"/>
<circle cx="383.6" cy="734.3" r="2.6"/>
<circle cx="384.6" cy="737.9" r="2.9"/>
<circle cx="382.7" cy="736.2" r="2.7"/>
<circle cx="382.5" cy="737.1" r="3.1"/>
<circle cx="383.1" cy="733.1" r="3.2"/>
<circle cx="381.5" cy="735.7" r="2.4"/>
<circle cx="382.5" cy="738.3" r="2.9"/>
<circle cx="382.5" cy="735.3" r="2.8"/>
<circle cx="381.4" cy="743.5" r="3.1"/>
<circle cx="380.4" cy="739.2" r="3.3"/>
<circle cx="380.3" cy="743.0" r="2.5"/>
<circle cx="379.1" cy="738.4" r="3.2"/>
<circle cx="379.5" cy="741.3" r="2.6"/>
<circle cx="381.2" cy="736.1" r="3.0"/>
<circle cx="378.5" cy="740.2" r="2.6"/>
<circle cx="383.5" cy="745.0" r="2.4"/>
<circle cx="377.1" cy="741.6" r="2.6"/>
<circle cx="374.1" cy="745.0" r="2.6"/>
<circle cx="379.2" cy="746.1" r="3.0"/>
<circle cx="376.3" cy="744.3" r="3.2"/>
<circle cx="378.1" cy="745.7" r="2.6"/>
<circle cx="374.7" cy="745.3" r="2.9"/>
<circle cx="375.9" cy="742.1" r="2.8"/>
<circle cx="379.7" cy="747.6" r="2.4"/>
<circle cx="375.5" cy="748.3" r="2.9"/>
<circle cx="375.9" cy="746.9" r="2.7"/>
<circle cx="377.1" cy="746.2" r="2.5"/>
<circle cx="373.9" cy="746.0" r="2.8"/>
<circle cx="376.4" cy="752.0" r="2.7"/>
<circle cx="375.4" cy="751.1" r="2.8"/>
<circle cx="375.7" cy="752.2" r="2.9"/>
<circle cx="372.3" cy="750.9" r="3.1"/>
<circle cx="375.3" cy="753.0" r="3.2"/>
<circle cx="376.4" cy="749.5" r="3.1"/>
<circle cx="370.0" cy="752.6" r="2.9"/>
<circle cx="374.1" cy="754.9" r="2.5"/>
<circle cx="373.9" cy="753.3" r="2.8"/>
<circle cx="371.6" cy="754.9" r="3.0"/>
<circle cx="373.2" cy="752.5" r="3.2"/>
<circle cx="371.5" cy="757.3" r="3.1"/>
<circle cx="371.0" cy="755.2" r="2.7"/>
<circle cx="373.4" cy="760.4" r="2.8"/>
<circle cx="371.8" cy="756.5" r="2.7"/>
<circle cx="367.8" cy="758.4" r="3.2"/>
<circle cx="368.8" cy="761.6" r="2.8"/>
<circle cx="372.5" cy="757.5" r="2.9"/>
<circle cx="369.3" cy="761.7" r="3.2"/>
<circle cx="370.7" cy="759.7" r="2.5"/>
<circle cx="371.7" cy="766.4" r="2.4"/>
<circle cx="370.8" cy="760.3" r="2.9"/>
<circle cx="367.9" cy="762.6" r="2.9"/>
<circle cx="373.2" cy="766.0" r="2.5"/>
<circle cx="371.3" cy="766.5" r="3.0"/>
<circle cx="370.4" cy="762.2" r="3.2"/>
<circle cx="369.5" cy="765.7" r="2.6"/>
<circle cx="369.3" cy="765.1" r="2.9"/>
<circle cx="369.1" cy="765.8" r="2.9"/>
<circle cx="371.4" cy="765.6" r="2.8"/>
<circle cx="367.2" cy="768.3" r="3.3"/>
<circle cx="369.1" cy="765.9" r="2.7"/>
<circle cx="368.1" cy="767.2" r="3.1"/>
<circle cx="365.7" cy="772.9" r="3.0"/>
<circle cx="365.8" cy="771.4" r="3.1"/>
<circle cx="363.3" cy="770.4" r="2.4"/>
<circle cx="370.2" cy="770.1" r="2.8"/>
<circle cx="368.3" cy="771.6" r="2.7"/>
<circle cx="419.3" cy="702.0" r="2.7"/>
<circle cx="422.1" cy="705.6" r="2.4"/>
<circle cx="419.9" cy="706.8" r="2.9"/>
<circle cx="418.5" cy="708.1" r="2.8"/>
<circle cx="422.0" cy="709.3" r="3.2"/>
<circle cx="416.8" cy="707.6" r="2.7"/>
<circle cx="416.9" cy="708.0" r="3.3"/>
<circle cx="420.5" cy="708.8" r="3.1"/>
<circle cx="418.3" cy="710.6" r="2.7"/>
<circle cx="418.5" cy="712.1" r="3.3"/>
<circle cx="419.1" cy="707.9" r="2.6"/>
<circle cx="416.7" cy="712.6" r="2.6"/>
<circle cx="418.2" cy="713.6" r="2.7"/>
<circle cx="415.0" cy="711.6" r="2.9"/>
<circle cx="414.8" cy="716.8" r="3.0"/>
<circle cx="415.0" cy="713.0" r="2.8"/>
<circle cx="415.0" cy="715.9" r="2.8"/>
<circle cx="414.0" cy="715.4" r="3.2"/>
<circle cx="416.8" cy="714.5" r="3.1"/>
<circle cx="413.1" cy="717.5" r="2.6"/>
<circle cx="413.5" cy="713.2" r="2.5"/>
<circle cx="415.1" cy="718.8" r="2.7"/>
<circle cx="412.6" cy="718.9" r="3.2"/>
<circle cx="411.0" cy="723.2" r="2.7"/>
<circle cx="412.3" cy="721.7" r="3.3"/>
<circle cx="409.7" cy="719.7" r="2.5"/>
<circle cx="409.4" cy="721.3" r="3.3"/>
<circle cx="412.3" cy="722.3" r="2.7"/>
<circle cx="413.2" cy="723.1" r="3.3"/>
<circle cx="410.7" cy="724.1" r="3.3"/>
<circle cx="410.1" cy="726.4" r="2.7"/>
<circle cx="406.4" cy="723.0" r="3.3"/>
<circle cx="410.4" cy="724.5" r="3.1"/>
<circle cx="410.7" cy="726.2" r="3.2"/>
<circle cx="408.5" cy="728.2" r="2.9"/>
<circle cx="408.4" cy="729.8" r="3.0"/>
<circle cx="410.8" cy="729.8" r="2.5"/>
<circle cx="406.8" cy="726.8" r="2.5"/>
<circle cx="412.0" cy="731.6" r="3.1"/>
<circle cx="403.5" cy="730.2" r="3.3"/>
<circle cx="407.9" cy="729.1" r="2.6"/>
<circle cx="400.9" cy="730.0" r="3.1"/>
<circle cx="403.6" cy="728.3" r="2.8"/>
<circle cx="401.7" cy="730.5" r="2.6"/>
<circle cx="404.5" cy="732.0" r="2.9"/>
<circle cx="403.0" cy="732.4" r="3.2"/>
<circle cx="402.4" cy="733.8" r="2.8"/>
<circle cx="401.5" cy="733.0" r="2.4"/>
<circle cx="404.8" cy="736.0" r="2.5"/>
<circle cx="402.0" cy="738.2" r="3.2"/>
<circle cx="402.5" cy="735.0" r="2.4"/>
<circle cx="401.3" cy="734.0" r="2.7"/>
<circle cx="402.6" cy="737.1" r="2.6"/>
<circle cx="396.4" cy="735.0" r="2.6"/>
<circle cx="402.3" cy="739.2" r="2.5"/>
<circle cx="399.9" cy="740.3" r="3.3"/>
<circle cx="398.4" cy="740.4" r="2.8"/>
<circle cx="399.5" cy="741.1" r="3.0"/>
<circle cx="396.8" cy="742.9" r="2.6"/>
<circle cx="399.6" cy="742.1" r="2.8"/>
<circle cx="398.0" cy="740.9" r="3.1"/>
<circle cx="396.0" cy="740.4" r="2.5"/>
<circle cx="394.2" cy="740.5" r="2.8"/>
<circle cx="393.4" cy="743.3" r="2.9"/>
<circle cx="394.5" cy="744.0" r="2.8"/>
<circle cx="391.6" cy="742.9" r="3.3"/>
<circle cx="393.1" cy="744.0" r="2.6"/>
<circle cx="392.2" cy="743.1" r="2.6"/>
<circle cx="391.3" cy="739.7" r="2.8"/>
<circle cx="394.9" cy="745.5" r="3.0"/>
<circle cx="393.5" cy="745.9" r="2.7"/>
<circle cx="392.9" cy="747.2" r="2.7"/>
<circle cx="389.1" cy="748.2" r="3.0"/>
<circle cx="393.6" cy="747.3" r="2.4"/>
<circle cx="391.3" cy="749.1" r="2.8"/>
<circle cx="392.5" cy="749.8" r="3.0"/>
<circle cx="391.0" cy="753.2" r="2.8"/>
<circle cx="391.2" cy="750.2" r="3.0"/>
<circle cx="388.0" cy="750.9" r="3.1"/>
<circle cx="390.1" cy="751.9" r="2.7"/>
<circle cx="390.0" cy="751.2" r="2.4"/>
<circle cx="387.4" cy="755.3" r="3.1"/>
<circle cx="390.0" cy="755.6" r="2.8"/>
<circle cx="385.6" cy="754.1" r="2.8"/>
<circle cx="390.8" cy="754.8" r="3.2"/>
<circle cx="386.4" cy="753.0" r="2.5"/>
<circle cx="389.3" cy="756.9" r="3.0"/>
<circle cx="384.9" cy="755.8" r="2.6"/>
<circle cx="387.3" cy="756.5" r="2.4"/>
<circle cx="384.3" cy="759.4" r="2.5"/>
<circle cx="388.3" cy="758.3" r="3.1"/>
<circle cx="386.1" cy="759.4" r="2.5"/>
<circle cx="383.5" cy="757.0" r="3.1"/>
<circle cx="383.8" cy="759.8" r="2.4"/>
<circle cx="385.9" cy="763.0" r="3.1"/>
<circle cx="381.7" cy="761.8" r="3.2"/>
<circle cx="383.6" cy="763.5" r="2.4"/>
<circle cx="383.9" cy="762.9" r="3.1"/>
<circle cx="382.5" cy="761.6" r="3.3"/>
<circle cx="382.0" cy="760.6" r="3.3"/>
<circle cx="383.4" cy="766.4" r="2.6"/>
<circle cx="332.1" cy="683.7" r="3.3"/>
<circle cx="334.8" cy="683.5" r="2.5"/>
<circle cx="334.9" cy="683.3" r="3.0"/>
<circle cx="328.6" cy="683.5" r="2.7"/>
<circle cx="328.9" cy="686.5" r="3.0"/>
<circle cx="333.0" cy="684.2" r="3.2"/>
<circle cx="331.2" cy="683.3" r="2.8"/>
<circle cx="330.3" cy="686.3" r="2.5"/>
<circle cx="330.4" cy="688.3" r="2.4"/>
<circle cx="329.9" cy="684.7" r="3.0"/>
<circle cx="331.2" cy="691.9" r="3.1"/>
<circle cx="328.9" cy="688.3" r="2.9"/>
<circle cx="328.4" cy="691.0" r="2.5"/>
<circle cx="331.4" cy="688.4" r="3.2"/>
<circle cx="330.0" cy="692.8" r="2.9"/>
<circle cx="330.6" cy="692.6" r="2.9"/>
<circle cx="324.1" cy="693.2" r="2.9"/>
<circle cx="326.6" cy="691.2" r="3.1"/>
<circle cx="328.1" cy="694.1" r="3.3"/>
<circle cx="328.1" cy="693.6" r="2.5"/>
<circle cx="328.1" cy="698.4" r="2.5"/>
<circle cx="329.7" cy="696.3" r="2.4"/>
<circle cx="326.9" cy="698.7" r="2.6"/>
<circle cx="328.4" cy="697.4" r="2.6"/>
<circle cx="325.5" cy="699.9" r="2.7"/>
<circle cx="326.2" cy="699.1" r="3.2"/>
<circle cx="326.0" cy="696.9" r="2.4"/>
<circle cx="326.5" cy="704.6" r="2.8"/>
<circle cx="327.0" cy="704.5" r="3.2"/>
<circle cx="327.5" cy="703.2" r="2.9"/>
<circle cx="326.9" cy="703.4" r="3.0"/>
<circle cx="324.0" cy="700.2" r="3.0"/>
<circle cx="324.7" cy="704.1" r="2.4"/>
<circle cx="327.3" cy="700.6" r="3.2"/>
<circle cx="328.1" cy="706.5" r="2.6"/>
<circle cx="324.0" cy="706.7" r="3.2"/>
<circle cx="326.3" cy="702.7" r="2.7"/>
<circle cx="326.0" cy="706.3" r="2.9"/>
<circle cx="323.6" cy="706.3" r="2.7"/>
<circle cx="327.2" cy="710.6" r="2.6"/>
<circle cx="325.1" cy="710.3" r="3.0"/>
<circle cx="322.2" cy="707.8" r="3.2"/>
<circle cx="323.7" cy="709.0" r="2.9"/>
<circle cx="324.3" cy="712.5" r="2.5"/>
<circle cx="325.1" cy="712.7" r="3.2"/>
<circle cx="322.7" cy="711.7" r="2.6"/>
<circle cx="320.9" cy="711.8" r="2.4"/>
<circle cx="325.2" cy="715.4" r="2.9"/>
<circle cx="325.9" cy="716.3" r="2.6"/>
<circle cx="320.4" cy="713.9" r="2.7"/>
<circle cx="324.5" cy="715.2" r="2.8"/>
<circle cx="318.4" cy="715.6" r="3.3"/>
<circle cx="322.5" cy="714.7" r="3.0"/>
<circle cx="318.6" cy="713.9" r="3.3"/>
<circle cx="322.0" cy="717.3" r="2.9"/>
<circle cx="320.4" cy="720.0" r="3.1"/>
<circle cx="322.4" cy="723.4" r="2.8"/>
<circle cx="318.8" cy="722.3" r="3.1"/>
<circle cx="329.4" cy="721.1" r="3.1"/>
<circle cx="321.3" cy="725.4" r="2.8"/>
<circle cx="323.6" cy="722.2" r="2.7"/>
<circle cx="323.8" cy="724.1" r="2.9"/>
<circle cx="321.0" cy="725.4" r="2.8"/>
<circle cx="322.5" cy="725.7" r="2.8"/>
<circle cx="319.8" cy="727.9" r="2.9"/>
<circle cx="320.3" cy="727.3" r="2.4"/>
<circle cx="315.9" cy="725.3" r="2.7"/>
<circle cx="319.9" cy="729.5" r="3.1"/>
<circle cx="317.2" cy="728.9" r="2.4"/>
<circle cx="321.8" cy="730.5" r="2.7"/>
<circle cx="319.1" cy="731.4" r="3.3"/>
<circle cx="318.2" cy="731.9" r="3.3"/>
<circle cx="318.9" cy="729.4" r="3.1"/>
<circle cx="320.3" cy="732.8" r="3.3"/>
<circle cx="317.8" cy="732.4" r="2.5"/>
<circle cx="320.4" cy="731.7" r="3.0"/>
<circle cx="319.4" cy="739.0" r="2.7"/>
<circle cx="319.6" cy="739.5" r="2.6"/>
<circle cx="319.9" cy="738.3" r="3.3"/>
<circle cx="321.2" cy="737.5" r="3.1"/>
<circle cx="322.0" cy="738.3" r="3.1"/>
<circle cx="319.1" cy="734.4" r="2.5"/>
<circle cx="321.6" cy="737.5" r="3.1"/>
<circle cx="315.8" cy="740.2" r="2.8"/>
<circle cx="320.2" cy="741.4" r="2.8"/>
<circle cx="321.5" cy="741.3" r="3.2"/>
<circle cx="316.7" cy="739.7" r="2.5"/>
<circle cx="318.1" cy="742.6" r="2.5"/>
<circle cx="320.2" cy="747.8" r="3.1"/>
<circle cx="317.8" cy="743.6" r="3.2"/>
<circle cx="323.4" cy="743.7" r="2.4"/>
<circle cx="321.7" cy="744.3" r="2.6"/>
<circle cx="322.5" cy="747.8" r="2.9"/>
<circle cx="318.7" cy="747.2" r="2.5"/>
<circle cx="320.5" cy="744.8" r="2.7"/>
<circle cx="323.6" cy="743.8" r="3.2"/>
<circle cx="322.0" cy="748.7" r="2.7"/>
<circle cx="319.7" cy="750.0" r="3.1"/>
<circle cx="322.3" cy="749.6" r="2.9"/>
<circle cx="325.7" cy="750.1" r="2.8"/>
<circle cx="323.4" cy="753.1" r="2.9"/>
<circle cx="321.9" cy="751.1" r="2.7"/>
<circle cx="322.0" cy="753.1" r="2.9"/>
<circle cx="324.7" cy="755.8" r="2.8"/>
<circle cx="323.2" cy="753.9" r="3.2"/>
<circle cx="322.0" cy="755.9" r="2.5"/>
<circle cx="323.8" cy="757.0" r="3.3"/>
<circle cx="320.2" cy="759.3" r="2.4"/>
<circle cx="319.8" cy="757.1" r="2.5"/>
<circle cx="320.6" cy="756.9" r="2.7"/>
<circle cx="324.4" cy="755.9" r="2.5"/>
<circle cx="323.6" cy="759.8" r="2.6"/>
<circle cx="319.6" cy="755.9" r="3.3"/>
<circle cx="324.1" cy="760.0" r="3.1"/>
<circle cx="323.8" cy="759.1" r="3.3"/>
<circle cx="323.0" cy="761.5" r="2.6"/>
<circle cx="326.0" cy="764.9" r="3.0"/>
<circle cx="324.4" cy="763.3" r="2.4"/>
<circle cx="326.1" cy="763.9" r="2.6"/>
<circle cx="325.3" cy="764.1" r="3.1"/>
<circle cx="327.0" cy="763.9" r="2.9"/>
<circle cx="327.9" cy="766.3" r="3.0"/>
<circle cx="325.6" cy="764.4" r="2.5"/>
<circle cx="326.0" cy="770.6" r="2.5"/>
<circle cx="326.9" cy="769.3" r="3.1"/>
<circle cx="324.0" cy="768.4" r="3.3"/>
<circle cx="324.7" cy="768.9" r="2.9"/>
<circle cx="327.5" cy="768.7" r="2.8"/>
<circle cx="321.0" cy="768.1" r="3.0"/>
<circle cx="336.0" cy="711.3" r="2.7"/>
<circle cx="331.9" cy="710.2" r="2.4"/>
<circle cx="333.0" cy="710.3" r="2.9"/>
<circle cx="335.4" cy="709.1" r="3.0"/>
<circle cx="333.9" cy="713.1" r="2.9"/>
<circle cx="332.8" cy="712.1" r="3.1"/>
<circle cx="332.1" cy="713.1" r="2.6"/>
<circle cx="335.8" cy="710.3" r="3.2"/>
<circle cx="333.5" cy="715.2" r="3.0"/>
<circle cx="337.0" cy="715.7" r="3.0"/>
<circle cx="332.1" cy="717.6" r="3.0"/>
<circle cx="333.9" cy="718.0" r="3.1"/>
<circle cx="331.7" cy="714.9" r="2.5"/>
<circle cx="332.9" cy="719.3" r="2.4"/>
<circle cx="330.8" cy="716.7" r="3.2"/>
<circle cx="328.3" cy="717.8" r="2.8"/>
<circle cx="330.5" cy="719.8" r="2.8"/>
<circle cx="333.9" cy="719.8" r="2.4"/>
<circle cx="330.9" cy="722.3" r="3.0"/>
<circle cx="329.4" cy="721.9" r="3.2"/>
<circle cx="331.5" cy="721.9" r="2.4"/>
<circle cx="330.6" cy="721.0" r="3.0"/>
<circle cx="330.8" cy="724.2" r="2.8"/>
<circle cx="332.6" cy="722.7" r="2.4"/>
<circle cx="334.1" cy="728.5" r="2.9"/>
<circle cx="332.7" cy="728.9" r="3.2"/>
<circle cx="332.9" cy="725.0" r="3.1"/>
<circle cx="332.8" cy="728.9" r="3.1"/>
<circle cx="330.4" cy="729.4" r="3.2"/>
<circle cx="330.8" cy="729.0" r="2.5"/>
<circle cx="326.5" cy="728.3" r="3.0"/>
<circle cx="331.4" cy="730.0" r="2.9"/>
<circle cx="331.4" cy="732.9" r="2.5"/>
<circle cx="330.1" cy="732.2" r="3.0"/>
<circle cx="328.1" cy="729.5" r="3.1"/>
<circle cx="333.9" cy="735.3" r="2.9"/>
<circle cx="332.5" cy="733.4" r="2.5"/>
<circle cx="330.1" cy="733.8" r="3.3"/>
<circle cx="326.4" cy="734.7" r="2.8"/>
<circle cx="329.0" cy="738.9" r="3.0"/>
<circle cx="328.8" cy="737.5" r="2.8"/>
<circle cx="329.9" cy="736.5" r="2.5"/>
<circle cx="327.4" cy="738.8" r="2.5"/>
<circle cx="329.4" cy="744.3" r="2.6"/>
<circle cx="330.2" cy="738.4" r="2.5"/>
<circle cx="326.3" cy="741.0" r="3.1"/>
<circle cx="332.9" cy="742.3" r="3.0"/>
<circle cx="327.4" cy="742.4" r="2.9"/>
<circle cx="331.4" cy="745.5" r="2.5"/>
<circle cx="329.0" cy="747.0" r="2.9"/>
<circle cx="327.4" cy="744.0" r="2.8"/>
<circle cx="328.7" cy="746.6" r="2.4"/>
<circle cx="330.2" cy="746.1" r="3.3"/>
<circle cx="332.9" cy="744.9" r="2.5"/>
<circle cx="331.6" cy="745.9" r="3.1"/>
<circle cx="329.2" cy="745.7" r="3.1"/>
<circle cx="330.4" cy="752.1" r="2.9"/>
<circle cx="331.0" cy="745.6" r="2.6"/>
<circle cx="329.4" cy="750.9" r="2.5"/>
<circle cx="333.0" cy="748.6" r="2.8"/>
<circle cx="327.3" cy="750.2" r="2.5"/>
<circle cx="329.3" cy="754.3" r="2.9"/>
<circle cx="329.7" cy="752.8" r="2.6"/>
<circle cx="330.4" cy="751.9" r="3.2"/>
<circle cx="335.3" cy="751.3" r="2.6"/>
<circle cx="330.4" cy="754.8" r="2.7"/>
<circle cx="333.4" cy="756.6" r="3.3"/>
<circle cx="331.6" cy="754.5" r="2.6"/>
<circle cx="332.1" cy="756.7" r="3.2"/>
<circle cx="332.1" cy="757.1" r="3.3"/>
<circle cx="330.7" cy="756.9" r="2.8"/>
<circle cx="330.2" cy="757.6" r="3.2"/>
<circle cx="333.5" cy="758.7" r="2.4"/>
<circle cx="332.8" cy="757.7" r="3.0"/>
<circle cx="333.1" cy="761.4" r="3.2"/>
<circle cx="331.2" cy="763.4" r="3.3"/>
<circle cx="333.7" cy="765.0" r="2.5"/>
<circle cx="330.1" cy="762.0" r="2.5"/>
<circle cx="333.4" cy="758.9" r="3.1"/>
<circle cx="334.4" cy="760.1" r="3.0"/>
<circle cx="330.0" cy="764.1" r="3.1"/>
<circle cx="331.6" cy="763.8" r="2.6"/>
<circle cx="332.8" cy="768.0" r="3.2"/>
<circle cx="334.2" cy="765.7" r="3.3"/>
<circle cx="334.7" cy="768.2" r="2.7"/>
<circle cx="338.3" cy="770.7" r="2.7"/>
<circle cx="331.5" cy="771.7" r="2.9"/>
<circle cx="333.1" cy="768.5" r="2.8"/>
<circle cx="336.2" cy="770.2" r="2.9"/>
<circle cx="333.8" cy="771.5" r="2.5"/>
<circle cx="331.6" cy="771.9" r="2.8"/>
<circle cx="285.8" cy="641.4" r="2.5"/>
<circle cx="281.9" cy="640.0" r="3.0"/>
<circle cx="282.5" cy="642.5" r="2.8"/>
<circle cx="281.8" cy="639.8" r="2.8"/>
<circle cx="279.8" cy="644.3" r="2.7"/>
<circle cx="283.4" cy="643.2" r="2.5"/>
<circle cx="280.4" cy="643.9" r="3.0"/>
<circle cx="285.5" cy="646.0" r="2.7"/>
<circle cx="284.2" cy="645.3" r="2.8"/>
<circle cx="281.7" cy="649.2" r="2.7"/>
<circle cx="281.9" cy="645.8" r="3.0"/>
<circle cx="282.5" cy="650.7" r="2.9"/>
<circle cx="282.7" cy="646.3" r="2.8"/>
<circle cx="284.4" cy="650.6" r="2.5"/>
<circle cx="284.1" cy="652.1" r="3.0"/>
<circle cx="281.2" cy="655.5" r="2.6"/>
<circle cx="283.8" cy="653.8" r="2.5"/>
<circle cx="282.7" cy="650.7" r="2.6"/>
<circle cx="285.1" cy="651.1" r="2.8"/>
<circle cx="281.6" cy="652.9" r="2.8"/>
<circle cx="285.7" cy="656.6" r="3.3"/>
<circle cx="282.0" cy="658.5" r="2.5"/>
<circle cx="284.9" cy="653.0" r="2.7"/>
<circle cx="282.6" cy="659.7" r="2.6"/>
<circle cx="284.7" cy="659.7" r="3.0"/>
<circle cx="279.2" cy="659.2" r="3.3"/>
<circle cx="288.1" cy="656.7" r="3.2"/>
<circle cx="285.7" cy="661.2" r="3.3"/>
<circle cx="286.7" cy="659.7" r="3.0"/>
<circle cx="282.5" cy="663.4" r="2.5"/>
<circle cx="282.8" cy="662.8" r="2.5"/>
<circle cx="286.1" cy="662.1" r="3.2"/>
<circle cx="283.3" cy="667.5" r="2.6"/>
<circle cx="284.6" cy="664.4" r="3.0"/>
<circle cx="282.0" cy="665.8" r="2.5"/>
<circle cx="281.1" cy="667.4" r="3.1"/>
<circle cx="283.9" cy="669.3" r="2.7"/>
<circle cx="283.8" cy="667.3" r="3.0"/>
<circle cx="284.0" cy="669.7" r="3.0"/>
<circle cx="282.0" cy="670.3" r="2.8"/>
<circle cx="284.8" cy="670.3" r="2.9"/>
<circle cx="280.5" cy="673.0" r="2.4"/>
<circle cx="284.6" cy="670.8" r="2.7"/>
<circle cx="282.1" cy="674.7" r="3.2"/>
<circle cx="273.1" cy="670.3" r="2.9"/>
<circle cx="270.9" cy="672.2" r="2.4"/>
<circle cx="272.3" cy="672.1" r="2.9"/>
<circle cx="273.1" cy="674.0" r="2.5"/>
<circle cx="271.2" cy="672.3" r="3.3"/>
<circle cx="271.7" cy="673.2" r="2.4"/>
<circle cx="275.7" cy="675.4" r="3.2"/>
<circle cx="277.4" cy="677.7" r="2.8"/>
<circle cx="274.2" cy="679.4" r="2.5"/>
<circle cx="272.7" cy="677.3" r="3.0"/>
<circle cx="275.7" cy="681.5" r="3.0"/>
<circle cx="273.2" cy="674.3" r="2.7"/>
<circle cx="273.8" cy="678.1" r="3.2"/>
<circle cx="276.5" cy="677.5" r="2.9"/>
<circle cx="274.8" cy="685.9" r="3.3"/>
<circle cx="277.1" cy="681.4" r="3.1"/>
<circle cx="273.8" cy="679.0" r="3.1"/>
<circle cx="273.8" cy="683.9" r="3.1"/>
<circle cx="274.5" cy="681.8" r="3.2"/>
<circle cx="276.7" cy="684.7" r="2.8"/>
<circle cx="280.1" cy="687.5" r="2.5"/>
<circle cx="278.3" cy="684.8" r="2.5"/>
<circle cx="277.7" cy="683.2" r="2.8"/>
<circle cx="275.9" cy="685.4" r="3.3"/>
<circle cx="275.9" cy="687.4" r="2.8"/>
<circle cx="276.1" cy="689.8" r="2.5"/>
<circle cx="277.6" cy="684.2" r="3.1"/>
<circle cx="277.8" cy="688.8" r="2.5"/>
<circle cx="282.3" cy="691.3" r="3.2"/>
<circle cx="281.4" cy="689.5" r="3.1"/>
<circle cx="281.8" cy="688.8" r="3.2"/>
<circle cx="282.1" cy="693.4" r="2.9"/>
<circle cx="281.4" cy="690.0" r="2.7"/>
<circle cx="283.6" cy="691.3" r="2.8"/>
<circle cx="283.0" cy="695.8" r="3.0"/>
<circle cx="281.0" cy="696.4" r="2.8"/>
<circle cx="289.0" cy="694.8" r="2.7"/>
<circle cx="279.2" cy="693.2" r="2.6"/>
<circle cx="286.2" cy="695.6" r="2.5"/>
<circle cx="287.1" cy="693.4" r="2.4"/>
<circle cx="285.9" cy="698.3" r="2.6"/>
<circle cx="285.3" cy="700.4" r="2.8"/>
<circle cx="287.8" cy="699.3" r="2.5"/>
<circle cx="285.1" cy="696.5" r="2.5"/>
<circle cx="287.1" cy="696.7" r="3.1"/>
<circle cx="286.0" cy="694.5" r="2.9"/>
<circle cx="290.6" cy="699.2" r="3.0"/>
<circle cx="291.0" cy="697.6" r="2.8"/>
<circle cx="290.9" cy="701.0" r="3.2"/>
<circle cx="288.8" cy="697.7" r="3.1"/>
<circle cx="281.6" cy="677.3" r="2.7"/>
<circle cx="280.2" cy="676.1" r="3.0"/>
<circle cx="284.0" cy="679.4" r="2.5"/>
<circle cx="281.4" cy="680.4" r="3.3"/>
<circle cx="280.1" cy="681.2" r="2.4"/>
<circle cx="284.2" cy="678.6" r="2.4"/>
<circle cx="283.4" cy="678.7" r="3.1"/>
<circle cx="284.4" cy="680.5" r="2.7"/>
<circle cx="285.3" cy="682.2" r="2.7"/>
<circle cx="283.8" cy="680.1" r="3.3"/>
<circle cx="284.7" cy="682.0" r="3.2"/>
<circle cx="286.1" cy="682.3" r="2.9"/>
<circle cx="285.3" cy="685.7" r="2.6"/>
<circle cx="285.6" cy="687.4" r="2.7"/>
<circle cx="285.2" cy="683.8" r="3.1"/>
</g>
<g fill="none" stroke="#0c0c0c" stroke-width="1" stroke-linecap="round" stroke-linejoin="round">
<path d="M295.3 586.6 Q296.5 591.5 301 594 Q305 596 308 595 L310.7 593" stroke-width="1.2"/>
<path d="M334.8 599.2 Q333.6 602.3 335.6 603.6 L338.5 603.2 L341 604.6 L344.5 604.2 M356 606.6 L361 607.6 L367 608.3" stroke-width="1"/>
<path d="M392.8 607.2 l.5 1.6 l2.4 -.3 l2.6 -.4 l3 .4 l3.4 -.6 l3 .2 l3.5 -.5 l4 -.1 l4.5 -.6 l4 -.1 l4.2 -.7 l3.8 -.1 l3.6 -.6 l2.6 -.2" stroke-width="1.5" stroke-dasharray="2.6 1.1" stroke-linecap="butt"/>
<path d="M439.6 600.4 l2.4 2.4 l.4 -2.6" stroke-width="1.1"/>
<path d="M279.9 657 l1.8 -.5 l1.6 .8 l1.8 -.8 l1.8 .9 l1.6 .5" stroke-width="1.5"/>
<path d="M349.5 657.3 h5.6 M357.2 657.3 h4.6 M364.8 657.7 h15.6 M417.5 657.4 h24" stroke-width="1.7" stroke-dasharray="2.4 .9" stroke-linecap="butt"/>
<path d="M338.8 727 L339.2 721.8 L341.2 718.8 L343.6 714.6 M349.6 725 L350.6 719.4 L352.4 713.2" stroke-width="1.7"/>
<path d="M343.6 714.6 l1.6 -.9 l1.4 .5 l1.6 -.8 l1.6 .4 l1.4 -1 l1.2 .4" stroke-width="1"/>
<path d="M316 731.8 Q316.4 736.4 319.6 737.2 L322 737 M324.6 737.2 l2.4 .9 l2.6 -.4 l1.6 1.6 l2 .4" stroke-width="1.1"/>
<path d="M373.8 721.4 Q373.2 716.6 376.4 714.2 L380.4 711.4 L381.9 709.8 L382.8 711.6 Q380.6 715 380.9 719.2 L378 722 Z" fill="#8a8a8a" fill-opacity=".35"/>
<path d="M372.6 764 l-.9 2.6 l1.1 2 l-.9 3" stroke-width="1.1"/>
</g>
</defs>
<rect x="40" y="20" width="160" height="211" fill="#fff"/>
<path d="M65.00 20V231 M92.50 20V231 M120.00 20V231 M147.50 20V231 M175.00 20V231 M40 25.86H200 M40 37.58H200 M40 49.31H200 M40 61.03H200 M40 72.75H200 M40 84.47H200 M40 96.19H200 M40 107.92H200 M40 119.64H200 M40 131.36H200 M40 143.08H200 M40 154.81H200 M40 166.53H200 M40 178.25H200 M40 189.97H200 M40 201.69H200 M40 213.42H200 M40 225.14H200" stroke="#DCDCDC" stroke-width="0.6" fill="none"/>
<rect x="40.00" y="20.00" width="160.00" height="11.72" fill="#FF1A1A"/>
<rect x="67.59" y="31.72" width="16.55" height="11.72" fill="#1A1AFF"/>
<rect x="40.00" y="43.44" width="160.00" height="11.72" fill="#FF1A1A"/>
<rect x="40.00" y="55.17" width="5.52" height="11.72" fill="#FF1A1A"/>
<rect x="73.10" y="55.17" width="5.52" height="11.72" fill="#FF1A1A"/>
<rect x="84.14" y="55.17" width="55.17" height="11.72" fill="#FF1A1A"/>
<rect x="150.34" y="55.17" width="11.03" height="11.72" fill="#FF1A1A"/>
<rect x="166.90" y="55.17" width="5.52" height="11.72" fill="#FF1A1A"/>
<rect x="188.97" y="55.17" width="11.03" height="11.72" fill="#FF1A1A"/>
<rect x="40.00" y="66.89" width="49.66" height="11.72" fill="#FF1A1A"/>
<rect x="150.34" y="66.89" width="16.55" height="11.72" fill="#FF1A1A"/>
<rect x="177.93" y="66.89" width="5.52" height="11.72" fill="#FF1A1A"/>
<rect x="188.97" y="66.89" width="11.03" height="11.72" fill="#FF1A1A"/>
<rect x="40.00" y="78.61" width="160.00" height="11.72" fill="#FF1A1A"/>
<rect x="40.00" y="90.33" width="160.00" height="11.72" fill="#1A1AFF"/>
<rect x="40.00" y="102.06" width="160.00" height="11.72" fill="#1A1AFF"/>
<rect x="166.90" y="113.78" width="16.55" height="11.72" fill="#1A1AFF"/>
<rect x="40.00" y="137.22" width="160.00" height="11.72" fill="#FF1A1A"/>
<rect x="40.00" y="148.94" width="160.00" height="11.72" fill="#1A1AFF"/>
<rect x="84.14" y="160.67" width="11.03" height="11.72" fill="#1A1AFF"/>
<rect x="100.69" y="172.39" width="5.52" height="11.72" fill="#1A1AFF"/>
<rect x="111.72" y="172.39" width="5.52" height="11.72" fill="#1A1AFF"/>
<rect x="45.52" y="184.11" width="5.52" height="11.72" fill="#1A1AFF"/>
<rect x="62.07" y="184.11" width="16.55" height="11.72" fill="#1A1AFF"/>
<rect x="117.24" y="184.11" width="5.52" height="11.72" fill="#1A1AFF"/>
<rect x="133.79" y="184.11" width="5.52" height="11.72" fill="#1A1AFF"/>
<rect x="45.52" y="195.83" width="5.52" height="11.72" fill="#1A1AFF"/>
<rect x="106.21" y="195.83" width="22.07" height="11.72" fill="#1A1AFF"/>
<rect x="67.59" y="207.56" width="5.52" height="11.72" fill="#1A1AFF"/>
<rect x="84.14" y="207.56" width="55.17" height="11.72" fill="#1A1AFF"/>
<rect x="177.93" y="219.28" width="5.52" height="11.72" fill="#FF1A1A"/>
<path d="M40 25.86h2 M200 25.86h-2 M40 37.58h2 M200 37.58h-2 M40 49.31h2 M200 49.31h-2 M40 61.03h2 M200 61.03h-2 M40 72.75h2 M200 72.75h-2 M40 84.47h2 M200 84.47h-2 M40 96.19h2 M200 96.19h-2 M40 107.92h2 M200 107.92h-2 M40 119.64h2 M200 119.64h-2 M40 131.36h2 M200 131.36h-2 M40 143.08h2 M200 143.08h-2 M40 154.81h2 M200 154.81h-2 M40 166.53h2 M200 166.53h-2 M40 178.25h2 M200 178.25h-2 M40 189.97h2 M200 189.97h-2 M40 201.69h2 M200 201.69h-2 M40 213.42h2 M200 213.42h-2 M40 225.14h2 M200 225.14h-2 M65.00 231v-2 M65.00 20v2 M92.50 231v-2 M92.50 20v2 M120.00 231v-2 M120.00 20v2 M147.50 231v-2 M147.50 20v2 M175.00 231v-2 M175.00 20v2" stroke="#3A3A3A" stroke-width="0.6" fill="none"/>
<rect x="40" y="20" width="160" height="211" fill="none" stroke="#3A3A3A" stroke-width="0.8"/>
<text x="35.0" y="29.5" font-size="10" text-anchor="end" fill="#262626">TP</text>
<text x="35.0" y="41.2" font-size="10" text-anchor="end" fill="#262626">aSTG</text>
<text x="35.0" y="52.9" font-size="10" text-anchor="end" fill="#262626">aMTG</text>
<text x="35.0" y="64.6" font-size="10" text-anchor="end" fill="#262626">aITG</text>
<text x="35.0" y="76.3" font-size="10" text-anchor="end" fill="#262626">aFG</text>
<text x="35.0" y="88.1" font-size="10" text-anchor="end" fill="#262626">aPHG</text>
<text x="35.0" y="99.8" font-size="10" text-anchor="end" fill="#262626">pSTG</text>
<text x="35.0" y="111.5" font-size="10" text-anchor="end" fill="#262626">pMTG</text>
<text x="35.0" y="123.2" font-size="10" text-anchor="end" fill="#262626">pITG</text>
<text x="35.0" y="135.0" font-size="10" text-anchor="end" fill="#262626">pFG</text>
<text x="35.0" y="146.7" font-size="10" text-anchor="end" fill="#262626">pPHG</text>
<text x="35.0" y="158.4" font-size="10" text-anchor="end" fill="#262626">SMG</text>
<text x="35.0" y="170.1" font-size="10" text-anchor="end" fill="#262626">preCG</text>
<text x="35.0" y="181.8" font-size="10" text-anchor="end" fill="#262626">postCG</text>
<text x="35.0" y="193.6" font-size="10" text-anchor="end" fill="#262626">MFG</text>
<text x="35.0" y="205.3" font-size="10" text-anchor="end" fill="#262626">Op</text>
<text x="35.0" y="217.0" font-size="10" text-anchor="end" fill="#262626">Tri</text>
<text x="35.0" y="228.7" font-size="10" text-anchor="end" fill="#262626">Orb</text>
<text x="46.5" y="14.2" font-size="12" textLength="142.5" lengthAdjust="spacing" fill="#262626">Significance of Phase Sign</text>
<text x="0.3" y="11.4" font-size="17" fill="#262626">a</text>
<text x="61.0" y="245.0" font-size="10" text-anchor="middle" fill="#262626">0</text>
<text x="91.5" y="245.0" font-size="10" text-anchor="middle" fill="#262626">0.5</text>
<text x="116.0" y="245.0" font-size="10" text-anchor="middle" fill="#262626">1</text>
<text x="147.5" y="245.0" font-size="10" text-anchor="middle" fill="#262626">1.5</text>
<text x="171.0" y="245.0" font-size="10" text-anchor="middle" fill="#262626">2</text>
<text x="60.5" y="257.3" font-size="10.5" textLength="119.0" lengthAdjust="spacing" fill="#262626">Time from stim. onset  (s)</text>
<rect x="156" y="166" width="36.8" height="48.5" fill="#FAFAFA"/>
<text x="175.0" y="173.4" font-size="7.5" text-anchor="middle" fill="#262626">Sign</text>
<text x="173.6" y="180.8" font-size="7.3" text-anchor="middle" fill="#262626">0</text>
<text x="156.6" y="186.8" font-size="7.4" fill="#262626">Del.</text>
<text x="178.2" y="186.8" font-size="7.4" fill="#262626">Adv.</text>
<path d="M173.6 181 V187.5" stroke="#222" stroke-width="0.7"/>
<path d="M173.5 186.8 A12.2 12.2 0 0 1 173.5 211.2 Z" fill="#FF1A1A"/>
<path d="M173.5 186.8 A12.2 12.2 0 0 0 173.5 211.2 Z" fill="#1A1AFF"/>
<circle cx="173.5" cy="199.0" r="12.2" fill="none" stroke="#1a1a1a" stroke-width="0.8"/>
<path d="M173.5 186.8 V211.2" stroke="#1a1a1a" stroke-width="0.6"/>
<circle cx="173.5" cy="199.0" r="4.8" fill="#fff"/>
<path d="M89 20 L86.6 231" stroke="#42ABE6" stroke-width="1.6" fill="none"/>
<path d="M88.2 125 Q160 89 250.5 79.5 M239.5 75.2 L250.5 79.5 L240.5 84.3" stroke="#42ABE6" stroke-width="1.3" fill="none" stroke-linecap="round" stroke-linejoin="round"/>
<rect x="40" y="291.5" width="160" height="211" fill="#4D4D4D"/>
<rect x="40.00" y="385.28" width="22.07" height="11.72" fill="#fff"/>
<rect x="139.31" y="385.28" width="5.52" height="11.72" fill="#fff"/>
<rect x="155.86" y="385.28" width="16.55" height="11.72" fill="#fff"/>
<rect x="40.00" y="420.44" width="160.00" height="11.72" fill="#fff"/>
<path d="M40.00 391.14h22.07" stroke="#DCDCDC" stroke-width="0.6"/>
<path d="M139.31 391.14h5.52" stroke="#DCDCDC" stroke-width="0.6"/>
<path d="M155.86 391.14h16.55" stroke="#DCDCDC" stroke-width="0.6"/>
<path d="M40.00 426.31h160.00" stroke="#DCDCDC" stroke-width="0.6"/>
<path d="M65.00 420.44v11.72" stroke="#DCDCDC" stroke-width="0.6"/>
<path d="M92.50 420.44v11.72" stroke="#DCDCDC" stroke-width="0.6"/>
<path d="M120.00 420.44v11.72" stroke="#DCDCDC" stroke-width="0.6"/>
<path d="M147.50 420.44v11.72" stroke="#DCDCDC" stroke-width="0.6"/>
<path d="M175.00 420.44v11.72" stroke="#DCDCDC" stroke-width="0.6"/>
<path d="M40 297.36h2 M200 297.36h-2 M40 309.08h2 M200 309.08h-2 M40 320.81h2 M200 320.81h-2 M40 332.53h2 M200 332.53h-2 M40 344.25h2 M200 344.25h-2 M40 355.97h2 M200 355.97h-2 M40 367.69h2 M200 367.69h-2 M40 379.42h2 M200 379.42h-2 M40 391.14h2 M200 391.14h-2 M40 402.86h2 M200 402.86h-2 M40 414.58h2 M200 414.58h-2 M40 426.31h2 M200 426.31h-2 M40 438.03h2 M200 438.03h-2 M40 449.75h2 M200 449.75h-2 M40 461.47h2 M200 461.47h-2 M40 473.19h2 M200 473.19h-2 M40 484.92h2 M200 484.92h-2 M40 496.64h2 M200 496.64h-2 M65.00 502.5v-2 M65.00 291.5v2 M92.50 502.5v-2 M92.50 291.5v2 M120.00 502.5v-2 M120.00 291.5v2 M147.50 502.5v-2 M147.50 291.5v2 M175.00 502.5v-2 M175.00 291.5v2" stroke="#3A3A3A" stroke-width="0.6" fill="none"/>
<rect x="40" y="291.5" width="160" height="211" fill="none" stroke="#3A3A3A" stroke-width="0.8"/>
<text x="35.0" y="301.0" font-size="10" text-anchor="end" fill="#262626">TP</text>
<text x="35.0" y="312.7" font-size="10" text-anchor="end" fill="#262626">aSTG</text>
<text x="35.0" y="324.4" font-size="10" text-anchor="end" fill="#262626">aMTG</text>
<text x="35.0" y="336.1" font-size="10" text-anchor="end" fill="#262626">aITG</text>
<text x="35.0" y="347.9" font-size="10" text-anchor="end" fill="#262626">aFG</text>
<text x="35.0" y="359.6" font-size="10" text-anchor="end" fill="#262626">aPHG</text>
<text x="35.0" y="371.3" font-size="10" text-anchor="end" fill="#262626">pSTG</text>
<text x="35.0" y="383.0" font-size="10" text-anchor="end" fill="#262626">pMTG</text>
<text x="35.0" y="394.7" font-size="10" text-anchor="end" fill="#262626">pITG</text>
<text x="35.0" y="406.5" font-size="10" text-anchor="end" fill="#262626">pFG</text>
<text x="35.0" y="418.2" font-size="10" text-anchor="end" fill="#262626">pPHG</text>
<text x="35.0" y="429.9" font-size="10" text-anchor="end" fill="#262626">SMG</text>
<text x="35.0" y="441.6" font-size="10" text-anchor="end" fill="#262626">preCG</text>
<text x="35.0" y="453.4" font-size="10" text-anchor="end" fill="#262626">postCG</text>
<text x="35.0" y="465.1" font-size="10" text-anchor="end" fill="#262626">MFG</text>
<text x="35.0" y="476.8" font-size="10" text-anchor="end" fill="#262626">Op</text>
<text x="35.0" y="488.5" font-size="10" text-anchor="end" fill="#262626">Tri</text>
<text x="35.0" y="500.2" font-size="10" text-anchor="end" fill="#262626">Orb</text>
<text x="40.0" y="283.3" font-size="12" textLength="158.0" lengthAdjust="spacing" fill="#262626">Significance of Phase Polarity</text>
<text x="0.3" y="277.6" font-size="17" fill="#262626">b</text>
<text x="61.0" y="516.0" font-size="10" text-anchor="middle" fill="#262626">0</text>
<text x="91.5" y="516.0" font-size="10" text-anchor="middle" fill="#262626">0.5</text>
<text x="116.0" y="516.0" font-size="10" text-anchor="middle" fill="#262626">1</text>
<text x="147.5" y="516.0" font-size="10" text-anchor="middle" fill="#262626">1.5</text>
<text x="171.4" y="516.0" font-size="10" text-anchor="middle" fill="#262626">2</text>
<text x="53.0" y="527.7" font-size="10.5" textLength="120.0" lengthAdjust="spacing" fill="#262626">Time from stim. onset  (s)</text>
<rect x="155.2" y="442" width="37.8" height="49" fill="#FAFAFA"/>
<text x="172.9" y="450.7" font-size="7.3" text-anchor="middle" fill="#262626">Polarity</text>
<text x="170.7" y="458.4" font-size="7.3" text-anchor="middle" fill="#262626">0</text>
<text x="180.3" y="465.5" font-size="7.3" fill="#262626">In</text>
<text x="179.3" y="488.1" font-size="7.3" fill="#262626">Out</text>
<path d="M158.20000000000002 476.1 A12.1 12.1 0 0 1 182.4 476.1 Z" fill="#555"/>
<path d="M158.20000000000002 476.1 A12.1 12.1 0 0 0 182.4 476.1 Z" fill="#B3B3B3"/>
<circle cx="170.3" cy="476.1" r="12.1" fill="none" stroke="#2a1a1a" stroke-width="0.8"/>
<circle cx="170.3" cy="476.1" r="4.75" fill="#fff"/>
<path d="M170.3 458.6 V471.35" stroke="#2a1a1a" stroke-width="0.7"/>
<path d="M86.6 291.5 L84 502.5" stroke="#42ABE6" stroke-width="1.6" fill="none"/>
<rect x="40.5" y="556" width="160" height="211" fill="#fff"/>
<path d="M59 556V767 M89.5 556V767 M120.5 556V767 M152 556V767 M182.5 556V767 M40.5 564.60H200.5 M40.5 576.02H200.5 M40.5 587.44H200.5 M40.5 598.86H200.5 M40.5 610.28H200.5 M40.5 621.70H200.5 M40.5 633.12H200.5 M40.5 644.54H200.5 M40.5 655.96H200.5 M40.5 667.38H200.5 M40.5 678.80H200.5 M40.5 690.22H200.5 M40.5 701.64H200.5 M40.5 713.06H200.5 M40.5 724.48H200.5 M40.5 735.90H200.5 M40.5 747.32H200.5 M40.5 758.74H200.5" stroke="#DCDCDC" stroke-width="0.6" fill="none"/>
<path d="M120.5 556V767" stroke="#262626" stroke-width="0.8"/>
<rect x="120.90" y="560.80" width="49.70" height="7.6" fill="url(#hr)" stroke="#111" stroke-width="1.05"/>
<text x="35.0" y="568.2" font-size="10" text-anchor="end" fill="#262626">aMTG</text>
<rect x="120.90" y="572.22" width="44.45" height="7.6" fill="url(#hr)" stroke="#111" stroke-width="1.05"/>
<text x="35.0" y="579.6" font-size="10" text-anchor="end" fill="#262626">aITG</text>
<rect x="120.90" y="583.64" width="17.45" height="7.6" fill="url(#hr)" stroke="#111" stroke-width="1.05"/>
<text x="35.0" y="591.0" font-size="10" text-anchor="end" fill="#262626">pPHG</text>
<rect x="120.90" y="595.06" width="14.95" height="7.6" fill="url(#hr)" stroke="#111" stroke-width="1.05"/>
<text x="35.0" y="602.5" font-size="10" text-anchor="end" fill="#262626">aFG</text>
<rect x="120.90" y="606.48" width="11.95" height="7.6" fill="url(#hr)" stroke="#111" stroke-width="1.05"/>
<text x="35.0" y="613.9" font-size="10" text-anchor="end" fill="#262626">TP</text>
<rect x="120.90" y="617.90" width="4.45" height="7.6" fill="url(#hr)" stroke="#111" stroke-width="1.05"/>
<text x="35.0" y="625.3" font-size="10" text-anchor="end" fill="#262626">aPHG</text>
<rect x="120.90" y="629.32" width="3.20" height="7.6" fill="#4D4D4D" stroke="#111" stroke-width="1.05"/>
<text x="35.0" y="636.7" font-size="10" text-anchor="end" fill="#262626">Orb</text>
<rect x="117.40" y="640.74" width="2.70" height="7.6" fill="url(#hb)" stroke="#111" stroke-width="1.05"/>
<text x="35.0" y="648.1" font-size="10" text-anchor="end" fill="#262626">Tri</text>
<rect x="115.90" y="652.16" width="4.20" height="7.6" fill="#4D4D4D" stroke="#111" stroke-width="1.05"/>
<text x="35.0" y="659.6" font-size="10" text-anchor="end" fill="#262626">MFG</text>
<rect x="113.65" y="663.58" width="6.45" height="7.6" fill="#4D4D4D" stroke="#111" stroke-width="1.05"/>
<text x="35.0" y="671.0" font-size="10" text-anchor="end" fill="#262626">Op</text>
<rect x="111.90" y="675.00" width="8.20" height="7.6" fill="url(#hb)" stroke="#111" stroke-width="1.05"/>
<text x="35.0" y="682.4" font-size="10" text-anchor="end" fill="#262626">preCG</text>
<rect x="107.15" y="686.42" width="12.95" height="7.6" fill="#4D4D4D" stroke="#111" stroke-width="1.05"/>
<text x="35.0" y="693.8" font-size="10" text-anchor="end" fill="#262626">pFG</text>
<rect x="104.15" y="697.84" width="15.95" height="7.6" fill="url(#hb)" stroke="#111" stroke-width="1.05"/>
<text x="35.0" y="705.2" font-size="10" text-anchor="end" fill="#262626">pSTG</text>
<rect x="102.90" y="709.26" width="17.20" height="7.6" fill="#4D4D4D" stroke="#111" stroke-width="1.05"/>
<text x="35.0" y="716.7" font-size="10" text-anchor="end" fill="#262626">postCG</text>
<rect x="94.90" y="720.68" width="25.20" height="7.6" fill="url(#hb)" stroke="#111" stroke-width="1.05"/>
<text x="35.0" y="728.1" font-size="10" text-anchor="end" fill="#262626">pMTG</text>
<rect x="92.00" y="732.10" width="28.10" height="7.6" fill="#4D4D4D" stroke="#111" stroke-width="1.05"/>
<text x="35.0" y="739.5" font-size="10" text-anchor="end" fill="#262626">pITG</text>
<rect x="86.30" y="743.52" width="33.80" height="7.6" fill="#4D4D4D" stroke="#111" stroke-width="1.05"/>
<text x="35.0" y="750.9" font-size="10" text-anchor="end" fill="#262626">aSTG</text>
<rect x="51.20" y="754.94" width="68.90" height="7.6" fill="#1A1AFF" stroke="#111" stroke-width="1.05"/>
<text x="35.0" y="762.3" font-size="10" text-anchor="end" fill="#262626">SMG</text>
<path d="M40.5 564.60h2 M200.5 564.60h-2 M40.5 576.02h2 M200.5 576.02h-2 M40.5 587.44h2 M200.5 587.44h-2 M40.5 598.86h2 M200.5 598.86h-2 M40.5 610.28h2 M200.5 610.28h-2 M40.5 621.70h2 M200.5 621.70h-2 M40.5 633.12h2 M200.5 633.12h-2 M40.5 644.54h2 M200.5 644.54h-2 M40.5 655.96h2 M200.5 655.96h-2 M40.5 667.38h2 M200.5 667.38h-2 M40.5 678.80h2 M200.5 678.80h-2 M40.5 690.22h2 M200.5 690.22h-2 M40.5 701.64h2 M200.5 701.64h-2 M40.5 713.06h2 M200.5 713.06h-2 M40.5 724.48h2 M200.5 724.48h-2 M40.5 735.90h2 M200.5 735.90h-2 M40.5 747.32h2 M200.5 747.32h-2 M40.5 758.74h2 M200.5 758.74h-2 M59 767v-2 M59 556v2 M89.5 767v-2 M89.5 556v2 M120.5 767v-2 M120.5 556v2 M152 767v-2 M152 556v2 M182.5 767v-2 M182.5 556v2" stroke="#3A3A3A" stroke-width="0.6" fill="none"/>
<rect x="40.5" y="556" width="160" height="211" fill="none" stroke="#3A3A3A" stroke-width="0.8"/>
<text x="49.0" y="550.0" font-size="12" textLength="140.0" lengthAdjust="spacing" fill="#262626">Sorted Rel. Phase at 0.4 s</text>
<text x="0.3" y="543.2" font-size="17" fill="#262626">d</text>
<text x="55.5" y="778.3" font-size="10" text-anchor="middle" fill="#262626">-45</text>
<text x="120.0" y="778.3" font-size="10" text-anchor="middle" fill="#262626">0</text>
<text x="181.5" y="778.3" font-size="10" text-anchor="middle" fill="#262626">45</text>
<text x="26.8" y="789.7" font-size="10.6" textLength="46.5" lengthAdjust="spacing" fill="#262626">(Delayed)</text>
<text x="91.3" y="792.5" font-size="10.6" textLength="60.5" lengthAdjust="spacing" fill="#262626">Phase (deg.)</text>
<text x="160.0" y="789.7" font-size="10.5" textLength="53.2" lengthAdjust="spacing" fill="#262626">(Advanced)</text>
<rect x="516.6" y="60" width="13.9" height="13.8" fill="#FF1A1A"/>
<text x="536.6" y="69.4" font-size="7.95" fill="#262626">Only Advanced</text>
<rect x="516.6" y="82" width="13.9" height="13.8" fill="#1A1AFF"/>
<text x="536.6" y="91.4" font-size="7.95" fill="#262626">Only Delayed</text>
<rect x="516.6" y="104" width="13.9" height="13.8" fill="#4D4D4D"/>
<text x="536.6" y="113.4" font-size="7.95" fill="#262626">Only In-phase</text>
<rect x="516.6" y="126" width="13.9" height="13.8" fill="#B3B3B3"/>
<text x="536.6" y="135.4" font-size="7.95" fill="#262626">Only Out-phase</text>
<rect x="516.6" y="148.10" width="13.9" height="3.5" fill="#FF1A1A"/>
<rect x="516.6" y="151.55" width="13.9" height="3.5" fill="#4D4D4D"/>
<rect x="516.6" y="155.00" width="13.9" height="3.5" fill="#FF1A1A"/>
<rect x="516.6" y="158.45" width="13.9" height="3.5" fill="#4D4D4D"/>
<text x="536.6" y="157.5" font-size="7.95" fill="#262626">Advanced and In-phase</text>
<rect x="516.6" y="170.20" width="13.9" height="3.5" fill="#FF1A1A"/>
<rect x="516.6" y="173.65" width="13.9" height="3.5" fill="#B3B3B3"/>
<rect x="516.6" y="177.10" width="13.9" height="3.5" fill="#FF1A1A"/>
<rect x="516.6" y="180.55" width="13.9" height="3.5" fill="#B3B3B3"/>
<text x="536.6" y="179.6" font-size="7.95" fill="#262626">Advanced and Out-phase</text>
<rect x="516.6" y="192.30" width="13.9" height="3.5" fill="#1A1AFF"/>
<rect x="516.6" y="195.75" width="13.9" height="3.5" fill="#4D4D4D"/>
<rect x="516.6" y="199.20" width="13.9" height="3.5" fill="#1A1AFF"/>
<rect x="516.6" y="202.65" width="13.9" height="3.5" fill="#4D4D4D"/>
<text x="536.6" y="201.7" font-size="7.95" fill="#262626">Delayed and In-phase</text>
<rect x="516.6" y="214.40" width="13.9" height="3.5" fill="#1A1AFF"/>
<rect x="516.6" y="217.85" width="13.9" height="3.5" fill="#B3B3B3"/>
<rect x="516.6" y="221.30" width="13.9" height="3.5" fill="#1A1AFF"/>
<rect x="516.6" y="224.75" width="13.9" height="3.5" fill="#B3B3B3"/>
<text x="536.6" y="223.8" font-size="7.95" fill="#262626">Delayed and Out-phase</text>
<clipPath id="clipc"><rect x="298.5" y="20.5" width="202.0" height="211.0"/></clipPath>
<g clip-path="url(#clipc)"><use href="#brain" transform="translate(390.1,102.9) scale(1.1091,1.1135) translate(-350.3,-657.0)"/>
<circle cx="320.5" cy="47.4" r="11.6" fill="#4D4D4D" stroke="#0a0a0a" stroke-width="1.3"/>
<circle cx="320.5" cy="47.4" r="6.1" fill="#3DF5C2" stroke="#0a0a0a" stroke-width="0.9"/>
<circle cx="392.2" cy="43.6" r="11.3" fill="#4D4D4D"/>
<circle cx="392.2" cy="43.6" r="8.8" fill="none" stroke="#1A1AFF" stroke-width="5.4" stroke-dasharray="4.608 4.608"/>
<circle cx="392.2" cy="43.6" r="11.3" fill="none" stroke="#0a0a0a" stroke-width="1.3"/>
<circle cx="392.2" cy="43.6" r="6.1" fill="#12EEF0" stroke="#0a0a0a" stroke-width="0.9"/>
<circle cx="417.3" cy="51.7" r="11.6" fill="#4D4D4D" stroke="#0a0a0a" stroke-width="1.3"/>
<circle cx="417.3" cy="51.7" r="6.1" fill="#0A6CFF" stroke="#0a0a0a" stroke-width="0.9"/>
<circle cx="466.1" cy="52.7" r="11.6" fill="#1A1AFF" stroke="#0a0a0a" stroke-width="1.3"/>
<circle cx="466.1" cy="52.7" r="6.1" fill="#00008B" stroke="#0a0a0a" stroke-width="0.9"/>
<circle cx="358.4" cy="78.3" r="11.6" fill="#4D4D4D" stroke="#0a0a0a" stroke-width="1.3"/>
<circle cx="358.4" cy="78.3" r="6.1" fill="#10F0F0" stroke="#0a0a0a" stroke-width="0.9"/>
<circle cx="332.0" cy="89.9" r="11.3" fill="#4D4D4D"/>
<circle cx="332.0" cy="89.9" r="8.8" fill="none" stroke="#1A1AFF" stroke-width="5.4" stroke-dasharray="4.608 4.608"/>
<circle cx="332.0" cy="89.9" r="11.3" fill="none" stroke="#0a0a0a" stroke-width="1.3"/>
<circle cx="332.0" cy="89.9" r="6.1" fill="#48F0AA" stroke="#0a0a0a" stroke-width="0.9"/>
<circle cx="431.4" cy="93.7" r="11.3" fill="#4D4D4D"/>
<circle cx="431.4" cy="93.7" r="8.8" fill="none" stroke="#1A1AFF" stroke-width="5.4" stroke-dasharray="4.608 4.608"/>
<circle cx="431.4" cy="93.7" r="11.3" fill="none" stroke="#0a0a0a" stroke-width="1.3"/>
<circle cx="431.4" cy="93.7" r="6.1" fill="#1088FF" stroke="#0a0a0a" stroke-width="0.9"/>
<circle cx="448.4" cy="115.9" r="11.3" fill="#4D4D4D"/>
<circle cx="448.4" cy="115.9" r="8.8" fill="none" stroke="#1A1AFF" stroke-width="5.4" stroke-dasharray="4.608 4.608"/>
<circle cx="448.4" cy="115.9" r="11.3" fill="none" stroke="#0a0a0a" stroke-width="1.3"/>
<circle cx="448.4" cy="115.9" r="6.1" fill="#0808E0" stroke="#0a0a0a" stroke-width="0.9"/>
<circle cx="372.0" cy="121.8" r="11.6" fill="#4D4D4D" stroke="#0a0a0a" stroke-width="1.3"/>
<circle cx="372.0" cy="121.8" r="6.1" fill="#00008B" stroke="#0a0a0a" stroke-width="0.9"/>
<circle cx="322.2" cy="133.7" r="11.6" fill="#4D4D4D" stroke="#0a0a0a" stroke-width="1.3"/>
<circle cx="322.2" cy="133.7" r="6.1" fill="#B4FF3C" stroke="#0a0a0a" stroke-width="0.9"/>
<circle cx="383.8" cy="150.3" r="11.3" fill="#4D4D4D"/>
<circle cx="383.8" cy="150.3" r="8.8" fill="none" stroke="#FF1A1A" stroke-width="5.4" stroke-dasharray="4.608 4.608"/>
<circle cx="383.8" cy="150.3" r="11.3" fill="none" stroke="#0a0a0a" stroke-width="1.3"/>
<circle cx="383.8" cy="150.3" r="6.1" fill="#800000" stroke="#0a0a0a" stroke-width="0.9"/>
<circle cx="458.0" cy="151.4" r="11.6" fill="#4D4D4D" stroke="#0a0a0a" stroke-width="1.3"/>
<circle cx="458.0" cy="151.4" r="6.1" fill="#0000B4" stroke="#0a0a0a" stroke-width="0.9"/>
<circle cx="466.1" cy="170.2" r="11.6" fill="#4D4D4D" stroke="#0a0a0a" stroke-width="1.3"/>
<circle cx="466.1" cy="170.2" r="6.1" fill="#00A4FF" stroke="#0a0a0a" stroke-width="0.9"/>
<circle cx="407.8" cy="173.5" r="11.3" fill="#4D4D4D"/>
<circle cx="407.8" cy="173.5" r="8.8" fill="none" stroke="#FF1A1A" stroke-width="5.4" stroke-dasharray="4.608 4.608"/>
<circle cx="407.8" cy="173.5" r="11.3" fill="none" stroke="#0a0a0a" stroke-width="1.3"/>
<circle cx="407.8" cy="173.5" r="6.1" fill="#7F0000" stroke="#0a0a0a" stroke-width="0.9"/>
<circle cx="359.9" cy="180.1" r="11.3" fill="#4D4D4D"/>
<circle cx="359.9" cy="180.1" r="8.8" fill="none" stroke="#FF1A1A" stroke-width="5.4" stroke-dasharray="4.608 4.608"/>
<circle cx="359.9" cy="180.1" r="11.3" fill="none" stroke="#0a0a0a" stroke-width="1.3"/>
<circle cx="359.9" cy="180.1" r="6.1" fill="#FFA500" stroke="#0a0a0a" stroke-width="0.9"/>
<circle cx="452.4" cy="186.2" r="11.3" fill="#4D4D4D"/>
<circle cx="452.4" cy="186.2" r="8.8" fill="none" stroke="#FF1A1A" stroke-width="5.4" stroke-dasharray="4.608 4.608"/>
<circle cx="452.4" cy="186.2" r="11.3" fill="none" stroke="#0a0a0a" stroke-width="1.3"/>
<circle cx="452.4" cy="186.2" r="6.1" fill="#FF6000" stroke="#0a0a0a" stroke-width="0.9"/>
<circle cx="414.3" cy="199.3" r="11.3" fill="#4D4D4D"/>
<circle cx="414.3" cy="199.3" r="8.8" fill="none" stroke="#FF1A1A" stroke-width="5.4" stroke-dasharray="4.608 4.608"/>
<circle cx="414.3" cy="199.3" r="11.3" fill="none" stroke="#0a0a0a" stroke-width="1.3"/>
<circle cx="414.3" cy="199.3" r="6.1" fill="#FF8C00" stroke="#0a0a0a" stroke-width="0.9"/>
<circle cx="405.2" cy="212.5" r="11.3" fill="#4D4D4D"/>
<circle cx="405.2" cy="212.5" r="8.8" fill="none" stroke="#FF1A1A" stroke-width="5.4" stroke-dasharray="4.608 4.608"/>
<circle cx="405.2" cy="212.5" r="11.3" fill="none" stroke="#0a0a0a" stroke-width="1.3"/>
<circle cx="405.2" cy="212.5" r="6.1" fill="#D2FF28" stroke="#0a0a0a" stroke-width="0.9"/>
</g>
<rect x="310.4" y="179.8" width="11.5" height="30.6" fill="url(#jet)"/>
<text x="316.6" y="176.6" font-size="10.4" text-anchor="middle" fill="#262626">45</text>
<text x="316.8" y="221.3" font-size="10.4" text-anchor="middle" fill="#262626">-45</text>
<text x="335.2" y="223.0" font-size="9.9" textLength="59.5" lengthAdjust="spacing" transform="rotate(-90 335.2 223.0)" fill="#262626">Rel. Ph. (deg.)</text>
<path d="M316.9 231.5v-2 M316.9 20.5v2 M353.5 231.5v-2 M353.5 20.5v2 M390.1 231.5v-2 M390.1 20.5v2 M426.7 231.5v-2 M426.7 20.5v2 M463.3 231.5v-2 M463.3 20.5v2 M298.5 29.7h2 M500.5 29.7h-2 M298.5 66.3h2 M500.5 66.3h-2 M298.5 102.9h2 M500.5 102.9h-2 M298.5 139.5h2 M500.5 139.5h-2 M298.5 176.1h2 M500.5 176.1h-2 M298.5 212.7h2 M500.5 212.7h-2" stroke="#3A3A3A" stroke-width="0.6" fill="none"/>
<rect x="298.5" y="20.5" width="202.0" height="211.0" fill="none" stroke="#3A3A3A" stroke-width="0.8"/>
<text x="294.5" y="33.2" font-size="10" text-anchor="end" textLength="11.5" lengthAdjust="spacing" fill="#262626">40</text>
<text x="294.5" y="69.8" font-size="10" text-anchor="end" textLength="11.5" lengthAdjust="spacing" fill="#262626">20</text>
<text x="294.5" y="106.4" font-size="10" text-anchor="end" textLength="5.5" lengthAdjust="spacing" fill="#262626">0</text>
<text x="294.5" y="143.0" font-size="10" text-anchor="end" textLength="17.0" lengthAdjust="spacing" fill="#262626">−20</text>
<text x="294.5" y="179.6" font-size="10" text-anchor="end" textLength="17.0" lengthAdjust="spacing" fill="#262626">−40</text>
<text x="294.5" y="216.2" font-size="10" text-anchor="end" textLength="17.0" lengthAdjust="spacing" fill="#262626">−60</text>
<text x="315.4" y="245.7" font-size="10" text-anchor="middle" textLength="17.0" lengthAdjust="spacing" fill="#262626">−40</text>
<text x="352.0" y="245.7" font-size="10" text-anchor="middle" textLength="17.0" lengthAdjust="spacing" fill="#262626">−20</text>
<text x="390.1" y="245.7" font-size="10" text-anchor="middle" textLength="5.5" lengthAdjust="spacing" fill="#262626">0</text>
<text x="426.7" y="245.7" font-size="10" text-anchor="middle" textLength="11.5" lengthAdjust="spacing" fill="#262626">20</text>
<text x="463.3" y="245.7" font-size="10" text-anchor="middle" textLength="11.5" lengthAdjust="spacing" fill="#262626">40</text>
<text x="499.9" y="245.7" font-size="10" text-anchor="middle" textLength="11.5" lengthAdjust="spacing" fill="#262626">60</text>
<text x="399.5" y="259.0" font-size="10" text-anchor="middle" textLength="36.0" lengthAdjust="spacing" fill="#262626">y (mm)</text>
<text x="271.4" y="209.0" font-size="10.5" textLength="167.0" lengthAdjust="spacing" transform="rotate(-90 271.4 209.0)" fill="#262626">Elevation from z = 0 plane (deg.)</text>
<text x="287.5" y="14.3" font-size="12" textLength="219.0" lengthAdjust="spacing" fill="#262626">Topographical Map of Rel. Phase at 0.4 s</text>
<text x="249.6" y="11.2" font-size="18" fill="#262626">c</text>
<rect x="288" y="314.5" width="160" height="211" fill="#fff"/>
<path d="M312.60 314.5V525.5 M340.50 314.5V525.5 M368.20 314.5V525.5 M395.80 314.5V525.5 M423.70 314.5V525.5 M288 320.36H448 M288 332.08H448 M288 343.81H448 M288 355.53H448 M288 367.25H448 M288 378.97H448 M288 390.69H448 M288 402.42H448 M288 414.14H448 M288 425.86H448 M288 437.58H448 M288 449.31H448 M288 461.03H448 M288 472.75H448 M288 484.47H448 M288 496.19H448 M288 507.92H448 M288 519.64H448" stroke="#DCDCDC" stroke-width="0.6" fill="none"/>
<rect x="337.66" y="337.94" width="38.62" height="11.72" fill="#B3B3B3"/>
<rect x="332.14" y="361.39" width="33.10" height="11.72" fill="#4D4D4D"/>
<rect x="337.66" y="396.56" width="33.10" height="11.72" fill="#B3B3B3"/>
<rect x="332.14" y="408.28" width="11.03" height="11.72" fill="#4D4D4D"/>
<rect x="337.66" y="420.00" width="33.10" height="11.72" fill="#4D4D4D"/>
<rect x="337.66" y="431.72" width="16.55" height="11.72" fill="#4D4D4D"/>
<path d="M288 320.36h2 M448 320.36h-2 M288 332.08h2 M448 332.08h-2 M288 343.81h2 M448 343.81h-2 M288 355.53h2 M448 355.53h-2 M288 367.25h2 M448 367.25h-2 M288 378.97h2 M448 378.97h-2 M288 390.69h2 M448 390.69h-2 M288 402.42h2 M448 402.42h-2 M288 414.14h2 M448 414.14h-2 M288 425.86h2 M448 425.86h-2 M288 437.58h2 M448 437.58h-2 M288 449.31h2 M448 449.31h-2 M288 461.03h2 M448 461.03h-2 M288 472.75h2 M448 472.75h-2 M288 484.47h2 M448 484.47h-2 M288 496.19h2 M448 496.19h-2 M288 507.92h2 M448 507.92h-2 M288 519.64h2 M448 519.64h-2 M312.60 525.5v-2 M312.60 314.5v2 M340.50 525.5v-2 M340.50 314.5v2 M368.20 525.5v-2 M368.20 314.5v2 M395.80 525.5v-2 M395.80 314.5v2 M423.70 525.5v-2 M423.70 314.5v2" stroke="#3A3A3A" stroke-width="0.6" fill="none"/>
<rect x="288" y="314.5" width="160" height="211" fill="none" stroke="#3A3A3A" stroke-width="0.8"/>
<text x="283.0" y="324.0" font-size="10" text-anchor="end" fill="#262626">TP</text>
<text x="283.0" y="335.7" font-size="10" text-anchor="end" fill="#262626">aSTG</text>
<text x="283.0" y="347.4" font-size="10" text-anchor="end" fill="#262626">aMTG</text>
<text x="283.0" y="359.1" font-size="10" text-anchor="end" fill="#262626">aITG</text>
<text x="283.0" y="370.9" font-size="10" text-anchor="end" fill="#262626">aFG</text>
<text x="283.0" y="382.6" font-size="10" text-anchor="end" fill="#262626">aPHG</text>
<text x="283.0" y="394.3" font-size="10" text-anchor="end" fill="#262626">pSTG</text>
<text x="283.0" y="406.0" font-size="10" text-anchor="end" fill="#262626">pMTG</text>
<text x="283.0" y="417.7" font-size="10" text-anchor="end" fill="#262626">pITG</text>
<text x="283.0" y="429.5" font-size="10" text-anchor="end" fill="#262626">pFG</text>
<text x="283.0" y="441.2" font-size="10" text-anchor="end" fill="#262626">pPHG</text>
<text x="283.0" y="452.9" font-size="10" text-anchor="end" fill="#262626">SMG</text>
<text x="283.0" y="464.6" font-size="10" text-anchor="end" fill="#262626">preCG</text>
<text x="283.0" y="476.4" font-size="10" text-anchor="end" fill="#262626">postCG</text>
<text x="283.0" y="488.1" font-size="10" text-anchor="end" fill="#262626">MFG</text>
<text x="283.0" y="499.8" font-size="10" text-anchor="end" fill="#262626">Op</text>
<text x="283.0" y="511.5" font-size="10" text-anchor="end" fill="#262626">Tri</text>
<text x="283.0" y="523.2" font-size="10" text-anchor="end" fill="#262626">Orb</text>
<text x="300.7" y="292.0" font-size="13.2" textLength="130.3" lengthAdjust="spacing" fill="#262626">Picture onset changes</text>
<text x="318.2" y="308.2" font-size="10.6" textLength="92.5" lengthAdjust="spacing" fill="#262626">(Diff. from baseline)</text>
<text x="246.3" y="290.8" font-size="21.5" fill="#262626">e</text>
<text x="309.2" y="538.8" font-size="10" text-anchor="middle" fill="#262626">0</text>
<text x="340.0" y="538.8" font-size="10" text-anchor="middle" fill="#262626">0.5</text>
<text x="364.2" y="538.8" font-size="10" text-anchor="middle" fill="#262626">1</text>
<text x="395.5" y="538.8" font-size="10" text-anchor="middle" fill="#262626">1.5</text>
<text x="419.5" y="538.8" font-size="10" text-anchor="middle" fill="#262626">2</text>
<text x="305.7" y="552.5" font-size="11.9" textLength="127.5" lengthAdjust="spacing" fill="#262626">Time from stim. onset(s)</text>
<rect x="519.5" y="312.5" width="160" height="211" fill="#fff"/>
<path d="M544.50 312.5V523.5 M572.00 312.5V523.5 M599.50 312.5V523.5 M627.00 312.5V523.5 M654.50 312.5V523.5 M519.5 318.36H679.5 M519.5 330.08H679.5 M519.5 341.81H679.5 M519.5 353.53H679.5 M519.5 365.25H679.5 M519.5 376.97H679.5 M519.5 388.69H679.5 M519.5 400.42H679.5 M519.5 412.14H679.5 M519.5 423.86H679.5 M519.5 435.58H679.5 M519.5 447.31H679.5 M519.5 459.03H679.5 M519.5 470.75H679.5 M519.5 482.47H679.5 M519.5 494.19H679.5 M519.5 505.92H679.5 M519.5 517.64H679.5" stroke="#DCDCDC" stroke-width="0.6" fill="none"/>
<rect x="651.91" y="324.22" width="5.52" height="11.72" fill="#4D4D4D"/>
<rect x="657.43" y="335.94" width="16.55" height="11.72" fill="#4D4D4D"/>
<rect x="591.22" y="382.83" width="22.07" height="11.72" fill="#4D4D4D"/>
<rect x="640.88" y="394.56" width="27.59" height="11.72" fill="#4D4D4D"/>
<rect x="596.74" y="418.00" width="82.76" height="11.72" fill="#B3B3B3"/>
<rect x="596.74" y="429.72" width="27.59" height="11.72" fill="#B3B3B3"/>
<rect x="596.74" y="464.89" width="16.55" height="11.72" fill="#4D4D4D"/>
<path d="M519.5 318.36h2 M679.5 318.36h-2 M519.5 330.08h2 M679.5 330.08h-2 M519.5 341.81h2 M679.5 341.81h-2 M519.5 353.53h2 M679.5 353.53h-2 M519.5 365.25h2 M679.5 365.25h-2 M519.5 376.97h2 M679.5 376.97h-2 M519.5 388.69h2 M679.5 388.69h-2 M519.5 400.42h2 M679.5 400.42h-2 M519.5 412.14h2 M679.5 412.14h-2 M519.5 423.86h2 M679.5 423.86h-2 M519.5 435.58h2 M679.5 435.58h-2 M519.5 447.31h2 M679.5 447.31h-2 M519.5 459.03h2 M679.5 459.03h-2 M519.5 470.75h2 M679.5 470.75h-2 M519.5 482.47h2 M679.5 482.47h-2 M519.5 494.19h2 M679.5 494.19h-2 M519.5 505.92h2 M679.5 505.92h-2 M519.5 517.64h2 M679.5 517.64h-2 M544.50 523.5v-2 M544.50 312.5v2 M572.00 523.5v-2 M572.00 312.5v2 M599.50 523.5v-2 M599.50 312.5v2 M627.00 523.5v-2 M627.00 312.5v2 M654.50 523.5v-2 M654.50 312.5v2" stroke="#3A3A3A" stroke-width="0.6" fill="none"/>
<rect x="519.5" y="312.5" width="160" height="211" fill="none" stroke="#3A3A3A" stroke-width="0.8"/>
<text x="514.7" y="322.0" font-size="10" text-anchor="end" fill="#262626">TP</text>
<text x="514.7" y="333.7" font-size="10" text-anchor="end" fill="#262626">aSTG</text>
<text x="514.7" y="345.4" font-size="10" text-anchor="end" fill="#262626">aMTG</text>
<text x="514.7" y="357.1" font-size="10" text-anchor="end" fill="#262626">aITG</text>
<text x="514.7" y="368.9" font-size="10" text-anchor="end" fill="#262626">aFG</text>
<text x="514.7" y="380.6" font-size="10" text-anchor="end" fill="#262626">aPHG</text>
<text x="514.7" y="392.3" font-size="10" text-anchor="end" fill="#262626">pSTG</text>
<text x="514.7" y="404.0" font-size="10" text-anchor="end" fill="#262626">pMTG</text>
<text x="514.7" y="415.7" font-size="10" text-anchor="end" fill="#262626">pITG</text>
<text x="514.7" y="427.5" font-size="10" text-anchor="end" fill="#262626">pFG</text>
<text x="514.7" y="439.2" font-size="10" text-anchor="end" fill="#262626">pPHG</text>
<text x="514.7" y="450.9" font-size="10" text-anchor="end" fill="#262626">SMG</text>
<text x="514.7" y="462.6" font-size="10" text-anchor="end" fill="#262626">preCG</text>
<text x="514.7" y="474.4" font-size="10" text-anchor="end" fill="#262626">postCG</text>
<text x="514.7" y="486.1" font-size="10" text-anchor="end" fill="#262626">MFG</text>
<text x="514.7" y="497.8" font-size="10" text-anchor="end" fill="#262626">Op</text>
<text x="514.7" y="509.5" font-size="10" text-anchor="end" fill="#262626">Tri</text>
<text x="514.7" y="521.2" font-size="10" text-anchor="end" fill="#262626">Orb</text>
<text x="515.5" y="292.0" font-size="13.3" textLength="164.5" lengthAdjust="spacing" fill="#262626">Articulation-related changes</text>
<text x="548.0" y="307.4" font-size="10.6" textLength="92.5" lengthAdjust="spacing" fill="#262626">(Diff. from baseline)</text>
<text x="475.3" y="290.2" font-size="22" fill="#262626">g</text>
<text x="543.5" y="537.5" font-size="10" text-anchor="middle" fill="#262626">−0.5</text>
<text x="565.8" y="537.5" font-size="10" text-anchor="middle" fill="#262626">0</text>
<text x="597.0" y="537.5" font-size="10" text-anchor="middle" fill="#262626">0.5</text>
<text x="621.0" y="537.5" font-size="10" text-anchor="middle" fill="#262626">1</text>
<text x="651.5" y="537.5" font-size="10" text-anchor="middle" fill="#262626">1.5</text>
<text x="532.7" y="552.5" font-size="11.9" textLength="130.8" lengthAdjust="spacing" fill="#262626">Time from articulation (s)</text>
<clipPath id="clipf"><rect x="268.3" y="583.0" width="181.3" height="189.0"/></clipPath>
<g clip-path="url(#clipf)"><use href="#brain" transform="translate(0,0.00)"/>
<circle cx="287.5" cy="607.1" r="7.05" fill="#00F0FF" stroke="#0a0a0a" stroke-width="0.9"/>
<circle cx="352.2" cy="603.7" r="7.05" fill="#3CF5B4" stroke="#0a0a0a" stroke-width="0.9"/>
<circle cx="374.8" cy="611.0" r="7.05" fill="#3CF5B4" stroke="#0a0a0a" stroke-width="0.9"/>
<circle cx="418.8" cy="611.9" r="7.05" fill="#FFA000" stroke="#0a0a0a" stroke-width="0.9"/>
<circle cx="321.7" cy="634.9" r="7.05" fill="#50F596" stroke="#0a0a0a" stroke-width="0.9"/>
<circle cx="297.9" cy="645.3" r="7.05" fill="#5AF082" stroke="#0a0a0a" stroke-width="0.9"/>
<circle cx="387.5" cy="648.7" r="7.05" fill="#A0FF50" stroke="#0a0a0a" stroke-width="0.9"/>
<circle cx="334.0" cy="673.9" r="7.05" fill="#C0FF30" stroke="#0a0a0a" stroke-width="0.9"/>
<circle cx="289.1" cy="684.6" r="7.05" fill="#6EF06E" stroke="#0a0a0a" stroke-width="0.9"/>
<circle cx="402.9" cy="668.6" r="10.8" fill="#B6B6B6" stroke="#0a0a0a" stroke-width="1.1"/>
<circle cx="402.9" cy="668.6" r="5.8" fill="#00E6FF" stroke="#0a0a0a" stroke-width="1.1"/>
<circle cx="344.6" cy="699.5" r="10.8" fill="#B6B6B6" stroke="#0a0a0a" stroke-width="1.1"/>
<circle cx="344.6" cy="699.5" r="5.8" fill="#D2F528" stroke="#0a0a0a" stroke-width="1.1"/>
<circle cx="411.5" cy="700.5" r="7.05" fill="#82F564" stroke="#0a0a0a" stroke-width="0.9"/>
<circle cx="418.8" cy="717.4" r="10.8" fill="#4D4D4D" stroke="#0a0a0a" stroke-width="1.1"/>
<circle cx="418.8" cy="717.4" r="5.8" fill="#32E6AA" stroke="#0a0a0a" stroke-width="1.1"/>
<circle cx="366.3" cy="720.4" r="7.05" fill="#FFE100" stroke="#0a0a0a" stroke-width="0.9"/>
<circle cx="323.1" cy="726.3" r="7.05" fill="#A0FF50" stroke="#0a0a0a" stroke-width="0.9"/>
<circle cx="406.5" cy="731.8" r="10.8" fill="#4D4D4D" stroke="#0a0a0a" stroke-width="1.1"/>
<circle cx="406.5" cy="731.8" r="5.8" fill="#5AF078" stroke="#0a0a0a" stroke-width="1.1"/>
<circle cx="363.9" cy="755.4" r="7.05" fill="#00E6F5" stroke="#0a0a0a" stroke-width="0.9"/>
<circle cx="372.1" cy="743.5" r="10.8" fill="#4D4D4D" stroke="#0a0a0a" stroke-width="1.1"/>
<circle cx="372.1" cy="743.5" r="5.8" fill="#64F06E" stroke="#0a0a0a" stroke-width="1.1"/>
</g>
<rect x="274" y="723.6" width="11.2" height="30.7" fill="url(#jet)"/>
<text x="279.8" y="720.3" font-size="10.2" text-anchor="middle" fill="#262626">45</text>
<text x="280.3" y="764.6" font-size="10.2" text-anchor="middle" fill="#262626">-45</text>
<text x="298.2" y="766.8" font-size="9.8" textLength="59.6" lengthAdjust="spacing" transform="rotate(-90 298.2 766.8)" fill="#262626">Rel. Ph. (deg.)</text>
<text x="310.0" y="767.6" font-size="9.6" textLength="78.5" lengthAdjust="spacing" transform="rotate(-90 310.0 767.6)" fill="#262626">(Diff from baseline)</text>
<path d="M284.3 772.0v-2 M284.3 583.0v2 M317.3 772.0v-2 M317.3 583.0v2 M350.3 772.0v-2 M350.3 583.0v2 M383.3 772.0v-2 M383.3 583.0v2 M416.3 772.0v-2 M416.3 583.0v2 M268.3 591.2h2 M449.6 591.2h-2 M268.3 624.1h2 M449.6 624.1h-2 M268.3 657.0h2 M449.6 657.0h-2 M268.3 689.8h2 M449.6 689.8h-2 M268.3 722.7h2 M449.6 722.7h-2 M268.3 755.6h2 M449.6 755.6h-2" stroke="#3A3A3A" stroke-width="0.6" fill="none"/>
<rect x="268.3" y="583.0" width="181.3" height="189.0" fill="none" stroke="#3A3A3A" stroke-width="0.8"/>
<text x="264.0" y="594.3" font-size="8.8" text-anchor="end" textLength="9.8" lengthAdjust="spacing" fill="#262626">40</text>
<text x="264.0" y="627.2" font-size="8.8" text-anchor="end" textLength="9.8" lengthAdjust="spacing" fill="#262626">20</text>
<text x="264.0" y="660.1" font-size="8.8" text-anchor="end" textLength="4.9" lengthAdjust="spacing" fill="#262626">0</text>
<text x="264.0" y="692.9" font-size="8.8" text-anchor="end" textLength="14.8" lengthAdjust="spacing" fill="#262626">−20</text>
<text x="264.0" y="725.8" font-size="8.8" text-anchor="end" textLength="14.8" lengthAdjust="spacing" fill="#262626">−40</text>
<text x="264.0" y="758.7" font-size="8.8" text-anchor="end" textLength="14.8" lengthAdjust="spacing" fill="#262626">−60</text>
<text x="282.8" y="785.0" font-size="8.8" text-anchor="middle" textLength="14.8" lengthAdjust="spacing" fill="#262626">−40</text>
<text x="315.8" y="785.0" font-size="8.8" text-anchor="middle" textLength="14.8" lengthAdjust="spacing" fill="#262626">−20</text>
<text x="350.3" y="785.0" font-size="8.8" text-anchor="middle" textLength="4.9" lengthAdjust="spacing" fill="#262626">0</text>
<text x="383.3" y="785.0" font-size="8.8" text-anchor="middle" textLength="9.8" lengthAdjust="spacing" fill="#262626">20</text>
<text x="416.3" y="785.0" font-size="8.8" text-anchor="middle" textLength="9.8" lengthAdjust="spacing" fill="#262626">40</text>
<text x="449.3" y="785.0" font-size="8.8" text-anchor="middle" textLength="9.8" lengthAdjust="spacing" fill="#262626">60</text>
<text x="358.3" y="797.0" font-size="9.5" text-anchor="middle" textLength="33.0" lengthAdjust="spacing" fill="#262626">y (mm)</text>
<text x="244.5" y="753.5" font-size="9.5" textLength="149.5" lengthAdjust="spacing" transform="rotate(-90 244.5 753.5)" fill="#262626">Elevation from z = 0 plane (deg.)</text>
<text x="273.0" y="577.6" font-size="10.4" textLength="182.0" lengthAdjust="spacing" fill="#262626">Rel. Phase at 0.6 s (Diff. from baseline)</text>
<text x="246.5" y="562.0" font-size="20" fill="#262626">f</text>
<clipPath id="cliph"><rect x="498.8" y="582.8" width="181.3" height="189.0"/></clipPath>
<g clip-path="url(#cliph)"><use href="#brain" transform="translate(230.5,-0.20)"/>
<circle cx="518.0" cy="606.9" r="7.05" fill="#F0F528" stroke="#0a0a0a" stroke-width="0.9"/>
<circle cx="582.7" cy="603.5" r="7.05" fill="#82F564" stroke="#0a0a0a" stroke-width="0.9"/>
<circle cx="605.3" cy="610.8" r="10.8" fill="#4D4D4D" stroke="#0a0a0a" stroke-width="1.1"/>
<circle cx="605.3" cy="610.8" r="5.8" fill="#A5FF46" stroke="#0a0a0a" stroke-width="1.1"/>
<circle cx="649.3" cy="611.7" r="7.05" fill="#6EF582" stroke="#0a0a0a" stroke-width="0.9"/>
<circle cx="552.2" cy="634.7" r="7.05" fill="#FFB400" stroke="#0a0a0a" stroke-width="0.9"/>
<circle cx="528.4" cy="645.1" r="7.05" fill="#82F564" stroke="#0a0a0a" stroke-width="0.9"/>
<circle cx="618.0" cy="648.5" r="10.8" fill="#4D4D4D" stroke="#0a0a0a" stroke-width="1.1"/>
<circle cx="618.0" cy="648.5" r="5.8" fill="#8CF550" stroke="#0a0a0a" stroke-width="1.1"/>
<circle cx="633.4" cy="668.4" r="7.05" fill="#FFB400" stroke="#0a0a0a" stroke-width="0.9"/>
<circle cx="564.5" cy="673.7" r="7.05" fill="#D2F532" stroke="#0a0a0a" stroke-width="0.9"/>
<circle cx="519.6" cy="684.4" r="7.05" fill="#82F564" stroke="#0a0a0a" stroke-width="0.9"/>
<circle cx="575.1" cy="699.3" r="7.05" fill="#00BEFF" stroke="#0a0a0a" stroke-width="0.9"/>
<circle cx="642.0" cy="700.3" r="7.05" fill="#C8F532" stroke="#0a0a0a" stroke-width="0.9"/>
<circle cx="649.3" cy="717.2" r="10.8" fill="#B6B6B6" stroke="#0a0a0a" stroke-width="1.1"/>
<circle cx="649.3" cy="717.2" r="5.8" fill="#C8F532" stroke="#0a0a0a" stroke-width="1.1"/>
<circle cx="596.8" cy="720.2" r="7.05" fill="#F0F528" stroke="#0a0a0a" stroke-width="0.9"/>
<circle cx="553.6" cy="726.1" r="7.05" fill="#6EF582" stroke="#0a0a0a" stroke-width="0.9"/>
<circle cx="637.0" cy="731.6" r="10.8" fill="#B6B6B6" stroke="#0a0a0a" stroke-width="1.1"/>
<circle cx="637.0" cy="731.6" r="5.8" fill="#D2F528" stroke="#0a0a0a" stroke-width="1.1"/>
<circle cx="602.6" cy="743.3" r="7.05" fill="#FFC31E" stroke="#0a0a0a" stroke-width="0.9"/>
<circle cx="594.4" cy="755.2" r="7.05" fill="#A5F541" stroke="#0a0a0a" stroke-width="0.9"/>
</g>
<rect x="504.4" y="723.6" width="11.2" height="30.7" fill="url(#jet)"/>
<text x="510.2" y="720.3" font-size="10.2" text-anchor="middle" fill="#262626">45</text>
<text x="510.7" y="764.6" font-size="10.2" text-anchor="middle" fill="#262626">-45</text>
<text x="528.6" y="766.8" font-size="9.8" textLength="59.6" lengthAdjust="spacing" transform="rotate(-90 528.6 766.8)" fill="#262626">Rel. Ph. (deg.)</text>
<text x="540.4" y="767.6" font-size="9.6" textLength="78.5" lengthAdjust="spacing" transform="rotate(-90 540.4 767.6)" fill="#262626">(Diff from baseline)</text>
<path d="M514.8 771.8v-2 M514.8 582.8v2 M547.8 771.8v-2 M547.8 582.8v2 M580.8 771.8v-2 M580.8 582.8v2 M613.8 771.8v-2 M613.8 582.8v2 M646.8 771.8v-2 M646.8 582.8v2 M498.8 591.0h2 M680.1 591.0h-2 M498.8 623.9h2 M680.1 623.9h-2 M498.8 656.8h2 M680.1 656.8h-2 M498.8 689.6h2 M680.1 689.6h-2 M498.8 722.5h2 M680.1 722.5h-2 M498.8 755.4h2 M680.1 755.4h-2" stroke="#3A3A3A" stroke-width="0.6" fill="none"/>
<rect x="498.8" y="582.8" width="181.3" height="189.0" fill="none" stroke="#3A3A3A" stroke-width="0.8"/>
<text x="493.7" y="594.1" font-size="8.8" text-anchor="end" textLength="9.8" lengthAdjust="spacing" fill="#262626">40</text>
<text x="493.7" y="627.0" font-size="8.8" text-anchor="end" textLength="9.8" lengthAdjust="spacing" fill="#262626">20</text>
<text x="493.7" y="659.9" font-size="8.8" text-anchor="end" textLength="4.9" lengthAdjust="spacing" fill="#262626">0</text>
<text x="493.7" y="692.7" font-size="8.8" text-anchor="end" textLength="14.8" lengthAdjust="spacing" fill="#262626">−20</text>
<text x="493.7" y="725.6" font-size="8.8" text-anchor="end" textLength="14.8" lengthAdjust="spacing" fill="#262626">−40</text>
<text x="493.7" y="758.5" font-size="8.8" text-anchor="end" textLength="14.8" lengthAdjust="spacing" fill="#262626">−60</text>
<text x="513.3" y="785.0" font-size="8.8" text-anchor="middle" textLength="14.8" lengthAdjust="spacing" fill="#262626">−40</text>
<text x="546.3" y="785.0" font-size="8.8" text-anchor="middle" textLength="14.8" lengthAdjust="spacing" fill="#262626">−20</text>
<text x="580.8" y="785.0" font-size="8.8" text-anchor="middle" textLength="4.9" lengthAdjust="spacing" fill="#262626">0</text>
<text x="613.8" y="785.0" font-size="8.8" text-anchor="middle" textLength="9.8" lengthAdjust="spacing" fill="#262626">20</text>
<text x="646.8" y="785.0" font-size="8.8" text-anchor="middle" textLength="9.8" lengthAdjust="spacing" fill="#262626">40</text>
<text x="679.8" y="785.0" font-size="8.8" text-anchor="middle" textLength="9.8" lengthAdjust="spacing" fill="#262626">60</text>
<text x="588.8" y="797.0" font-size="9.5" text-anchor="middle" textLength="33.0" lengthAdjust="spacing" fill="#262626">y (mm)</text>
<text x="475.5" y="753.5" font-size="9.5" textLength="149.5" lengthAdjust="spacing" transform="rotate(-90 475.5 753.5)" fill="#262626">Elevation from z = 0 plane (deg.)</text>
<text x="499.0" y="577.6" font-size="10.4" textLength="182.0" lengthAdjust="spacing" fill="#262626">Rel. Phase at 0.5 s (Diff. from baseline)</text>
<text x="476.3" y="562.0" font-size="20" fill="#262626">h</text>
<path d="M348.3 314.5 L345.7 525.5" stroke="#42ABE6" stroke-width="1.6" fill="none"/>
<path d="M346.3 486.3 Q372 520 382.2 564.2 M376.6 556.2 L382.2 564.2 L384.6 554.8" stroke="#42ABE6" stroke-width="1.4" fill="none" stroke-linecap="round" stroke-linejoin="round"/>
<path d="M600.5 312.5 L598.5 523.5" stroke="#42ABE6" stroke-width="1.6" fill="none"/>
<path d="M599 488.8 Q626 520 635.2 567 M629.5 559 L635.2 567 L637.2 557.6" stroke="#42ABE6" stroke-width="1.4" fill="none" stroke-linecap="round" stroke-linejoin="round"/>
<path d="M226.5 806 V266.5 H676" stroke="#777" stroke-width="0.9" fill="none"/>
</g></svg></body></html>
